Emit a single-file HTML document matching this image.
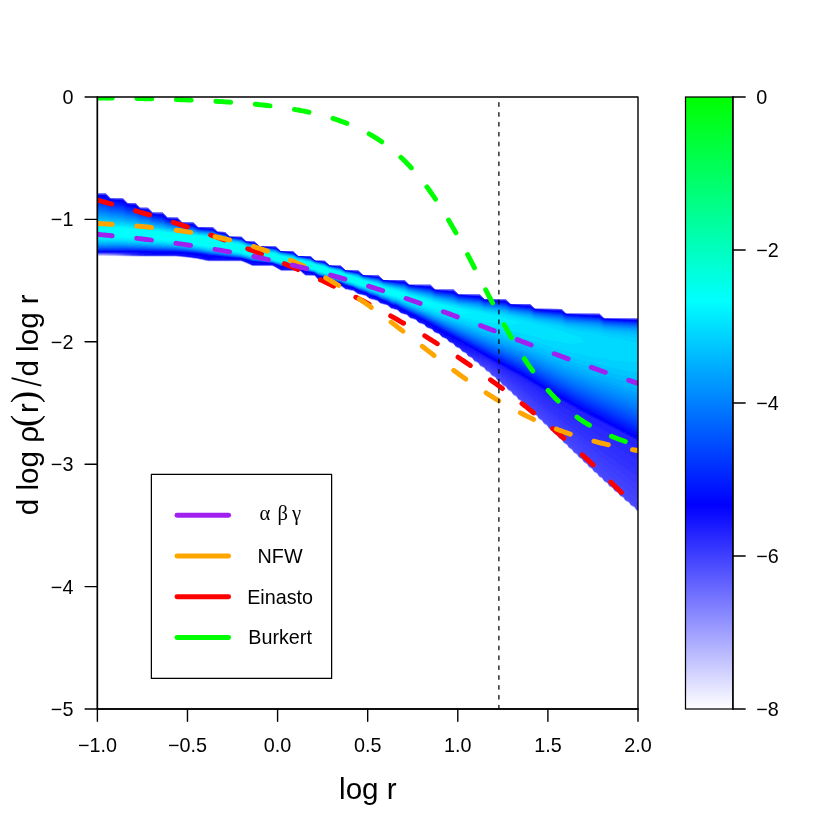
<!DOCTYPE html>
<html><head><meta charset="utf-8"><title>plot</title>
<style>html,body{margin:0;padding:0;background:#fff}svg{display:block;will-change:transform}text{font-family:"Liberation Sans",sans-serif;fill:#000}text.sr{font-family:"Liberation Serif",serif}</style>
</head><body>
<svg width="830" height="830" viewBox="0 0 830 830">
<rect width="830" height="830" fill="#fff"/>
<defs>
<clipPath id="pc"><rect x="97.38" y="97.0" width="540.62" height="612.0"/></clipPath>
<linearGradient id="cb" x1="0" y1="0" x2="0" y2="1">
<stop offset="0" stop-color="#00ff00"/><stop offset="0.33333" stop-color="#00ffff"/><stop offset="0.66667" stop-color="#0000ff"/><stop offset="1" stop-color="#ffffff"/>
</linearGradient>
<filter id="bl" x="-2%" y="-5%" width="104%" height="110%"><feGaussianBlur stdDeviation="0.6"/></filter>
</defs>
<g clip-path="url(#pc)">
<g filter="url(#bl)">
<path d="M96.4,193.4 105.4,193.4 106.4,194.1 110.4,198.2 122.4,198.2 123.4,198.9 127.4,203.0 135.4,203.0 139.4,207.2 140.4,207.8 147.4,207.8 148.4,208.3 152.4,212.5 153.4,212.6 162.4,212.6 163.4,213.3 167.4,217.5 177.4,217.6 181.4,221.7 182.4,222.3 192.4,222.3 193.4,222.5 197.4,226.7 198.4,227.1 212.4,227.1 213.4,227.7 217.4,231.8 224.4,231.9 225.4,232.4 229.4,236.5 230.4,236.7 241.4,236.7 245.4,240.9 246.4,241.5 254.4,241.5 259.4,246.3 275.4,246.3 276.4,247.0 280.4,251.1 292.4,251.1 293.4,251.5 297.4,255.7 298.4,255.9 310.4,256.0 314.4,260.1 315.4,260.7 324.4,260.7 325.4,261.5 329.4,265.6 340.4,265.6 341.4,266.3 345.4,270.4 357.4,270.4 358.4,270.6 362.4,274.7 363.4,275.2 378.4,275.2 382.4,279.4 383.4,280.0 404.4,280.0 408.4,284.1 409.4,284.8 430.4,284.8 434.4,288.9 435.4,289.6 453.4,289.6 454.4,290.3 458.4,294.4 479.4,294.4 480.4,295.1 484.4,299.2 505.4,299.2 506.4,299.9 510.4,304.0 529.4,304.0 530.4,304.3 534.4,308.4 535.4,308.8 561.4,308.9 565.4,313.1 566.4,313.7 599.4,313.7 603.4,317.8 604.4,318.5 638.4,318.5 638.4,511.6 636.4,510.5 635.4,508.8 634.4,507.6 631.4,506.2 630.4,505.0 629.4,503.3 628.4,502.6 625.4,501.1 624.4,499.3 623.4,498.0 620.4,496.5 619.4,495.2 618.4,493.4 615.4,491.9 614.4,491.0 613.4,489.2 612.4,488.2 609.4,486.7 608.4,484.9 607.4,483.5 604.4,482.0 602.4,478.8 599.4,477.3 598.4,475.9 597.4,474.1 594.4,472.5 593.4,471.3 592.4,469.3 589.4,467.7 588.4,466.6 587.4,464.7 584.4,463.0 583.4,461.9 582.4,459.9 579.4,458.2 578.4,457.1 577.4,455.1 574.4,453.3 573.4,452.3 572.4,450.3 569.4,448.5 568.4,447.4 567.4,445.5 564.4,443.7 563.4,442.6 562.4,440.6 559.4,438.9 558.4,437.7 557.4,435.8 554.4,434.1 553.4,432.9 552.4,430.9 549.4,429.2 548.4,428.0 547.4,426.1 544.4,424.4 543.4,423.2 542.4,421.3 539.4,419.6 538.4,418.5 537.4,416.5 534.4,414.8 533.4,413.7 532.4,411.8 529.4,410.1 528.4,409.1 527.4,407.1 526.4,406.3 524.4,405.3 523.4,404.5 522.4,402.6 521.4,401.6 518.4,400.0 517.4,398.1 516.4,396.9 513.4,395.4 511.4,392.2 508.4,390.7 507.4,389.4 506.4,387.6 503.4,386.0 502.4,385.2 501.4,383.4 500.4,382.4 497.4,380.9 495.4,377.8 492.4,376.4 491.4,375.5 490.4,373.7 489.4,372.8 486.4,371.4 484.4,368.3 480.4,366.5 478.4,363.4 474.4,361.5 472.4,358.6 468.4,356.8 466.4,353.8 462.4,352.1 460.4,349.2 456.4,347.5 455.4,346.7 454.4,345.2 453.4,344.1 449.4,342.5 447.4,340.1 446.4,339.2 442.4,337.7 439.4,334.5 435.4,333.1 434.4,332.5 432.4,329.9 427.4,328.2 426.4,327.4 424.4,325.0 419.4,323.4 418.4,322.9 416.4,320.5 415.4,320.0 410.4,318.5 409.4,317.7 407.4,315.5 401.4,313.7 400.4,313.2 398.4,311.1 397.4,310.5 391.4,308.8 390.4,308.2 388.4,306.2 387.4,305.6 380.4,303.7 377.4,301.0 369.4,299.0 366.4,296.4 365.4,296.0 358.4,294.4 357.4,294.0 354.4,291.6 353.4,291.2 345.4,289.5 341.4,286.5 332.4,284.9 328.4,281.5 324.4,280.8 319.4,280.4 318.4,280.1 315.4,276.8 314.4,276.1 305.4,275.8 301.4,272.2 300.4,271.4 299.4,271.1 281.4,271.1 273.4,266.5 272.4,266.2 253.4,266.2 252.4,266.1 246.4,263.4 241.4,261.4 208.4,261.4 197.4,259.1 187.4,257.8 176.4,256.6 142.4,256.6 96.4,256.1Z" fill="#ededff"/>
<path d="M96.4,193.4 105.4,193.4 106.4,194.1 110.4,198.2 122.4,198.2 123.4,198.9 127.4,203.0 135.4,203.0 139.4,207.2 140.4,207.8 147.4,207.8 148.4,208.3 152.4,212.5 153.4,212.6 162.4,212.6 163.4,213.3 167.4,217.5 177.4,217.6 181.4,221.7 182.4,222.3 192.4,222.3 193.4,222.5 197.4,226.7 198.4,227.1 212.4,227.1 213.4,227.7 217.4,231.8 224.4,231.9 225.4,232.4 229.4,236.5 230.4,236.7 241.4,236.7 245.4,240.9 246.4,241.5 254.4,241.5 259.4,246.3 275.4,246.3 276.4,247.0 280.4,251.1 292.4,251.1 293.4,251.5 297.4,255.7 298.4,255.9 310.4,256.0 314.4,260.1 315.4,260.7 324.4,260.7 325.4,261.5 329.4,265.6 340.4,265.6 341.4,266.3 345.4,270.4 357.4,270.4 358.4,270.6 362.4,274.7 363.4,275.2 378.4,275.2 382.4,279.4 383.4,280.0 404.4,280.0 408.4,284.1 409.4,284.8 430.4,284.8 434.4,288.9 435.4,289.6 453.4,289.6 454.4,290.3 458.4,294.4 479.4,294.4 480.4,295.1 484.4,299.2 505.4,299.2 506.4,299.9 510.4,304.0 529.4,304.0 530.4,304.3 534.4,308.4 535.4,308.8 561.4,308.9 565.4,313.1 566.4,313.7 599.4,313.7 603.4,317.8 604.4,318.5 638.4,318.5 638.4,511.5 636.4,510.4 635.4,508.6 634.4,507.4 631.4,506.0 630.4,504.9 629.4,503.1 628.4,502.4 625.4,501.0 624.4,499.2 623.4,497.8 620.4,496.4 619.4,495.1 618.4,493.3 615.4,491.7 614.4,490.9 613.4,489.0 612.4,488.1 609.4,486.5 608.4,484.7 607.4,483.4 604.4,481.8 602.4,478.7 599.4,477.1 598.4,475.7 597.4,473.9 594.4,472.4 593.4,471.1 592.4,469.2 589.4,467.6 588.4,466.5 587.4,464.5 584.4,462.8 583.4,461.7 582.4,459.8 579.4,458.0 578.4,457.0 577.4,455.0 574.4,453.2 573.4,452.1 572.4,450.2 569.4,448.4 568.4,447.3 567.4,445.3 564.4,443.6 563.4,442.4 562.4,440.5 559.4,438.7 558.4,437.6 557.4,435.6 554.4,433.9 553.4,432.7 552.4,430.8 549.4,429.1 548.4,427.9 547.4,425.9 544.4,424.3 543.4,423.1 542.4,421.1 539.4,419.5 538.4,418.3 537.4,416.4 534.4,414.7 533.4,413.6 532.4,411.7 529.4,409.9 528.4,408.9 527.4,407.0 526.4,406.2 524.4,405.2 523.4,404.4 522.4,402.4 521.4,401.5 518.4,399.8 517.4,397.9 516.4,396.7 513.4,395.2 511.4,392.0 508.4,390.5 507.4,389.3 506.4,387.4 503.4,385.9 502.4,385.1 501.4,383.3 500.4,382.3 497.4,380.8 495.4,377.7 492.4,376.2 491.4,375.4 490.4,373.6 489.4,372.6 486.4,371.2 484.4,368.2 480.4,366.3 478.4,363.3 474.4,361.4 472.4,358.4 468.4,356.6 466.4,353.7 462.4,352.0 460.4,349.1 456.4,347.4 455.4,346.6 454.4,345.1 453.4,344.0 449.4,342.4 447.4,339.9 446.4,339.1 442.4,337.6 439.4,334.4 435.4,332.9 434.4,332.4 432.4,329.8 427.4,328.0 426.4,327.3 424.4,324.9 419.4,323.3 418.4,322.7 416.4,320.4 415.4,319.9 410.4,318.4 409.4,317.6 407.4,315.4 401.4,313.6 400.4,313.0 398.4,311.0 397.4,310.3 391.4,308.7 390.4,308.0 388.4,306.1 387.4,305.5 380.4,303.6 377.4,300.9 369.4,298.9 366.4,296.3 365.4,295.9 358.4,294.3 357.4,293.9 354.4,291.5 353.4,291.1 345.4,289.4 341.4,286.4 332.4,284.8 328.4,281.4 324.4,280.7 319.4,280.3 318.4,280.0 315.4,276.7 314.4,276.0 305.4,275.7 301.4,272.1 300.4,271.3 299.4,270.9 281.4,270.9 273.4,266.4 272.4,266.1 253.4,266.1 252.4,266.0 246.4,263.3 241.4,261.3 208.4,261.3 197.4,259.0 187.4,257.6 176.4,256.5 141.4,256.5 96.4,255.8Z" fill="#dedeff"/>
<path d="M96.4,193.4 105.4,193.4 106.4,194.1 110.4,198.2 122.4,198.2 123.4,198.9 127.4,203.0 135.4,203.0 139.4,207.2 140.4,207.8 147.4,207.8 148.4,208.3 152.4,212.5 153.4,212.6 162.4,212.6 163.4,213.3 167.4,217.5 177.4,217.6 181.4,221.7 182.4,222.3 192.4,222.3 193.4,222.5 197.4,226.7 198.4,227.1 212.4,227.1 213.4,227.7 217.4,231.8 224.4,231.9 225.4,232.4 229.4,236.5 230.4,236.7 241.4,236.7 245.4,240.9 246.4,241.5 254.4,241.5 259.4,246.3 275.4,246.3 276.4,247.0 280.4,251.1 292.4,251.1 293.4,251.5 297.4,255.7 298.4,255.9 310.4,256.0 314.4,260.1 315.4,260.7 324.4,260.7 325.4,261.5 329.4,265.6 340.4,265.6 341.4,266.3 345.4,270.4 357.4,270.4 358.4,270.6 362.4,274.7 363.4,275.2 378.4,275.2 382.4,279.4 383.4,280.0 404.4,280.0 408.4,284.1 409.4,284.8 430.4,284.8 434.4,288.9 435.4,289.6 453.4,289.6 454.4,290.3 458.4,294.4 479.4,294.4 480.4,295.1 484.4,299.2 505.4,299.2 506.4,299.9 510.4,304.0 529.4,304.0 530.4,304.3 534.4,308.4 535.4,308.8 561.4,308.9 565.4,313.1 566.4,313.7 599.4,313.7 603.4,317.8 604.4,318.5 638.4,318.5 638.4,511.3 636.4,510.2 635.4,508.5 634.4,507.3 631.4,505.9 630.4,504.7 629.4,503.0 628.4,502.3 625.4,500.8 624.4,499.0 623.4,497.7 620.4,496.2 619.4,495.0 618.4,493.1 615.4,491.6 614.4,490.8 613.4,488.9 612.4,487.9 609.4,486.4 608.4,484.6 607.4,483.2 604.4,481.7 602.4,478.5 599.4,477.0 598.4,475.6 597.4,473.8 594.4,472.2 593.4,471.0 592.4,469.1 589.4,467.4 588.4,466.3 587.4,464.4 584.4,462.7 583.4,461.6 582.4,459.6 579.4,457.9 578.4,456.8 577.4,454.8 574.4,453.1 573.4,452.0 572.4,450.0 569.4,448.2 568.4,447.2 567.4,445.2 564.4,443.4 563.4,442.3 562.4,440.3 559.4,438.6 558.4,437.4 557.4,435.5 554.4,433.8 553.4,432.6 552.4,430.6 549.4,429.0 548.4,427.8 547.4,425.8 544.4,424.1 543.4,422.9 542.4,421.0 539.4,419.3 538.4,418.2 537.4,416.2 534.4,414.5 533.4,413.5 532.4,411.5 529.4,409.8 528.4,408.8 527.4,406.9 526.4,406.1 524.4,405.0 523.4,404.2 522.4,402.3 521.4,401.3 518.4,399.7 517.4,397.8 516.4,396.6 513.4,395.1 511.4,391.9 508.4,390.4 507.4,389.1 506.4,387.3 503.4,385.8 502.4,384.9 501.4,383.1 500.4,382.1 497.4,380.7 495.4,377.5 492.4,376.1 491.4,375.2 490.4,373.5 489.4,372.5 486.4,371.1 484.4,368.1 480.4,366.2 478.4,363.1 474.4,361.2 472.4,358.3 468.4,356.5 466.4,353.5 462.4,351.9 460.4,349.0 456.4,347.2 455.4,346.4 454.4,345.0 453.4,343.9 449.4,342.3 447.4,339.8 446.4,339.0 442.4,337.5 439.4,334.3 435.4,332.8 434.4,332.2 432.4,329.7 427.4,327.9 426.4,327.2 424.4,324.8 419.4,323.2 418.4,322.6 416.4,320.3 415.4,319.8 410.4,318.3 409.4,317.5 407.4,315.3 401.4,313.5 400.4,312.9 398.4,310.9 397.4,310.2 391.4,308.6 390.4,307.9 388.4,306.0 387.4,305.4 380.4,303.5 377.4,300.8 369.4,298.8 366.4,296.2 365.4,295.8 358.4,294.2 357.4,293.8 354.4,291.4 353.4,291.0 345.4,289.3 341.4,286.3 332.4,284.6 328.4,281.3 324.4,280.6 319.4,280.2 318.4,279.9 315.4,276.6 314.4,275.9 305.4,275.6 301.4,272.0 300.4,271.2 299.4,270.8 281.4,270.8 273.4,266.3 272.4,266.0 253.4,266.0 252.4,265.9 246.4,263.1 241.4,261.2 208.4,261.2 197.4,258.9 187.4,257.5 176.4,256.4 140.4,256.4 96.4,255.6Z" fill="#d0d0ff"/>
<path d="M96.4,193.4 105.4,193.4 106.4,194.1 110.4,198.2 122.4,198.2 123.4,198.9 127.4,203.0 135.4,203.0 139.4,207.2 140.4,207.8 147.4,207.8 148.4,208.3 152.4,212.5 153.4,212.6 162.4,212.6 163.4,213.3 167.4,217.5 177.4,217.6 181.4,221.7 182.4,222.3 192.4,222.3 193.4,222.5 197.4,226.7 198.4,227.1 212.4,227.1 213.4,227.7 217.4,231.8 224.4,231.9 225.4,232.4 229.4,236.5 230.4,236.7 241.4,236.7 245.4,240.9 246.4,241.5 254.4,241.5 259.4,246.3 275.4,246.3 276.4,247.0 280.4,251.1 292.4,251.1 293.4,251.5 297.4,255.7 298.4,255.9 310.4,256.0 314.4,260.1 315.4,260.7 324.4,260.7 325.4,261.5 329.4,265.6 340.4,265.6 341.4,266.3 345.4,270.4 357.4,270.4 358.4,270.6 362.4,274.7 363.4,275.2 378.4,275.2 382.4,279.4 383.4,280.0 404.4,280.0 408.4,284.1 409.4,284.8 430.4,284.8 434.4,288.9 435.4,289.6 453.4,289.6 454.4,290.3 458.4,294.4 479.4,294.4 480.4,295.1 484.4,299.2 505.4,299.2 506.4,299.9 510.4,304.0 529.4,304.0 530.4,304.3 534.4,308.4 535.4,308.8 561.4,308.9 565.4,313.1 566.4,313.7 599.4,313.7 603.4,317.8 604.4,318.5 638.4,318.5 638.4,511.2 636.4,510.1 635.4,508.4 634.4,507.1 631.4,505.7 630.4,504.6 629.4,502.8 628.4,502.1 625.4,500.7 624.4,498.9 623.4,497.5 620.4,496.1 619.4,494.8 618.4,493.0 615.4,491.4 614.4,490.6 613.4,488.8 612.4,487.8 609.4,486.3 608.4,484.4 607.4,483.1 604.4,481.6 602.4,478.4 599.4,476.8 598.4,475.5 597.4,473.6 594.4,472.1 593.4,470.9 592.4,468.9 589.4,467.3 588.4,466.2 587.4,464.2 584.4,462.5 583.4,461.5 582.4,459.5 579.4,457.7 578.4,456.7 577.4,454.7 574.4,452.9 573.4,451.9 572.4,449.9 569.4,448.1 568.4,447.0 567.4,445.0 564.4,443.3 563.4,442.2 562.4,440.2 559.4,438.4 558.4,437.3 557.4,435.3 554.4,433.6 553.4,432.4 552.4,430.5 549.4,428.8 548.4,427.6 547.4,425.6 544.4,424.0 543.4,422.8 542.4,420.8 539.4,419.2 538.4,418.0 537.4,416.1 534.4,414.4 533.4,413.3 532.4,411.4 529.4,409.6 528.4,408.7 527.4,406.7 526.4,405.9 524.4,404.9 523.4,404.1 522.4,402.1 521.4,401.2 518.4,399.6 517.4,397.7 516.4,396.5 513.4,394.9 511.4,391.8 508.4,390.3 507.4,389.0 506.4,387.1 503.4,385.6 502.4,384.8 501.4,383.0 500.4,382.0 497.4,380.5 495.4,377.4 492.4,375.9 491.4,375.1 490.4,373.3 489.4,372.4 486.4,370.9 484.4,367.9 480.4,366.0 478.4,363.0 474.4,361.1 472.4,358.2 468.4,356.4 466.4,353.4 462.4,351.7 460.4,348.9 456.4,347.1 455.4,346.3 454.4,344.8 453.4,343.8 449.4,342.2 447.4,339.7 446.4,338.9 442.4,337.4 439.4,334.2 435.4,332.7 434.4,332.1 432.4,329.6 427.4,327.8 426.4,327.1 424.4,324.7 419.4,323.1 418.4,322.5 416.4,320.2 415.4,319.7 410.4,318.2 409.4,317.4 407.4,315.2 401.4,313.4 400.4,312.8 398.4,310.8 397.4,310.1 391.4,308.5 390.4,307.8 388.4,305.9 387.4,305.3 380.4,303.4 377.4,300.7 369.4,298.7 366.4,296.1 365.4,295.7 358.4,294.1 357.4,293.7 354.4,291.3 353.4,290.9 345.4,289.2 341.4,286.2 332.4,284.5 328.4,281.2 324.4,280.5 319.4,280.1 318.4,279.7 315.4,276.5 314.4,275.8 305.4,275.4 301.4,271.8 300.4,271.1 299.4,270.7 281.4,270.7 273.4,266.2 272.4,265.9 253.4,265.9 252.4,265.8 246.4,263.0 241.4,261.1 208.4,261.1 197.4,258.8 187.4,257.4 176.4,256.3 139.4,256.2 105.4,255.4 96.4,255.3Z" fill="#c2c2ff"/>
<path d="M96.4,193.4 105.4,193.4 106.4,194.1 110.4,198.2 122.4,198.2 123.4,198.9 127.4,203.0 135.4,203.0 139.4,207.2 140.4,207.8 147.4,207.8 148.4,208.3 152.4,212.5 153.4,212.6 162.4,212.6 163.4,213.3 167.4,217.5 177.4,217.6 181.4,221.7 182.4,222.3 192.4,222.3 193.4,222.5 197.4,226.7 198.4,227.1 212.4,227.1 213.4,227.7 217.4,231.8 224.4,231.9 225.4,232.4 229.4,236.5 230.4,236.7 241.4,236.7 245.4,240.9 246.4,241.5 254.4,241.5 259.4,246.3 275.4,246.3 276.4,247.0 280.4,251.1 292.4,251.1 293.4,251.5 297.4,255.7 298.4,255.9 310.4,256.0 314.4,260.1 315.4,260.7 324.4,260.7 325.4,261.5 329.4,265.6 340.4,265.6 341.4,266.3 345.4,270.4 357.4,270.4 358.4,270.6 362.4,274.7 363.4,275.2 378.4,275.2 382.4,279.4 383.4,280.0 404.4,280.0 408.4,284.1 409.4,284.8 430.4,284.8 434.4,288.9 435.4,289.6 453.4,289.6 454.4,290.3 458.4,294.4 479.4,294.4 480.4,295.1 484.4,299.2 505.4,299.2 506.4,299.9 510.4,304.0 529.4,304.0 530.4,304.3 534.4,308.4 535.4,308.8 561.4,308.9 565.4,313.1 566.4,313.7 599.4,313.7 603.4,317.8 604.4,318.5 638.4,318.5 638.4,511.0 636.4,510.0 635.4,508.2 634.4,507.0 631.4,505.6 630.4,504.5 629.4,502.7 628.4,502.0 625.4,500.5 624.4,498.7 623.4,497.4 620.4,495.9 619.4,494.7 618.4,492.8 615.4,491.3 614.4,490.5 613.4,488.6 612.4,487.6 609.4,486.1 608.4,484.3 607.4,482.9 604.4,481.4 602.4,478.2 599.4,476.7 598.4,475.3 597.4,473.5 594.4,471.9 593.4,470.7 592.4,468.8 589.4,467.2 588.4,466.0 587.4,464.1 584.4,462.4 583.4,461.3 582.4,459.3 579.4,457.6 578.4,456.5 577.4,454.6 574.4,452.8 573.4,451.7 572.4,449.7 569.4,447.9 568.4,446.9 567.4,444.9 564.4,443.1 563.4,442.0 562.4,440.0 559.4,438.3 558.4,437.2 557.4,435.2 554.4,433.5 553.4,432.3 552.4,430.3 549.4,428.7 548.4,427.5 547.4,425.5 544.4,423.9 543.4,422.7 542.4,420.7 539.4,419.1 538.4,417.9 537.4,415.9 534.4,414.3 533.4,413.2 532.4,411.2 529.4,409.5 528.4,408.5 527.4,406.6 526.4,405.8 524.4,404.7 523.4,403.9 522.4,402.0 521.4,401.0 518.4,399.4 517.4,397.5 516.4,396.3 513.4,394.8 511.4,391.6 508.4,390.1 507.4,388.8 506.4,387.0 503.4,385.5 502.4,384.7 501.4,382.8 500.4,381.8 497.4,380.4 495.4,377.2 492.4,375.8 491.4,374.9 490.4,373.2 489.4,372.2 486.4,370.8 484.4,367.8 480.4,365.9 478.4,362.9 474.4,361.0 472.4,358.1 468.4,356.3 466.4,353.3 462.4,351.6 460.4,348.8 456.4,347.0 455.4,346.2 454.4,344.7 453.4,343.7 449.4,342.1 447.4,339.6 446.4,338.8 442.4,337.3 439.4,334.0 435.4,332.6 434.4,332.0 432.4,329.5 427.4,327.7 426.4,327.0 424.4,324.6 419.4,323.0 418.4,322.4 416.4,320.1 415.4,319.6 410.4,318.0 409.4,317.3 407.4,315.1 401.4,313.3 400.4,312.7 398.4,310.7 397.4,310.0 391.4,308.4 390.4,307.7 388.4,305.8 387.4,305.2 380.4,303.3 377.4,300.6 369.4,298.6 366.4,296.0 365.4,295.6 358.4,294.0 357.4,293.6 354.4,291.2 353.4,290.8 345.4,289.1 341.4,286.1 332.4,284.4 328.4,281.1 324.4,280.4 319.4,280.0 318.4,279.6 315.4,276.3 314.4,275.7 305.4,275.3 301.4,271.7 300.4,271.0 299.4,270.6 281.4,270.6 273.4,266.1 272.4,265.8 253.4,265.8 252.4,265.6 246.4,262.9 241.4,261.0 208.4,261.0 197.4,258.7 187.4,257.3 176.4,256.2 139.4,256.1 104.4,255.1 96.4,255.1Z" fill="#b3b3ff"/>
<path d="M96.4,193.4 105.4,193.4 106.4,194.1 110.4,198.2 122.4,198.2 123.4,198.9 127.4,203.0 135.4,203.0 139.4,207.2 140.4,207.8 147.4,207.8 148.4,208.3 152.4,212.5 153.4,212.6 162.4,212.6 163.4,213.3 167.4,217.5 177.4,217.6 181.4,221.7 182.4,222.3 192.4,222.3 193.4,222.5 197.4,226.7 198.4,227.1 212.4,227.1 213.4,227.7 217.4,231.8 224.4,231.9 225.4,232.4 229.4,236.5 230.4,236.7 241.4,236.7 245.4,240.9 246.4,241.5 254.4,241.5 259.4,246.3 275.4,246.3 276.4,247.0 280.4,251.1 292.4,251.1 293.4,251.5 297.4,255.7 298.4,255.9 310.4,256.0 314.4,260.1 315.4,260.7 324.4,260.7 325.4,261.5 329.4,265.6 340.4,265.6 341.4,266.3 345.4,270.4 357.4,270.4 358.4,270.6 362.4,274.7 363.4,275.2 378.4,275.2 382.4,279.4 383.4,280.0 404.4,280.0 408.4,284.1 409.4,284.8 430.4,284.8 434.4,288.9 435.4,289.6 453.4,289.6 454.4,290.3 458.4,294.4 479.4,294.4 480.4,295.1 484.4,299.2 505.4,299.2 506.4,299.9 510.4,304.0 529.4,304.0 530.4,304.3 534.4,308.4 535.4,308.8 561.4,308.9 565.4,313.1 566.4,313.7 599.4,313.7 603.4,317.8 604.4,318.5 638.4,318.5 638.4,510.9 636.4,509.8 635.4,508.1 634.4,506.9 631.4,505.4 630.4,504.3 629.4,502.5 628.4,501.8 625.4,500.4 624.4,498.6 623.4,497.3 620.4,495.8 619.4,494.5 618.4,492.7 615.4,491.1 614.4,490.3 613.4,488.5 612.4,487.5 609.4,486.0 608.4,484.1 607.4,482.8 604.4,481.3 602.4,478.1 599.4,476.5 598.4,475.2 597.4,473.3 594.4,471.8 593.4,470.6 592.4,468.6 589.4,467.0 588.4,465.9 587.4,463.9 584.4,462.2 583.4,461.2 582.4,459.2 579.4,457.4 578.4,456.4 577.4,454.4 574.4,452.6 573.4,451.6 572.4,449.6 569.4,447.8 568.4,446.7 567.4,444.7 564.4,443.0 563.4,441.9 562.4,439.9 559.4,438.2 558.4,437.0 557.4,435.0 554.4,433.3 553.4,432.2 552.4,430.2 549.4,428.5 548.4,427.3 547.4,425.3 544.4,423.7 543.4,422.5 542.4,420.5 539.4,418.9 538.4,417.7 537.4,415.8 534.4,414.1 533.4,413.0 532.4,411.1 529.4,409.3 528.4,408.4 527.4,406.4 526.4,405.6 524.4,404.6 523.4,403.8 522.4,401.9 521.4,400.9 518.4,399.3 517.4,397.4 516.4,396.2 513.4,394.6 511.4,391.5 508.4,390.0 507.4,388.7 506.4,386.8 503.4,385.3 502.4,384.5 501.4,382.7 500.4,381.7 497.4,380.2 495.4,377.1 492.4,375.7 491.4,374.8 490.4,373.0 489.4,372.1 486.4,370.7 484.4,367.6 480.4,365.8 478.4,362.7 474.4,360.9 472.4,357.9 468.4,356.1 466.4,353.2 462.4,351.5 460.4,348.6 456.4,346.9 455.4,346.1 454.4,344.6 453.4,343.5 449.4,342.0 447.4,339.5 446.4,338.7 442.4,337.2 439.4,333.9 435.4,332.5 434.4,331.9 432.4,329.3 427.4,327.6 426.4,326.9 424.4,324.5 419.4,322.9 418.4,322.3 416.4,320.0 415.4,319.5 410.4,317.9 409.4,317.2 407.4,315.0 401.4,313.2 400.4,312.6 398.4,310.6 397.4,309.9 391.4,308.3 390.4,307.6 388.4,305.7 387.4,305.1 380.4,303.2 377.4,300.5 369.4,298.5 366.4,295.9 365.4,295.5 358.4,293.9 357.4,293.5 354.4,291.0 353.4,290.7 345.4,289.0 341.4,286.0 332.4,284.3 328.4,281.0 324.4,280.3 319.4,279.9 318.4,279.5 315.4,276.2 314.4,275.6 305.4,275.2 301.4,271.6 300.4,270.9 299.4,270.5 281.4,270.5 273.4,266.0 272.4,265.7 253.4,265.7 252.4,265.5 246.4,262.8 241.4,260.9 208.4,260.9 197.4,258.5 187.4,257.2 176.4,256.1 138.4,256.0 124.4,255.6 104.4,254.9 96.4,254.8Z" fill="#a5a5ff"/>
<path d="M96.4,193.4 105.4,193.4 106.4,194.1 110.4,198.2 122.4,198.2 123.4,198.9 127.4,203.0 135.4,203.0 139.4,207.2 140.4,207.8 147.4,207.8 148.4,208.3 152.4,212.5 153.4,212.6 162.4,212.6 163.4,213.3 167.4,217.5 177.4,217.6 181.4,221.7 182.4,222.3 192.4,222.3 193.4,222.5 197.4,226.7 198.4,227.1 212.4,227.1 213.4,227.7 217.4,231.8 224.4,231.9 225.4,232.4 229.4,236.5 230.4,236.7 241.4,236.7 245.4,240.9 246.4,241.5 254.4,241.5 259.4,246.3 275.4,246.3 276.4,247.0 280.4,251.1 292.4,251.1 293.4,251.5 297.4,255.7 298.4,255.9 310.4,256.0 314.4,260.1 315.4,260.7 324.4,260.7 325.4,261.5 329.4,265.6 340.4,265.6 341.4,266.3 345.4,270.4 357.4,270.4 358.4,270.6 362.4,274.7 363.4,275.2 378.4,275.2 382.4,279.4 383.4,280.0 404.4,280.0 408.4,284.1 409.4,284.8 430.4,284.8 434.4,288.9 435.4,289.6 453.4,289.6 454.4,290.3 458.4,294.4 479.4,294.4 480.4,295.1 484.4,299.2 505.4,299.2 506.4,299.9 510.4,304.0 529.4,304.0 530.4,304.3 534.4,308.4 535.4,308.8 561.4,308.9 565.4,313.1 566.4,313.7 599.4,313.7 603.4,317.8 604.4,318.5 638.4,318.5 638.4,510.7 636.4,509.7 635.4,507.9 634.4,506.7 631.4,505.3 630.4,504.2 629.4,502.4 628.4,501.7 625.4,500.2 624.4,498.5 623.4,497.1 620.4,495.6 619.4,494.4 618.4,492.5 615.4,491.0 614.4,490.2 613.4,488.3 612.4,487.3 609.4,485.8 608.4,484.0 607.4,482.7 604.4,481.1 602.4,477.9 599.4,476.4 598.4,475.0 597.4,473.2 594.4,471.6 593.4,470.4 592.4,468.5 589.4,466.9 588.4,465.8 587.4,463.8 584.4,462.1 583.4,461.0 582.4,459.1 579.4,457.3 578.4,456.2 577.4,454.3 574.4,452.5 573.4,451.4 572.4,449.5 569.4,447.7 568.4,446.6 567.4,444.6 564.4,442.8 563.4,441.7 562.4,439.7 559.4,438.0 558.4,436.9 557.4,434.9 554.4,433.2 553.4,432.0 552.4,430.0 549.4,428.4 548.4,427.2 547.4,425.2 544.4,423.6 543.4,422.4 542.4,420.4 539.4,418.8 538.4,417.6 537.4,415.6 534.4,414.0 533.4,412.9 532.4,410.9 529.4,409.2 528.4,408.2 527.4,406.3 526.4,405.5 524.4,404.4 523.4,403.6 522.4,401.7 521.4,400.7 518.4,399.1 517.4,397.2 516.4,396.0 513.4,394.5 511.4,391.3 508.4,389.8 507.4,388.5 506.4,386.7 503.4,385.2 502.4,384.4 501.4,382.5 500.4,381.5 497.4,380.1 495.4,377.0 492.4,375.5 491.4,374.6 490.4,372.9 489.4,371.9 486.4,370.5 484.4,367.5 480.4,365.6 478.4,362.6 474.4,360.7 472.4,357.8 468.4,356.0 466.4,353.1 462.4,351.4 460.4,348.5 456.4,346.8 455.4,346.0 454.4,344.5 453.4,343.4 449.4,341.9 447.4,339.4 446.4,338.6 442.4,337.1 439.4,333.8 435.4,332.4 434.4,331.8 432.4,329.2 427.4,327.5 426.4,326.7 424.4,324.4 419.4,322.8 418.4,322.2 416.4,319.9 415.4,319.3 410.4,317.8 409.4,317.1 407.4,314.9 401.4,313.1 400.4,312.5 398.4,310.4 397.4,309.8 391.4,308.2 390.4,307.5 388.4,305.6 387.4,305.0 380.4,303.1 377.4,300.4 369.4,298.4 366.4,295.8 365.4,295.4 358.4,293.8 357.4,293.4 354.4,290.9 353.4,290.6 345.4,288.9 341.4,285.9 332.4,284.2 328.4,280.9 324.4,280.2 319.4,279.8 318.4,279.4 315.4,276.1 314.4,275.4 305.4,275.1 301.4,271.5 300.4,270.8 299.4,270.4 281.4,270.4 273.4,265.9 272.4,265.6 253.4,265.6 252.4,265.4 246.4,262.7 241.4,260.8 208.4,260.8 197.4,258.4 187.4,257.1 176.4,256.0 138.4,255.9 123.4,255.5 105.4,254.6 96.4,254.6Z" fill="#9797ff"/>
<path d="M96.4,193.4 105.4,193.4 106.4,194.1 110.4,198.2 122.4,198.2 123.4,198.9 127.4,203.0 135.4,203.0 139.4,207.2 140.4,207.8 147.4,207.8 148.4,208.3 152.4,212.5 153.4,212.6 162.4,212.6 163.4,213.3 167.4,217.5 177.4,217.6 181.4,221.7 182.4,222.3 192.4,222.3 193.4,222.5 197.4,226.7 198.4,227.1 212.4,227.1 213.4,227.7 217.4,231.8 224.4,231.9 225.4,232.4 229.4,236.5 230.4,236.7 241.4,236.7 245.4,240.9 246.4,241.5 254.4,241.5 259.4,246.3 275.4,246.3 276.4,247.0 280.4,251.1 292.4,251.1 293.4,251.5 297.4,255.7 298.4,255.9 310.4,256.0 314.4,260.1 315.4,260.7 324.4,260.7 325.4,261.5 329.4,265.6 340.4,265.6 341.4,266.3 345.4,270.4 357.4,270.4 358.4,270.6 362.4,274.7 363.4,275.2 378.4,275.2 382.4,279.4 383.4,280.0 404.4,280.0 408.4,284.1 409.4,284.8 430.4,284.8 434.4,288.9 435.4,289.6 453.4,289.6 454.4,290.3 458.4,294.4 479.4,294.4 480.4,295.1 484.4,299.2 505.4,299.2 506.4,299.9 510.4,304.0 529.4,304.0 530.4,304.3 534.4,308.4 535.4,308.8 561.4,308.9 565.4,313.1 566.4,313.7 599.4,313.7 603.4,317.8 604.4,318.5 638.4,318.5 638.4,510.6 636.4,509.5 635.4,507.8 634.4,506.6 631.4,505.1 630.4,504.0 629.4,502.2 628.4,501.5 625.4,500.1 624.4,498.3 623.4,497.0 620.4,495.5 619.4,494.2 618.4,492.4 615.4,490.9 614.4,490.0 613.4,488.2 612.4,487.2 609.4,485.7 608.4,483.8 607.4,482.5 604.4,481.0 602.4,477.8 599.4,476.3 598.4,474.9 597.4,473.1 594.4,471.5 593.4,470.3 592.4,468.3 589.4,466.7 588.4,465.6 587.4,463.7 584.4,461.9 583.4,460.9 582.4,458.9 579.4,457.1 578.4,456.1 577.4,454.1 574.4,452.3 573.4,451.3 572.4,449.3 569.4,447.5 568.4,446.4 567.4,444.5 564.4,442.7 563.4,441.6 562.4,439.6 559.4,437.9 558.4,436.7 557.4,434.7 554.4,433.1 553.4,431.9 552.4,429.9 549.4,428.2 548.4,427.0 547.4,425.1 544.4,423.4 543.4,422.2 542.4,420.3 539.4,418.6 538.4,417.5 537.4,415.5 534.4,413.8 533.4,412.7 532.4,410.8 529.4,409.1 528.4,408.1 527.4,406.1 526.4,405.3 524.4,404.3 523.4,403.5 522.4,401.6 521.4,400.6 518.4,399.0 517.4,397.1 516.4,395.9 513.4,394.4 511.4,391.2 508.4,389.7 507.4,388.4 506.4,386.5 503.4,385.0 502.4,384.2 501.4,382.4 500.4,381.4 497.4,379.9 495.4,376.8 492.4,375.4 491.4,374.5 490.4,372.7 489.4,371.8 486.4,370.4 484.4,367.4 480.4,365.5 478.4,362.5 474.4,360.6 472.4,357.7 468.4,355.9 466.4,352.9 462.4,351.2 460.4,348.4 456.4,346.6 455.4,345.9 454.4,344.4 453.4,343.3 449.4,341.7 447.4,339.3 446.4,338.5 442.4,336.9 439.4,333.7 435.4,332.3 434.4,331.7 432.4,329.1 427.4,327.4 426.4,326.6 424.4,324.2 419.4,322.6 418.4,322.1 416.4,319.8 415.4,319.2 410.4,317.7 409.4,317.0 407.4,314.8 401.4,313.0 400.4,312.4 398.4,310.3 397.4,309.7 391.4,308.1 390.4,307.4 388.4,305.5 387.4,304.9 380.4,303.0 377.4,300.3 369.4,298.3 366.4,295.7 365.4,295.3 358.4,293.7 357.4,293.3 354.4,290.8 353.4,290.4 345.4,288.8 341.4,285.7 332.4,284.1 328.4,280.8 324.4,280.1 319.4,279.7 318.4,279.3 315.4,276.0 314.4,275.3 305.4,275.0 301.4,271.4 300.4,270.7 299.4,270.3 281.4,270.3 273.4,265.8 272.4,265.5 253.4,265.5 252.4,265.3 246.4,262.6 241.4,260.7 208.4,260.7 197.4,258.3 187.4,257.0 176.4,255.9 137.4,255.7 121.4,255.2 106.4,254.4 96.4,254.3Z" fill="#8888ff"/>
<path d="M96.4,193.4 105.4,193.4 106.4,194.1 110.4,198.2 122.4,198.2 123.4,198.9 127.4,203.0 135.4,203.0 139.4,207.2 140.4,207.8 147.4,207.8 148.4,208.3 152.4,212.5 153.4,212.6 162.4,212.6 163.4,213.3 167.4,217.5 177.4,217.6 181.4,221.7 182.4,222.3 192.4,222.3 193.4,222.5 197.4,226.7 198.4,227.1 212.4,227.1 213.4,227.7 217.4,231.8 224.4,231.9 225.4,232.4 229.4,236.5 230.4,236.7 241.4,236.7 245.4,240.9 246.4,241.5 254.4,241.5 259.4,246.3 275.4,246.3 276.4,247.0 280.4,251.1 292.4,251.1 293.4,251.5 297.4,255.7 298.4,255.9 310.4,256.0 314.4,260.1 315.4,260.7 324.4,260.7 325.4,261.5 329.4,265.6 340.4,265.6 341.4,266.3 345.4,270.4 357.4,270.4 358.4,270.6 362.4,274.7 363.4,275.2 378.4,275.2 382.4,279.4 383.4,280.0 404.4,280.0 408.4,284.1 409.4,284.8 430.4,284.8 434.4,288.9 435.4,289.6 453.4,289.6 454.4,290.3 458.4,294.4 479.4,294.4 480.4,295.1 484.4,299.2 505.4,299.2 506.4,299.9 510.4,304.0 529.4,304.0 530.4,304.3 534.4,308.4 535.4,308.8 561.4,308.9 565.4,313.1 566.4,313.7 599.4,313.7 603.4,317.8 604.4,318.5 638.4,318.5 638.4,510.5 636.4,509.4 635.4,507.6 634.4,506.4 631.4,505.0 630.4,503.9 629.4,502.1 628.4,501.4 625.4,500.0 624.4,498.2 623.4,496.8 620.4,495.4 619.4,494.1 618.4,492.3 615.4,490.7 614.4,489.9 613.4,488.0 612.4,487.1 609.4,485.5 608.4,483.7 607.4,482.4 604.4,480.8 602.4,477.6 599.4,476.1 598.4,474.7 597.4,472.9 594.4,471.4 593.4,470.1 592.4,468.2 589.4,466.6 588.4,465.5 587.4,463.5 584.4,461.8 583.4,460.7 582.4,458.8 579.4,457.0 578.4,456.0 577.4,454.0 574.4,452.2 573.4,451.1 572.4,449.2 569.4,447.4 568.4,446.3 567.4,444.3 564.4,442.6 563.4,441.4 562.4,439.5 559.4,437.7 558.4,436.6 557.4,434.6 554.4,432.9 553.4,431.7 552.4,429.8 549.4,428.1 548.4,426.9 547.4,424.9 544.4,423.3 543.4,422.1 542.4,420.1 539.4,418.5 538.4,417.3 537.4,415.4 534.4,413.7 533.4,412.6 532.4,410.6 529.4,408.9 528.4,407.9 527.4,406.0 526.4,405.2 524.4,404.2 523.4,403.3 522.4,401.4 521.4,400.5 518.4,398.8 517.4,396.9 516.4,395.7 513.4,394.2 511.4,391.0 508.4,389.5 507.4,388.3 506.4,386.4 503.4,384.9 502.4,384.1 501.4,382.3 500.4,381.3 497.4,379.8 495.4,376.7 492.4,375.2 491.4,374.4 490.4,372.6 489.4,371.6 486.4,370.2 484.4,367.2 480.4,365.3 478.4,362.3 474.4,360.5 472.4,357.5 468.4,355.8 466.4,352.8 462.4,351.1 460.4,348.3 456.4,346.5 455.4,345.7 454.4,344.3 453.4,343.2 449.4,341.6 447.4,339.2 446.4,338.4 442.4,336.8 439.4,333.6 435.4,332.2 434.4,331.6 432.4,329.0 427.4,327.3 426.4,326.5 424.4,324.1 419.4,322.5 418.4,322.0 416.4,319.7 415.4,319.1 410.4,317.6 409.4,316.8 407.4,314.7 401.4,312.9 400.4,312.3 398.4,310.2 397.4,309.6 391.4,308.0 390.4,307.3 388.4,305.4 387.4,304.8 380.4,302.9 377.4,300.2 369.4,298.1 366.4,295.6 365.4,295.1 358.4,293.6 357.4,293.1 354.4,290.7 353.4,290.3 345.4,288.6 341.4,285.6 332.4,284.0 328.4,280.7 324.4,280.0 319.4,279.5 318.4,279.2 315.4,275.9 314.4,275.2 305.4,274.9 301.4,271.3 300.4,270.6 299.4,270.2 281.4,270.2 273.4,265.7 272.4,265.4 253.4,265.4 252.4,265.2 246.4,262.5 241.4,260.6 208.4,260.6 197.4,258.2 187.4,256.9 176.4,255.8 137.4,255.6 120.4,255.0 108.4,254.2 96.4,254.0Z" fill="#7a7aff"/>
<path d="M96.4,193.6 105.4,193.6 106.4,194.3 110.4,198.3 122.4,198.4 123.4,199.1 127.4,203.1 135.4,203.2 139.4,207.3 140.4,208.0 147.4,208.0 148.4,208.4 152.4,212.6 153.4,212.8 162.4,212.8 163.4,213.5 167.4,217.6 177.4,217.7 181.4,221.9 182.4,222.4 192.4,222.4 193.4,222.7 197.4,226.8 198.4,227.2 212.4,227.3 213.4,227.9 217.4,231.8 224.4,232.1 225.4,232.6 229.4,236.6 230.4,236.8 241.4,236.9 245.4,240.9 246.4,241.5 254.4,241.7 259.4,246.3 275.4,246.5 276.4,247.1 280.4,251.1 292.4,251.3 293.4,251.7 297.4,255.8 298.4,256.0 310.4,256.1 314.4,260.2 315.4,260.8 324.4,260.9 325.4,261.6 329.4,265.6 340.4,265.7 341.4,266.4 345.4,270.4 357.4,270.5 358.4,270.7 362.4,274.8 363.4,275.2 378.4,275.4 382.4,279.4 383.4,280.0 404.4,280.2 408.4,284.2 409.4,284.9 430.4,285.0 434.4,289.0 435.4,289.7 453.4,289.8 454.4,290.5 458.4,294.5 479.4,294.6 480.4,295.3 484.4,299.3 505.4,299.4 506.4,300.1 510.4,304.1 529.4,304.2 530.4,304.4 534.4,308.5 535.4,308.9 561.4,309.1 565.4,313.2 566.4,313.7 599.4,313.9 603.4,317.9 604.4,318.5 638.4,318.6 638.4,510.3 636.4,509.2 635.4,507.5 634.4,506.3 631.4,504.9 630.4,503.7 629.4,502.0 628.4,501.3 625.4,499.8 624.4,498.0 623.4,496.7 620.4,495.2 619.4,494.0 618.4,492.1 615.4,490.6 614.4,489.8 613.4,487.9 612.4,486.9 609.4,485.4 608.4,483.6 607.4,482.2 604.4,480.7 602.4,477.5 599.4,476.0 598.4,474.6 597.4,472.8 594.4,471.2 593.4,470.0 592.4,468.1 589.4,466.4 588.4,465.3 587.4,463.4 584.4,461.7 583.4,460.6 582.4,458.6 579.4,456.9 578.4,455.8 577.4,453.8 574.4,452.0 573.4,451.0 572.4,449.0 569.4,447.2 568.4,446.2 567.4,444.2 564.4,442.4 563.4,441.3 562.4,439.3 559.4,437.6 558.4,436.4 557.4,434.5 554.4,432.8 553.4,431.6 552.4,429.6 549.4,427.9 548.4,426.7 547.4,424.8 544.4,423.1 543.4,421.9 542.4,420.0 539.4,418.3 538.4,417.2 537.4,415.2 534.4,413.5 533.4,412.5 532.4,410.5 529.4,408.8 528.4,407.8 527.4,405.9 526.4,405.1 524.4,404.0 523.4,403.2 522.4,401.3 521.4,400.3 518.4,398.7 517.4,396.8 516.4,395.6 513.4,394.1 511.4,390.9 508.4,389.4 507.4,388.1 506.4,386.3 503.4,384.7 502.4,383.9 501.4,382.1 500.4,381.1 497.4,379.7 495.4,376.5 492.4,375.1 491.4,374.2 490.4,372.5 489.4,371.5 486.4,370.1 484.4,367.1 480.4,365.2 478.4,362.2 474.4,360.3 472.4,357.4 468.4,355.6 466.4,352.7 462.4,351.0 460.4,348.2 456.4,346.4 455.4,345.6 454.4,344.2 453.4,343.1 449.4,341.5 447.4,339.1 446.4,338.2 442.4,336.7 439.4,333.5 435.4,332.1 434.4,331.5 432.4,328.9 427.4,327.2 426.4,326.4 424.4,324.0 419.4,322.4 418.4,321.9 416.4,319.6 415.4,319.0 410.4,317.5 409.4,316.7 407.4,314.6 401.4,312.7 400.4,312.2 398.4,310.1 397.4,309.5 391.4,307.9 390.4,307.2 388.4,305.2 387.4,304.7 380.4,302.8 377.4,300.0 369.4,298.0 366.4,295.5 365.4,295.0 358.4,293.5 357.4,293.0 354.4,290.6 353.4,290.2 345.4,288.5 341.4,285.5 332.4,283.9 328.4,280.6 324.4,279.9 319.4,279.4 318.4,279.1 315.4,275.8 314.4,275.1 305.4,274.8 301.4,271.2 300.4,270.5 299.4,270.1 281.4,270.1 273.4,265.6 272.4,265.3 253.4,265.3 252.4,265.1 246.4,262.4 241.4,260.5 208.4,260.5 197.4,258.1 187.4,256.8 176.4,255.7 137.4,255.5 122.4,255.0 116.4,254.3 110.4,254.0 96.4,253.8Z" fill="#6c6cff"/>
<path d="M96.4,193.9 105.4,193.9 106.4,194.5 110.4,198.5 122.4,198.7 123.4,199.4 127.4,203.3 135.4,203.5 139.4,207.5 140.4,208.2 147.4,208.3 148.4,208.7 152.4,212.8 153.4,213.0 156.4,213.1 162.4,213.1 163.4,213.8 167.4,217.8 177.4,218.0 181.4,222.1 182.4,222.6 192.4,222.7 193.4,222.9 197.4,227.0 198.4,227.3 212.4,227.5 213.4,228.2 217.4,232.0 224.4,232.3 225.4,232.8 229.4,236.7 241.4,237.1 245.4,241.0 246.4,241.6 254.4,241.9 259.4,246.4 275.4,246.7 276.4,247.4 280.4,251.2 292.4,251.5 293.4,251.9 297.4,255.8 298.4,256.0 310.4,256.4 314.4,260.3 315.4,260.8 324.4,261.1 325.4,261.8 329.4,265.6 340.4,266.0 341.4,266.6 345.4,270.4 357.4,270.8 358.4,271.0 362.4,274.9 363.4,275.3 378.4,275.7 382.4,279.5 383.4,280.1 404.4,280.4 408.4,284.4 409.4,285.0 430.4,285.2 434.4,289.2 435.4,289.8 453.4,290.1 454.4,290.8 458.4,294.6 479.4,294.9 480.4,295.6 484.4,299.4 505.4,299.7 506.4,300.4 510.4,304.2 529.4,304.5 530.4,304.7 534.4,308.6 535.4,309.0 561.4,309.4 565.4,313.3 566.4,313.8 599.4,314.1 603.4,318.0 604.4,318.6 638.4,318.9 638.4,510.2 636.4,509.1 635.4,507.4 634.4,506.1 631.4,504.7 630.4,503.6 629.4,501.8 628.4,501.1 625.4,499.7 624.4,497.9 623.4,496.5 620.4,495.1 619.4,493.8 618.4,492.0 615.4,490.4 614.4,489.6 613.4,487.7 612.4,486.8 609.4,485.3 608.4,483.4 607.4,482.1 604.4,480.5 602.4,477.4 599.4,475.8 598.4,474.5 597.4,472.6 594.4,471.1 593.4,469.9 592.4,467.9 589.4,466.3 588.4,465.2 587.4,463.2 584.4,461.5 583.4,460.4 582.4,458.5 579.4,456.7 578.4,455.7 577.4,453.7 574.4,451.9 573.4,450.9 572.4,448.9 569.4,447.1 568.4,446.0 567.4,444.0 564.4,442.3 563.4,441.2 562.4,439.2 559.4,437.4 558.4,436.3 557.4,434.3 554.4,432.6 553.4,431.4 552.4,429.5 549.4,427.8 548.4,426.6 547.4,424.6 544.4,423.0 543.4,421.8 542.4,419.8 539.4,418.2 538.4,417.0 537.4,415.1 534.4,413.4 533.4,412.3 532.4,410.4 529.4,408.6 528.4,407.6 527.4,405.7 526.4,404.9 524.4,403.9 523.4,403.1 522.4,401.1 521.4,400.2 518.4,398.6 517.4,396.7 516.4,395.4 513.4,393.9 511.4,390.8 508.4,389.2 507.4,388.0 506.4,386.1 503.4,384.6 502.4,383.8 501.4,382.0 500.4,381.0 497.4,379.5 495.4,376.4 492.4,374.9 491.4,374.1 490.4,372.3 489.4,371.4 486.4,369.9 484.4,367.0 480.4,365.1 478.4,362.1 474.4,360.2 472.4,357.3 468.4,355.5 466.4,352.6 462.4,350.9 460.4,348.1 456.4,346.3 455.4,345.5 454.4,344.0 453.4,343.0 449.4,341.4 447.4,338.9 446.4,338.1 442.4,336.6 439.4,333.4 435.4,331.9 434.4,331.4 432.4,328.8 427.4,327.1 426.4,326.3 424.4,323.9 419.4,322.3 418.4,321.8 416.4,319.5 415.4,318.9 410.4,317.4 409.4,316.6 407.4,314.4 401.4,312.6 400.4,312.1 398.4,310.0 397.4,309.4 391.4,307.8 390.4,307.1 388.4,305.1 387.4,304.6 380.4,302.7 377.4,299.9 369.4,297.9 366.4,295.4 365.4,294.9 358.4,293.4 357.4,292.9 354.4,290.5 353.4,290.1 345.4,288.4 341.4,285.4 332.4,283.8 328.4,280.5 324.4,279.8 319.4,279.3 318.4,279.0 315.4,275.7 314.4,275.0 305.4,274.7 301.4,271.1 300.4,270.3 299.4,270.0 281.4,270.0 273.4,265.5 272.4,265.2 253.4,265.2 252.4,265.0 246.4,262.3 241.4,260.4 208.4,260.3 197.4,258.0 187.4,256.7 176.4,255.5 147.4,255.5 136.4,255.4 125.4,255.0 118.4,254.1 112.4,253.7 96.4,253.5Z" fill="#5d5dff"/>
<path d="M96.4,194.1 105.4,194.1 106.4,194.8 108.4,196.9 110.4,198.7 116.4,198.9 122.4,198.9 123.4,199.6 127.4,203.5 135.4,203.8 139.4,207.8 140.4,208.4 147.4,208.6 148.4,209.0 152.4,213.0 153.4,213.2 156.4,213.4 162.4,213.4 163.4,214.1 167.4,218.0 177.4,218.3 181.4,222.3 182.4,222.8 192.4,223.0 193.4,223.2 197.4,227.2 198.4,227.5 212.4,227.8 213.4,228.4 217.4,232.1 224.4,232.6 225.4,233.1 229.4,236.8 241.4,237.4 245.4,241.1 246.4,241.7 254.4,242.1 259.4,246.4 275.4,247.0 276.4,247.6 280.4,251.2 292.4,251.8 293.4,252.2 297.4,255.9 298.4,256.1 310.4,256.6 314.4,260.3 315.4,260.9 324.4,261.4 325.4,262.1 329.4,265.7 340.4,266.2 341.4,266.9 345.4,270.5 357.4,271.1 358.4,271.3 362.4,275.0 363.4,275.4 378.4,275.9 382.4,279.7 383.4,280.2 398.4,280.7 404.4,280.7 408.4,284.5 409.4,285.1 430.4,285.5 434.4,289.3 435.4,289.9 453.4,290.3 458.4,294.7 479.4,295.1 480.4,295.8 484.4,299.5 505.4,299.9 506.4,300.7 510.4,304.3 529.4,304.8 530.4,305.0 534.4,308.7 535.4,309.1 561.4,309.7 565.4,313.4 566.4,313.9 588.4,314.4 599.4,314.4 603.4,318.2 604.4,318.7 638.4,319.2 638.4,510.0 636.4,509.0 635.4,507.2 634.4,506.0 631.4,504.6 630.4,503.5 629.4,501.7 628.4,501.0 625.4,499.5 624.4,497.7 623.4,496.4 620.4,494.9 619.4,493.7 618.4,491.8 615.4,490.3 614.4,489.5 613.4,487.6 612.4,486.6 609.4,485.1 608.4,483.3 607.4,481.9 604.4,480.4 602.4,477.2 599.4,475.7 598.4,474.3 597.4,472.5 594.4,470.9 593.4,469.7 592.4,467.8 589.4,466.2 588.4,465.0 587.4,463.1 584.4,461.4 583.4,460.3 582.4,458.3 579.4,456.6 578.4,455.5 577.4,453.6 574.4,451.8 573.4,450.7 572.4,448.7 569.4,446.9 568.4,445.9 567.4,443.9 564.4,442.1 563.4,441.0 562.4,439.0 559.4,437.3 558.4,436.2 557.4,434.2 554.4,432.5 553.4,431.3 552.4,429.3 549.4,427.7 548.4,426.5 547.4,424.5 544.4,422.8 543.4,421.7 542.4,419.7 539.4,418.0 538.4,416.9 537.4,414.9 534.4,413.3 533.4,412.2 532.4,410.2 529.4,408.5 528.4,407.5 527.4,405.6 526.4,404.8 524.4,403.7 523.4,402.9 522.4,401.0 521.4,400.0 518.4,398.4 517.4,396.5 516.4,395.3 513.4,393.8 511.4,390.6 508.4,389.1 507.4,387.8 506.4,386.0 503.4,384.5 502.4,383.7 501.4,381.8 500.4,380.8 497.4,379.4 495.4,376.2 492.4,374.8 491.4,373.9 490.4,372.2 489.4,371.2 486.4,369.8 484.4,366.8 480.4,364.9 478.4,362.0 474.4,360.1 472.4,357.2 468.4,355.4 466.4,352.5 462.4,350.8 460.4,347.9 456.4,346.2 455.4,345.4 454.4,343.9 453.4,342.9 449.4,341.3 447.4,338.8 446.4,338.0 442.4,336.5 439.4,333.3 435.4,331.8 434.4,331.3 432.4,328.7 427.4,326.9 426.4,326.2 424.4,323.8 419.4,322.2 418.4,321.7 416.4,319.3 415.4,318.8 410.4,317.3 409.4,316.5 407.4,314.3 401.4,312.5 400.4,312.0 398.4,309.9 397.4,309.3 391.4,307.7 390.4,307.0 388.4,305.0 387.4,304.5 380.4,302.6 377.4,299.8 369.4,297.8 366.4,295.3 365.4,294.8 358.4,293.3 357.4,292.8 354.4,290.4 353.4,290.0 345.4,288.3 341.4,285.3 332.4,283.7 328.4,280.3 324.4,279.7 319.4,279.2 318.4,278.9 315.4,275.6 314.4,274.9 305.4,274.6 301.4,271.0 300.4,270.2 299.4,269.9 281.4,269.9 273.4,265.3 272.4,265.1 253.4,265.1 252.4,264.9 246.4,262.2 241.4,260.2 208.4,260.2 197.4,257.9 187.4,256.6 176.4,255.4 147.4,255.4 136.4,255.2 128.4,255.0 121.4,254.0 114.4,253.5 106.4,253.3 96.4,253.3Z" fill="#4f4fff"/>
<path d="M96.4,194.2 105.4,194.2 106.4,194.9 108.4,197.0 110.4,198.8 116.4,199.0 122.4,199.0 123.4,199.7 125.4,201.8 127.4,203.6 130.4,203.8 135.4,203.9 138.4,206.9 139.4,207.8 140.4,208.5 147.4,208.6 148.4,209.1 152.4,213.1 156.4,213.4 162.4,213.5 163.4,214.2 167.4,218.0 177.4,218.4 181.4,222.4 182.4,222.9 186.4,223.1 192.4,223.1 193.4,223.3 197.4,227.2 198.4,227.6 212.4,227.9 213.4,228.5 217.4,232.1 224.4,232.7 225.4,233.2 229.4,236.8 241.4,237.5 245.4,241.1 246.4,241.7 254.4,242.2 259.4,246.4 275.4,247.1 276.4,247.7 280.4,251.2 292.4,251.8 293.4,252.2 297.4,255.9 298.4,256.1 310.4,256.7 314.4,260.4 315.4,260.9 324.4,261.5 325.4,262.1 329.4,265.7 340.4,266.3 341.4,266.9 345.4,270.5 357.4,271.1 358.4,271.4 362.4,275.0 363.4,275.4 378.4,276.0 382.4,279.7 383.4,280.2 398.4,280.8 404.4,280.8 408.4,284.5 409.4,285.1 424.4,285.6 430.4,285.6 434.4,289.3 435.4,289.9 448.4,290.4 453.4,290.4 458.4,294.7 473.4,295.2 479.4,295.2 484.4,299.5 499.4,300.0 505.4,300.0 510.4,304.3 524.4,304.8 529.4,304.8 530.4,305.1 534.4,308.8 535.4,309.2 561.4,309.8 565.4,313.5 566.4,313.9 588.4,314.5 599.4,314.5 603.4,318.2 604.4,318.7 638.4,319.3 638.4,510.0 636.4,508.9 635.4,507.2 634.4,505.9 631.4,504.5 630.4,503.4 629.4,501.6 628.4,500.9 625.4,499.5 624.4,497.7 623.4,496.3 620.4,494.9 619.4,493.6 618.4,491.8 615.4,490.2 614.4,489.4 613.4,487.6 612.4,486.6 609.4,485.1 608.4,483.2 607.4,481.9 604.4,480.4 602.4,477.2 599.4,475.6 598.4,474.3 597.4,472.4 594.4,470.9 593.4,469.7 592.4,467.7 589.4,466.1 588.4,465.0 587.4,463.0 584.4,461.3 583.4,460.3 582.4,458.3 579.4,456.5 578.4,455.5 577.4,453.5 574.4,451.7 573.4,450.7 572.4,448.7 569.4,446.9 568.4,445.8 567.4,443.8 564.4,442.1 563.4,441.0 562.4,439.0 559.4,437.3 558.4,436.1 557.4,434.1 554.4,432.4 553.4,431.3 552.4,429.3 549.4,427.6 548.4,426.4 547.4,424.4 544.4,422.8 543.4,421.6 542.4,419.6 539.4,418.0 538.4,416.8 537.4,414.9 534.4,413.2 533.4,412.1 532.4,410.2 529.4,408.4 528.4,407.5 527.4,405.5 526.4,404.7 524.4,403.7 523.4,402.9 522.4,400.9 521.4,400.0 518.4,398.4 517.4,396.5 516.4,395.3 513.4,393.7 511.4,390.6 508.4,389.1 507.4,387.8 506.4,385.9 503.4,384.4 502.4,383.6 501.4,381.8 500.4,380.8 497.4,379.3 495.4,376.2 492.4,374.7 491.4,373.9 490.4,372.1 489.4,371.2 486.4,369.8 484.4,366.8 480.4,364.9 478.4,361.9 474.4,360.0 472.4,357.1 468.4,355.3 466.4,352.4 462.4,350.7 460.4,347.9 456.4,346.1 455.4,345.3 454.4,343.9 453.4,342.8 449.4,341.2 447.4,338.8 446.4,338.0 442.4,336.5 439.4,333.3 435.4,331.8 434.4,331.2 432.4,328.7 427.4,326.9 426.4,326.2 424.4,323.8 419.4,322.2 418.4,321.6 416.4,319.3 415.4,318.8 410.4,317.3 409.4,316.5 407.4,314.3 401.4,312.5 400.4,311.9 398.4,309.9 397.4,309.2 391.4,307.6 390.4,306.9 388.4,305.0 387.4,304.4 380.4,302.5 377.4,299.8 369.4,297.8 366.4,295.2 365.4,294.8 358.4,293.2 357.4,292.8 354.4,290.4 353.4,290.0 345.4,288.3 341.4,285.3 332.4,283.6 328.4,280.3 324.4,279.6 319.4,279.2 318.4,278.8 315.4,275.6 314.4,274.9 305.4,274.5 301.4,270.9 300.4,270.2 299.4,269.8 281.4,269.8 273.4,265.3 272.4,265.0 253.4,265.0 252.4,264.9 246.4,262.1 241.4,260.2 208.4,260.2 197.4,257.9 187.4,256.5 176.4,255.4 147.4,255.4 136.4,255.2 129.4,255.0 122.4,254.0 115.4,253.5 106.4,253.2 96.4,253.2Z" fill="#4a4aff"/>
<path d="M96.4,194.3 105.4,194.3 106.4,195.0 108.4,197.1 110.4,198.8 116.4,199.1 122.4,199.1 123.4,199.8 125.4,201.9 127.4,203.7 130.4,203.9 135.4,203.9 138.4,207.0 140.4,208.5 143.4,208.7 147.4,208.7 148.4,209.2 152.4,213.1 156.4,213.5 162.4,213.5 163.4,214.2 165.4,216.3 167.4,218.1 177.4,218.5 181.4,222.4 182.4,222.9 186.4,223.2 192.4,223.2 193.4,223.4 197.4,227.3 198.4,227.6 212.4,228.0 213.4,228.6 217.4,232.2 224.4,232.8 225.4,233.3 229.4,236.8 241.4,237.5 245.4,241.1 246.4,241.7 254.4,242.3 259.4,246.5 275.4,247.2 276.4,247.7 280.4,251.3 292.4,251.9 293.4,252.3 297.4,255.9 298.4,256.1 310.4,256.8 314.4,260.4 315.4,260.9 324.4,261.5 325.4,262.2 329.4,265.7 340.4,266.4 341.4,267.0 345.4,270.5 357.4,271.2 358.4,271.5 362.4,275.0 363.4,275.4 378.4,276.1 382.4,279.7 383.4,280.3 398.4,280.9 404.4,280.9 408.4,284.6 409.4,285.1 424.4,285.7 430.4,285.7 434.4,289.4 435.4,290.0 448.4,290.5 453.4,290.5 458.4,294.8 473.4,295.3 479.4,295.3 484.4,299.6 499.4,300.1 505.4,300.1 510.4,304.4 524.4,304.9 529.4,304.9 530.4,305.2 534.4,308.8 535.4,309.2 561.4,309.8 565.4,313.5 566.4,314.0 588.4,314.6 599.4,314.6 603.4,318.2 604.4,318.8 638.4,319.4 638.4,507.0 636.4,505.9 635.4,504.2 634.4,503.0 631.4,501.6 630.4,500.5 629.4,498.8 628.4,498.1 625.4,496.6 623.4,493.6 620.4,492.1 619.4,490.9 618.4,489.1 615.4,487.6 614.4,486.8 613.4,484.9 612.4,484.0 609.4,482.5 608.4,480.7 607.4,479.4 604.4,477.9 602.4,474.8 599.4,473.2 598.4,471.9 597.4,470.1 594.4,468.6 593.4,467.4 592.4,465.5 589.4,463.9 588.4,462.8 587.4,460.9 584.4,459.2 583.4,458.1 582.4,456.2 579.4,454.5 578.4,453.5 577.4,451.5 574.4,449.8 573.4,448.7 572.4,446.8 569.4,445.0 568.4,444.0 567.4,442.0 564.4,440.3 563.4,439.2 562.4,437.3 559.4,435.5 558.4,434.4 557.4,432.5 554.4,430.8 553.4,429.6 552.4,427.7 549.4,426.1 548.4,424.9 547.4,423.0 544.4,421.3 543.4,420.2 542.4,418.2 539.4,416.6 538.4,415.5 537.4,413.6 534.4,411.9 533.4,410.8 532.4,408.9 529.4,407.2 528.4,406.2 527.4,404.3 523.4,401.7 522.4,399.8 521.4,398.9 518.4,397.3 517.4,395.4 516.4,394.2 513.4,392.7 511.4,389.6 508.4,388.1 507.4,386.9 506.4,385.1 503.4,383.6 502.4,382.8 501.4,381.0 500.4,380.0 497.4,378.6 495.4,375.5 492.4,374.1 491.4,373.2 490.4,371.5 489.4,370.6 486.4,369.1 485.4,368.3 484.4,366.7 480.4,364.8 478.4,361.9 474.4,360.0 472.4,357.1 468.4,355.3 466.4,352.4 462.4,350.7 460.4,347.9 456.4,346.1 455.4,345.3 454.4,343.9 453.4,342.8 449.4,341.2 447.4,338.8 446.4,337.9 442.4,336.4 439.4,333.2 435.4,331.8 434.4,331.2 432.4,328.6 427.4,326.9 426.4,326.1 424.4,323.7 419.4,322.1 418.4,321.6 416.4,319.3 415.4,318.7 410.4,317.2 409.4,316.5 407.4,314.3 401.4,312.5 400.4,311.9 398.4,309.8 397.4,309.2 391.4,307.6 390.4,306.9 388.4,305.0 387.4,304.4 380.4,302.5 377.4,299.8 369.4,297.8 366.4,295.2 365.4,294.7 358.4,293.2 357.4,292.7 354.4,290.3 353.4,289.9 345.4,288.3 341.4,285.2 332.4,283.6 328.4,280.3 324.4,279.6 319.4,279.1 318.4,278.8 315.4,275.5 314.4,274.8 305.4,274.5 301.4,270.9 300.4,270.2 299.4,269.8 281.4,269.8 273.4,265.3 272.4,265.0 253.4,265.0 252.4,264.8 246.4,262.1 241.4,260.2 208.4,260.2 197.4,257.8 187.4,256.5 176.4,255.4 147.4,255.4 136.4,255.2 130.4,255.0 123.4,253.9 116.4,253.4 107.4,253.1 96.4,253.1Z" fill="#4545ff"/>
<path d="M96.4,194.4 105.4,194.4 106.4,195.1 108.4,197.2 110.4,198.9 116.4,199.2 122.4,199.2 123.4,199.9 125.4,202.0 127.4,203.7 130.4,204.0 135.4,204.0 138.4,207.1 140.4,208.6 143.4,208.8 147.4,208.8 148.4,209.3 152.4,213.2 156.4,213.6 162.4,213.6 163.4,214.3 165.4,216.4 167.4,218.2 171.4,218.4 177.4,218.6 181.4,222.5 182.4,223.0 186.4,223.3 192.4,223.3 193.4,223.5 197.4,227.4 198.4,227.7 212.4,228.1 213.4,228.7 217.4,232.2 224.4,232.9 225.4,233.3 229.4,236.9 241.4,237.6 245.4,241.2 246.4,241.7 254.4,242.4 259.4,246.5 275.4,247.2 276.4,247.8 280.4,251.3 292.4,252.0 293.4,252.4 297.4,255.9 298.4,256.1 310.4,256.9 314.4,260.4 315.4,261.0 324.4,261.6 325.4,262.3 329.4,265.7 340.4,266.5 341.4,267.1 345.4,270.6 357.4,271.3 358.4,271.5 362.4,275.0 363.4,275.4 378.4,276.2 382.4,279.8 383.4,280.3 398.4,281.0 404.4,281.0 408.4,284.6 409.4,285.2 424.4,285.8 430.4,285.8 434.4,289.4 435.4,290.0 448.4,290.6 453.4,290.6 458.4,294.8 473.4,295.4 479.4,295.4 484.4,299.6 499.4,300.2 505.4,300.2 510.4,304.4 524.4,305.0 529.4,305.0 530.4,305.3 534.4,308.9 535.4,309.2 552.4,309.8 561.4,309.9 565.4,313.6 566.4,314.0 588.4,314.6 599.4,314.7 603.4,318.3 604.4,318.8 638.4,319.5 638.4,499.5 636.4,498.5 635.4,496.9 634.4,495.8 631.4,494.3 630.4,493.3 629.4,491.7 628.4,491.1 625.4,489.6 623.4,486.8 620.4,485.3 619.4,484.1 618.4,482.5 615.4,480.9 614.4,480.2 613.4,478.5 612.4,477.6 609.4,476.1 608.4,474.4 607.4,473.2 604.4,471.7 602.4,468.8 599.4,467.3 597.4,464.4 594.4,462.8 593.4,461.7 592.4,460.0 589.4,458.4 588.4,457.3 587.4,455.6 584.4,453.9 583.4,452.9 582.4,451.2 579.4,449.4 578.4,448.5 577.4,446.7 574.4,444.9 573.4,443.9 572.4,442.2 569.4,440.4 568.4,439.4 567.4,437.6 564.4,435.9 563.4,434.8 562.4,433.1 559.4,431.3 558.4,430.3 557.4,428.5 554.4,426.8 553.4,425.7 552.4,423.9 549.4,422.3 548.4,421.1 547.4,419.4 544.4,417.7 543.4,416.6 542.4,414.8 539.4,413.2 538.4,412.1 537.4,410.3 534.4,408.6 533.4,407.6 532.4,405.9 529.4,404.1 528.4,403.2 527.4,401.4 523.4,398.8 522.4,397.1 521.4,396.2 518.4,394.6 517.4,392.9 516.4,391.8 513.4,390.2 511.4,387.4 508.4,385.9 507.4,384.7 506.4,383.1 503.4,381.5 502.4,380.8 501.4,379.1 500.4,378.2 497.4,376.7 495.4,373.9 492.4,372.4 491.4,371.6 490.4,370.0 489.4,369.1 486.4,367.7 485.4,366.9 484.4,366.7 480.4,364.7 478.4,361.8 474.4,359.9 472.4,357.0 468.4,355.2 466.4,352.3 462.4,350.6 460.4,347.8 456.4,346.1 455.4,345.3 454.4,343.8 453.4,342.8 449.4,341.2 447.4,338.7 446.4,337.9 442.4,336.4 439.4,333.2 435.4,331.7 434.4,331.1 432.4,328.6 427.4,326.8 426.4,326.1 424.4,323.7 419.4,322.1 418.4,321.6 416.4,319.2 415.4,318.7 410.4,317.2 409.4,316.4 407.4,314.2 401.4,312.4 400.4,311.9 398.4,309.8 397.4,309.2 391.4,307.5 390.4,306.9 388.4,304.9 387.4,304.3 380.4,302.5 377.4,299.7 369.4,297.7 366.4,295.1 365.4,294.7 358.4,293.2 357.4,292.7 354.4,290.3 353.4,289.9 345.4,288.2 341.4,285.2 332.4,283.6 328.4,280.2 324.4,279.5 319.4,279.1 318.4,278.8 315.4,275.5 314.4,274.8 305.4,274.5 301.4,270.9 300.4,270.1 299.4,269.8 281.4,269.8 273.4,265.2 272.4,264.9 253.4,264.9 252.4,264.8 246.4,262.1 241.4,260.1 208.4,260.1 197.4,257.8 187.4,256.5 176.4,255.3 147.4,255.3 136.4,255.1 131.4,255.0 124.4,253.9 117.4,253.3 107.4,253.0 96.4,253.0Z" fill="#4141ff"/>
<path d="M96.4,194.5 105.4,194.5 106.4,195.2 108.4,197.3 110.4,198.9 116.4,199.3 122.4,199.3 123.4,200.0 125.4,202.1 127.4,203.8 130.4,204.1 135.4,204.1 138.4,207.2 140.4,208.7 143.4,208.9 147.4,208.9 148.4,209.4 152.4,213.3 156.4,213.7 162.4,213.7 163.4,214.4 165.4,216.5 167.4,218.2 171.4,218.5 177.4,218.6 180.4,221.7 181.4,222.6 182.4,223.1 186.4,223.3 192.4,223.3 193.4,223.6 197.4,227.4 198.4,227.7 207.4,228.1 212.4,228.2 213.4,228.8 217.4,232.3 224.4,233.0 225.4,233.4 229.4,236.9 241.4,237.7 245.4,241.2 246.4,241.8 254.4,242.5 259.4,246.5 275.4,247.3 276.4,247.9 280.4,251.3 292.4,252.1 293.4,252.5 297.4,255.9 298.4,256.2 310.4,257.0 314.4,260.4 315.4,261.0 324.4,261.7 325.4,262.3 329.4,265.7 340.4,266.5 341.4,267.2 345.4,270.6 357.4,271.4 358.4,271.6 362.4,275.1 363.4,275.5 378.4,276.3 382.4,279.8 383.4,280.3 398.4,281.0 404.4,281.1 408.4,284.7 409.4,285.2 424.4,285.9 430.4,285.9 434.4,289.5 435.4,290.0 448.4,290.7 453.4,290.7 458.4,294.8 473.4,295.5 479.4,295.5 484.4,299.6 499.4,300.3 505.4,300.3 510.4,304.4 524.4,305.1 529.4,305.1 530.4,305.4 534.4,308.9 535.4,309.3 552.4,309.9 561.4,310.0 565.4,313.6 566.4,314.0 588.4,314.7 599.4,314.8 603.4,318.3 604.4,318.8 638.4,319.5 638.4,492.1 636.4,491.0 635.4,489.6 634.4,488.5 631.4,487.1 630.4,486.1 629.4,484.7 625.4,482.6 623.4,479.9 620.4,478.5 619.4,477.4 618.4,475.9 615.4,474.3 614.4,473.6 613.4,472.1 612.4,471.2 609.4,469.7 607.4,467.0 604.4,465.5 602.4,462.9 599.4,461.3 597.4,458.7 594.4,457.1 593.4,456.1 592.4,454.5 589.4,452.9 588.4,451.9 587.4,450.3 584.4,448.6 583.4,447.7 582.4,446.1 579.4,444.4 578.4,443.5 577.4,441.9 574.4,440.1 573.4,439.2 572.4,437.6 569.4,435.8 568.4,434.8 567.4,433.2 564.4,431.5 563.4,430.5 562.4,428.9 559.4,427.1 558.4,426.1 557.4,424.5 554.4,422.8 553.4,421.8 552.4,420.1 549.4,418.5 548.4,417.4 547.4,415.8 544.4,414.1 543.4,413.1 542.4,411.4 539.4,409.7 538.4,408.7 537.4,407.1 534.4,405.4 533.4,404.4 532.4,402.8 529.4,401.0 528.4,400.2 527.4,398.6 523.4,396.0 522.4,394.4 521.4,393.5 518.4,391.9 517.4,390.3 516.4,389.3 513.4,387.8 511.4,385.1 508.4,383.6 507.4,382.5 506.4,381.0 503.4,379.5 502.4,378.8 501.4,377.3 500.4,376.4 497.4,374.9 495.4,372.3 492.4,370.8 491.4,370.0 490.4,368.6 489.4,367.7 485.4,365.5 484.4,365.9 480.4,363.3 479.4,363.2 478.4,361.8 474.4,359.9 472.4,357.0 468.4,355.2 466.4,352.3 462.4,350.6 460.4,347.8 456.4,346.0 455.4,345.2 454.4,343.8 453.4,342.7 449.4,341.1 447.4,338.7 446.4,337.9 442.4,336.4 439.4,333.1 435.4,331.7 434.4,331.1 432.4,328.6 427.4,326.8 426.4,326.1 424.4,323.7 419.4,322.1 418.4,321.5 416.4,319.2 415.4,318.7 410.4,317.1 409.4,316.4 407.4,314.2 401.4,312.4 400.4,311.8 398.4,309.8 397.4,309.1 391.4,307.5 390.4,306.8 388.4,304.9 387.4,304.3 380.4,302.4 377.4,299.7 369.4,297.7 366.4,295.1 365.4,294.7 358.4,293.1 357.4,292.7 354.4,290.3 353.4,289.9 345.4,288.2 341.4,285.2 332.4,283.5 328.4,280.2 324.4,279.5 319.4,279.1 318.4,278.7 315.4,275.4 314.4,274.8 305.4,274.4 301.4,270.8 300.4,270.1 299.4,269.7 281.4,269.7 273.4,265.2 272.4,264.9 253.4,264.9 252.4,264.7 246.4,262.0 241.4,260.1 208.4,260.1 197.4,257.8 187.4,256.4 177.4,255.4 147.4,255.3 136.4,255.1 132.4,254.9 125.4,253.8 118.4,253.3 108.4,252.9 96.4,252.9Z" fill="#3c3cff"/>
<path d="M96.4,194.6 105.4,194.6 106.4,195.3 108.4,197.4 110.4,199.0 116.4,199.4 122.4,199.4 123.4,200.1 125.4,202.2 127.4,203.9 130.4,204.2 135.4,204.2 138.4,207.3 140.4,208.7 143.4,209.0 147.4,209.0 148.4,209.4 152.4,213.3 156.4,213.8 162.4,213.8 163.4,214.5 165.4,216.6 167.4,218.3 171.4,218.6 177.4,218.7 180.4,221.8 181.4,222.6 182.4,223.1 186.4,223.4 192.4,223.4 193.4,223.7 197.4,227.5 198.4,227.8 207.4,228.2 212.4,228.3 213.4,228.9 217.4,232.3 224.4,233.0 225.4,233.5 229.4,236.9 241.4,237.8 245.4,241.2 246.4,241.8 254.4,242.5 259.4,246.5 275.4,247.4 276.4,248.0 280.4,251.3 292.4,252.2 293.4,252.5 297.4,255.9 298.4,256.2 310.4,257.0 314.4,260.5 315.4,261.0 324.4,261.8 325.4,262.4 329.4,265.8 340.4,266.6 341.4,267.2 345.4,270.6 357.4,271.5 358.4,271.7 362.4,275.1 363.4,275.5 378.4,276.4 382.4,279.8 383.4,280.4 398.4,281.1 404.4,281.2 408.4,284.7 409.4,285.2 424.4,286.0 430.4,286.0 433.4,288.7 435.4,290.1 448.4,290.8 453.4,290.8 458.4,294.9 473.4,295.6 479.4,295.6 484.4,299.7 499.4,300.4 505.4,300.4 510.4,304.5 524.4,305.2 529.4,305.2 530.4,305.4 534.4,308.9 535.4,309.3 552.4,310.0 561.4,310.1 565.4,313.6 566.4,314.1 588.4,314.8 599.4,314.8 603.4,318.4 604.4,318.9 638.4,319.6 638.4,484.6 636.4,483.6 634.4,481.3 631.4,479.9 630.4,478.9 629.4,477.6 625.4,475.5 623.4,473.1 620.4,471.6 619.4,470.6 618.4,469.3 615.4,467.7 614.4,467.0 613.4,465.6 612.4,464.8 609.4,463.3 607.4,460.9 604.4,459.3 602.4,456.9 599.4,455.4 597.4,452.9 594.4,451.4 593.4,450.4 592.4,449.0 589.4,447.4 588.4,446.5 587.4,445.0 584.4,443.4 583.4,442.5 582.4,441.0 579.4,439.3 578.4,438.5 577.4,437.0 574.4,435.3 573.4,434.4 572.4,432.9 569.4,431.2 568.4,430.3 567.4,428.8 564.4,427.1 563.4,426.1 562.4,424.7 559.4,422.9 558.4,422.0 557.4,420.5 554.4,418.8 553.4,417.8 552.4,416.3 549.4,414.7 548.4,413.7 547.4,412.2 544.4,410.5 543.4,409.5 542.4,408.0 539.4,406.3 538.4,405.3 537.4,403.9 534.4,402.1 533.4,401.2 532.4,399.7 529.4,398.0 528.4,397.1 527.4,395.7 523.4,393.1 522.4,391.7 521.4,390.8 518.4,389.2 517.4,387.8 516.4,386.8 513.4,385.3 511.4,382.9 508.4,381.4 506.4,379.0 503.4,377.5 502.4,376.8 501.4,375.4 500.4,374.6 497.4,373.1 495.4,370.7 492.4,369.2 491.4,368.4 490.4,367.1 489.4,366.3 485.4,364.1 484.4,364.5 480.4,361.9 479.4,362.1 476.4,360.8 474.4,359.6 472.4,357.0 468.4,355.2 466.4,352.3 462.4,350.6 460.4,347.8 456.4,346.0 455.4,345.2 454.4,343.7 453.4,342.7 449.4,341.1 447.4,338.7 446.4,337.8 442.4,336.3 439.4,333.1 435.4,331.7 434.4,331.1 432.4,328.5 427.4,326.8 426.4,326.0 424.4,323.6 419.4,322.0 418.4,321.5 416.4,319.2 415.4,318.6 410.4,317.1 409.4,316.3 407.4,314.2 401.4,312.4 400.4,311.8 398.4,309.7 397.4,309.1 391.4,307.5 390.4,306.8 388.4,304.8 387.4,304.3 380.4,302.4 377.4,299.7 369.4,297.6 366.4,295.1 365.4,294.6 358.4,293.1 357.4,292.6 354.4,290.2 353.4,289.8 345.4,288.1 341.4,285.1 332.4,283.5 328.4,280.2 324.4,279.5 319.4,279.0 318.4,278.7 315.4,275.4 314.4,274.7 305.4,274.4 301.4,270.8 300.4,270.1 299.4,269.7 281.4,269.7 273.4,265.2 272.4,264.9 253.4,264.9 252.4,264.7 246.4,262.0 241.4,260.1 208.4,260.1 197.4,257.7 187.4,256.4 177.4,255.3 147.4,255.2 136.4,255.0 133.4,254.9 126.4,253.8 119.4,253.2 109.4,252.8 96.4,252.8Z" fill="#3737ff"/>
<path d="M96.4,194.7 105.4,194.7 106.4,195.4 108.4,197.5 110.4,199.1 116.4,199.5 122.4,199.5 123.4,200.2 125.4,202.3 127.4,203.9 130.4,204.2 135.4,204.3 138.4,207.4 140.4,208.8 143.4,209.1 147.4,209.1 148.4,209.5 152.4,213.4 156.4,213.9 162.4,213.9 163.4,214.6 165.4,216.7 167.4,218.4 171.4,218.7 177.4,218.8 180.4,221.9 181.4,222.7 182.4,223.2 186.4,223.5 192.4,223.5 193.4,223.8 195.4,225.8 197.4,227.5 198.4,227.9 207.4,228.3 212.4,228.3 213.4,229.0 217.4,232.3 224.4,233.1 225.4,233.6 229.4,236.9 241.4,237.9 245.4,241.3 246.4,241.8 254.4,242.6 259.4,246.5 275.4,247.5 276.4,248.0 280.4,251.3 292.4,252.2 293.4,252.6 297.4,256.0 298.4,256.2 310.4,257.1 314.4,260.5 315.4,261.0 324.4,261.9 325.4,262.5 329.4,265.8 340.4,266.7 341.4,267.3 345.4,270.6 357.4,271.6 358.4,271.8 362.4,275.1 363.4,275.5 378.4,276.5 382.4,279.9 383.4,280.4 398.4,281.2 404.4,281.3 408.4,284.8 409.4,285.3 424.4,286.0 430.4,286.1 432.4,288.0 434.4,289.6 435.4,290.1 448.4,290.9 453.4,290.9 458.4,294.9 473.4,295.7 479.4,295.7 484.4,299.7 499.4,300.5 505.4,300.5 510.4,304.5 524.4,305.3 529.4,305.3 530.4,305.5 534.4,309.0 535.4,309.3 552.4,310.1 561.4,310.2 562.4,311.2 565.4,313.7 566.4,314.1 588.4,314.9 599.4,314.9 601.4,316.8 603.4,318.4 604.4,318.9 638.4,319.7 638.4,477.2 636.4,476.1 634.4,474.1 631.4,472.6 630.4,471.8 629.4,470.6 625.4,468.5 623.4,466.3 620.4,464.8 618.4,462.6 614.4,460.4 613.4,459.2 612.4,458.4 609.4,456.9 607.4,454.7 604.4,453.1 602.4,450.9 599.4,449.4 597.4,447.2 594.4,445.6 593.4,444.8 592.4,443.5 589.4,441.9 588.4,441.0 587.4,439.7 584.4,438.1 583.4,437.3 582.4,436.0 579.4,434.3 578.4,433.5 577.4,432.2 574.4,430.4 573.4,429.6 572.4,428.3 569.4,426.6 568.4,425.7 567.4,424.4 564.4,422.7 563.4,421.8 562.4,420.5 559.4,418.7 558.4,417.8 557.4,416.5 554.4,414.8 553.4,413.9 552.4,412.6 549.4,410.8 548.4,409.9 547.4,408.6 544.4,406.9 543.4,406.0 542.4,404.6 539.4,402.9 538.4,402.0 537.4,400.6 534.4,398.9 533.4,398.0 532.4,396.7 529.4,394.9 528.4,394.1 527.4,392.8 523.4,390.3 522.4,389.0 521.4,388.2 518.4,386.5 517.4,385.3 516.4,384.4 513.4,382.8 511.4,380.6 508.4,379.1 506.4,377.0 502.4,374.8 501.4,373.5 500.4,372.8 497.4,371.3 495.4,369.1 492.4,367.5 491.4,366.8 490.4,365.6 489.4,364.8 485.4,362.7 484.4,363.2 480.4,360.6 479.4,360.8 478.4,360.8 474.4,358.3 473.4,358.2 472.4,356.9 468.4,355.1 466.4,352.2 462.4,350.5 460.4,347.7 456.4,345.9 455.4,345.2 454.4,343.7 453.4,342.6 449.4,341.1 447.4,338.6 446.4,337.8 442.4,336.3 439.4,333.1 435.4,331.6 434.4,331.0 432.4,328.5 427.4,326.7 426.4,326.0 424.4,323.6 419.4,322.0 418.4,321.5 416.4,319.1 415.4,318.6 410.4,317.1 409.4,316.3 407.4,314.1 401.4,312.3 400.4,311.7 398.4,309.7 397.4,309.0 391.4,307.4 390.4,306.7 388.4,304.8 387.4,304.2 380.4,302.3 377.4,299.6 369.4,297.6 366.4,295.0 365.4,294.6 358.4,293.0 357.4,292.6 354.4,290.2 353.4,289.8 345.4,288.1 341.4,285.1 332.4,283.5 328.4,280.1 324.4,279.4 319.4,279.0 318.4,278.7 315.4,275.4 314.4,274.7 305.4,274.4 301.4,270.8 300.4,270.0 299.4,269.6 281.4,269.6 273.4,265.1 272.4,264.8 253.4,264.8 252.4,264.7 246.4,262.0 241.4,260.0 208.4,260.0 197.4,257.7 187.4,256.3 177.4,255.3 147.4,255.2 135.4,255.0 134.4,254.9 127.4,253.7 120.4,253.1 109.4,252.7 96.4,252.7Z" fill="#3232ff"/>
<path d="M96.4,194.8 105.4,194.8 106.4,195.4 108.4,197.6 110.4,199.1 116.4,199.6 122.4,199.6 123.4,200.3 125.4,202.4 127.4,204.0 130.4,204.3 135.4,204.4 138.4,207.5 140.4,208.9 143.4,209.2 147.4,209.2 148.4,209.6 152.4,213.5 156.4,214.0 162.4,214.0 163.4,214.7 165.4,216.8 167.4,218.4 171.4,218.8 177.4,218.9 180.4,222.0 181.4,222.8 182.4,223.3 186.4,223.6 192.4,223.6 193.4,223.9 195.4,225.9 197.4,227.6 198.4,227.9 207.4,228.4 212.4,228.4 217.4,232.4 224.4,233.2 225.4,233.7 229.4,237.0 241.4,238.0 245.4,241.3 246.4,241.8 254.4,242.7 259.4,246.5 275.4,247.6 276.4,248.1 280.4,251.3 292.4,252.3 293.4,252.7 297.4,256.0 298.4,256.2 310.4,257.2 314.4,260.5 315.4,261.0 324.4,261.9 329.4,265.8 340.4,266.8 341.4,267.4 345.4,270.6 357.4,271.7 358.4,271.9 362.4,275.1 363.4,275.5 378.4,276.6 382.4,279.9 383.4,280.4 398.4,281.3 404.4,281.3 408.4,284.8 409.4,285.3 424.4,286.1 430.4,286.2 432.4,288.0 434.4,289.6 435.4,290.1 448.4,290.9 453.4,291.0 458.4,294.9 473.4,295.8 479.4,295.8 484.4,299.7 499.4,300.5 505.4,300.6 510.4,304.5 524.4,305.4 529.4,305.4 530.4,305.6 531.4,306.6 534.4,309.0 535.4,309.4 552.4,310.2 561.4,310.3 562.4,311.3 565.4,313.7 566.4,314.1 588.4,315.0 599.4,315.0 601.4,316.9 603.4,318.4 604.4,318.9 638.4,319.8 638.4,469.7 636.4,468.7 634.4,466.8 631.4,465.4 629.4,463.5 625.4,461.4 623.4,459.5 620.4,458.0 618.4,456.0 614.4,453.8 613.4,452.7 612.4,452.0 609.4,450.5 607.4,448.5 604.4,447.0 602.4,445.0 599.4,443.4 597.4,441.5 594.4,439.9 592.4,438.0 589.4,436.4 588.4,435.6 587.4,434.5 584.4,432.8 583.4,432.1 582.4,430.9 579.4,429.2 578.4,428.5 577.4,427.3 574.4,425.6 573.4,424.8 572.4,423.7 569.4,421.9 568.4,421.2 567.4,420.0 564.4,418.2 563.4,417.4 562.4,416.3 559.4,414.5 558.4,413.7 557.4,412.5 554.4,410.8 553.4,409.9 552.4,408.8 549.4,407.0 547.4,405.0 544.4,403.3 542.4,401.2 539.4,399.4 538.4,398.6 537.4,397.4 534.4,395.6 533.4,394.8 532.4,393.6 529.4,391.8 528.4,391.1 527.4,389.9 523.4,387.4 522.4,386.2 521.4,385.5 518.4,383.9 516.4,381.9 513.4,380.3 511.4,378.4 508.4,376.9 506.4,374.9 503.4,373.4 502.4,372.8 501.4,371.7 500.4,371.0 497.4,369.4 495.4,367.5 492.4,365.9 489.4,363.4 485.4,361.3 484.4,361.8 480.4,359.2 479.4,359.5 478.4,359.6 474.4,357.0 473.4,357.2 471.4,356.4 468.4,354.6 466.4,352.2 462.4,350.5 460.4,347.7 456.4,345.9 455.4,345.1 454.4,343.7 453.4,342.6 449.4,341.0 447.4,338.6 446.4,337.8 442.4,336.2 439.4,333.0 435.4,331.6 434.4,331.0 432.4,328.4 427.4,326.7 426.4,325.9 424.4,323.6 419.4,322.0 418.4,321.4 416.4,319.1 415.4,318.6 410.4,317.0 409.4,316.3 407.4,314.1 401.4,312.3 400.4,311.7 398.4,309.7 397.4,309.0 391.4,307.4 390.4,306.7 388.4,304.8 387.4,304.2 380.4,302.3 377.4,299.6 369.4,297.6 366.4,295.0 365.4,294.6 358.4,293.0 357.4,292.6 354.4,290.1 353.4,289.8 345.4,288.1 341.4,285.1 332.4,283.4 328.4,280.1 324.4,279.4 319.4,279.0 318.4,278.6 315.4,275.3 314.4,274.7 305.4,274.3 301.4,270.7 300.4,270.0 299.4,269.6 281.4,269.6 273.4,265.1 272.4,264.8 253.4,264.8 252.4,264.6 246.4,261.9 241.4,260.0 208.4,260.0 197.4,257.6 187.4,256.3 176.4,255.2 147.4,255.2 136.4,255.0 135.4,254.9 128.4,253.6 121.4,253.0 110.4,252.7 96.4,252.7Z" fill="#2e2eff"/>
<path d="M96.4,194.9 105.4,194.9 106.4,195.5 108.4,197.7 110.4,199.2 116.4,199.7 122.4,199.7 123.4,200.4 125.4,202.5 127.4,204.0 130.4,204.4 135.4,204.5 138.4,207.5 140.4,208.9 143.4,209.3 147.4,209.3 148.4,209.7 152.4,213.5 156.4,214.1 162.4,214.1 163.4,214.8 165.4,216.9 167.4,218.5 171.4,218.9 177.4,219.0 180.4,222.0 181.4,222.9 182.4,223.3 186.4,223.7 192.4,223.7 193.4,223.9 195.4,226.0 197.4,227.6 198.4,228.0 207.4,228.5 212.4,228.5 217.4,232.4 224.4,233.3 225.4,233.8 229.4,237.0 241.4,238.1 245.4,241.3 246.4,241.8 254.4,242.8 259.4,246.5 275.4,247.7 276.4,248.2 280.4,251.3 292.4,252.4 293.4,252.8 297.4,256.0 298.4,256.2 310.4,257.3 314.4,260.5 315.4,261.0 324.4,262.0 329.4,265.8 340.4,266.9 341.4,267.5 345.4,270.6 357.4,271.7 358.4,272.0 362.4,275.2 363.4,275.6 375.4,276.6 378.4,276.6 382.4,279.9 383.4,280.4 398.4,281.4 404.4,281.4 406.4,283.3 408.4,284.8 409.4,285.3 424.4,286.2 430.4,286.2 432.4,288.1 434.4,289.7 435.4,290.2 448.4,291.0 453.4,291.1 458.4,295.0 473.4,295.8 479.4,295.9 484.4,299.8 499.4,300.6 505.4,300.7 510.4,304.6 524.4,305.5 529.4,305.5 530.4,305.7 531.4,306.7 534.4,309.1 535.4,309.4 552.4,310.3 561.4,310.4 562.4,311.4 565.4,313.8 566.4,314.2 588.4,315.1 599.4,315.1 601.4,317.0 603.4,318.5 604.4,319.0 638.4,319.9 638.4,460.2 636.4,459.1 634.4,457.6 631.4,456.1 629.4,454.5 625.4,452.4 623.4,450.8 620.4,449.2 618.4,447.6 614.4,445.5 612.4,443.9 609.4,442.4 607.4,440.7 604.4,439.1 602.4,437.5 599.4,435.9 597.4,434.3 594.4,432.7 592.4,431.1 589.4,429.5 587.4,427.9 584.4,426.3 582.4,424.7 579.4,423.0 577.4,421.4 574.4,419.7 572.4,418.0 569.4,416.3 567.4,414.6 564.4,412.9 562.4,411.2 559.4,409.5 557.4,407.7 554.4,406.0 552.4,404.3 549.4,402.5 547.4,400.8 544.4,399.0 542.4,397.2 539.4,395.5 537.4,393.7 534.4,391.9 532.4,390.1 529.4,388.3 527.4,386.7 523.4,384.2 521.4,382.6 518.4,380.9 516.4,379.3 513.4,377.7 511.4,376.0 508.4,374.5 506.4,372.9 503.4,371.4 500.4,369.2 497.4,367.7 495.4,366.0 492.4,364.4 489.4,362.1 486.4,360.5 485.4,360.0 484.4,360.5 480.4,357.8 479.4,358.2 478.4,358.3 474.4,355.8 473.4,356.0 472.4,355.8 468.4,353.4 467.4,353.3 466.4,352.1 462.4,350.4 460.4,347.6 456.4,345.9 455.4,345.1 454.4,343.6 453.4,342.6 449.4,341.0 447.4,338.5 446.4,337.7 442.4,336.2 439.4,333.0 435.4,331.5 434.4,331.0 432.4,328.4 427.4,326.7 426.4,325.9 424.4,323.5 419.4,321.9 418.4,321.4 416.4,319.1 415.4,318.5 410.4,317.0 409.4,316.2 407.4,314.1 401.4,312.2 400.4,311.7 398.4,309.6 397.4,309.0 391.4,307.4 390.4,306.7 388.4,304.7 387.4,304.2 380.4,302.3 377.4,299.5 369.4,297.5 366.4,295.0 365.4,294.5 358.4,293.0 357.4,292.5 354.4,290.1 353.4,289.7 345.4,288.0 341.4,285.0 332.4,283.4 328.4,280.1 324.4,279.4 319.4,278.9 318.4,278.6 315.4,275.3 314.4,274.6 305.4,274.3 301.4,270.7 300.4,270.0 299.4,269.6 281.4,269.6 273.4,265.1 272.4,264.8 253.4,264.8 252.4,264.6 246.4,261.9 241.4,260.0 208.4,259.9 197.4,257.6 187.4,256.3 176.4,255.1 148.4,255.1 137.4,255.0 136.4,254.9 130.4,253.7 122.4,252.9 111.4,252.6 96.4,252.6Z" fill="#2929ff"/>
<path d="M96.4,194.9 105.4,194.9 106.4,195.6 108.4,197.7 110.4,199.2 116.4,199.8 122.4,199.8 123.4,200.4 125.4,202.6 127.4,204.1 130.4,204.5 135.4,204.6 138.4,207.6 140.4,209.0 143.4,209.4 147.4,209.4 148.4,209.8 152.4,213.6 156.4,214.2 162.4,214.2 163.4,214.9 165.4,217.0 167.4,218.6 171.4,219.0 177.4,219.1 180.4,222.1 181.4,222.9 182.4,223.4 186.4,223.8 192.4,223.8 193.4,224.0 195.4,226.1 197.4,227.7 198.4,228.0 207.4,228.6 212.4,228.6 217.4,232.5 224.4,233.4 225.4,233.9 229.4,237.0 241.4,238.1 245.4,241.3 246.4,241.9 254.4,242.9 259.4,246.6 275.4,247.7 276.4,248.3 280.4,251.4 292.4,252.5 293.4,252.9 297.4,256.0 298.4,256.2 310.4,257.4 314.4,260.6 315.4,261.1 324.4,262.1 329.4,265.8 340.4,267.0 341.4,267.5 345.4,270.7 357.4,271.8 358.4,272.1 362.4,275.2 363.4,275.6 375.4,276.6 378.4,276.7 382.4,280.0 383.4,280.5 398.4,281.5 404.4,281.5 406.4,283.4 408.4,284.9 409.4,285.4 424.4,286.3 430.4,286.3 432.4,288.2 434.4,289.7 435.4,290.2 448.4,291.1 453.4,291.1 458.4,295.0 473.4,295.9 479.4,296.0 484.4,299.8 499.4,300.7 505.4,300.8 510.4,304.6 524.4,305.6 529.4,305.6 530.4,305.8 531.4,306.8 534.4,309.1 535.4,309.4 552.4,310.3 561.4,310.5 563.4,312.3 565.4,313.8 566.4,314.2 588.4,315.2 599.4,315.2 601.4,317.1 603.4,318.5 604.4,319.0 638.4,320.0 638.4,449.5 609.4,433.4 607.4,432.1 589.4,422.0 574.4,413.2 549.4,397.7 532.4,386.5 521.4,379.5 511.4,373.7 497.4,366.0 495.4,364.6 491.4,362.3 489.4,360.8 485.4,358.7 484.4,359.2 480.4,356.5 478.4,357.1 474.4,354.5 473.4,354.7 472.4,354.7 468.4,352.2 467.4,352.2 466.4,352.0 461.4,349.1 460.4,347.6 456.4,345.8 455.4,345.0 454.4,343.6 453.4,342.5 449.4,340.9 447.4,338.5 446.4,337.7 442.4,336.2 439.4,333.0 435.4,331.5 434.4,330.9 432.4,328.4 427.4,326.6 426.4,325.9 424.4,323.5 419.4,321.9 418.4,321.3 416.4,319.0 415.4,318.5 410.4,317.0 409.4,316.2 407.4,314.0 401.4,312.2 400.4,311.6 398.4,309.6 397.4,308.9 391.4,307.3 390.4,306.6 388.4,304.7 387.4,304.1 380.4,302.2 377.4,299.5 369.4,297.5 366.4,294.9 365.4,294.5 358.4,292.9 357.4,292.5 354.4,290.1 353.4,289.7 345.4,288.0 341.4,285.0 332.4,283.3 328.4,280.0 324.4,279.3 319.4,278.9 318.4,278.6 315.4,275.3 314.4,274.6 305.4,274.3 301.4,270.7 300.4,269.9 299.4,269.5 281.4,269.5 273.4,265.0 272.4,264.7 253.4,264.7 252.4,264.6 246.4,261.8 241.4,259.9 208.4,259.9 197.4,257.6 187.4,256.2 176.4,255.1 138.4,254.9 131.4,253.6 123.4,252.9 111.4,252.5 96.4,252.5Z" fill="#2424ff"/>
<path d="M96.4,195.0 105.4,195.0 106.4,195.7 108.4,197.8 110.4,199.3 116.4,199.8 122.4,199.8 123.4,200.5 125.4,202.6 127.4,204.2 130.4,204.6 135.4,204.7 138.4,207.7 140.4,209.1 143.4,209.5 147.4,209.5 148.4,209.9 150.4,212.0 152.4,213.7 156.4,214.3 162.4,214.3 163.4,215.0 165.4,217.1 167.4,218.6 171.4,219.1 177.4,219.2 180.4,222.2 181.4,223.0 182.4,223.5 186.4,223.9 192.4,223.9 193.4,224.1 196.4,227.0 197.4,227.8 198.4,228.1 207.4,228.7 212.4,228.7 217.4,232.5 224.4,233.5 225.4,233.9 229.4,237.0 241.4,238.2 245.4,241.4 246.4,241.9 254.4,242.9 259.4,246.6 275.4,247.8 276.4,248.3 280.4,251.4 292.4,252.6 293.4,252.9 297.4,256.0 298.4,256.3 310.4,257.5 314.4,260.6 315.4,261.1 324.4,262.2 329.4,265.8 340.4,267.0 341.4,267.6 345.4,270.7 357.4,271.9 358.4,272.2 362.4,275.2 363.4,275.6 375.4,276.7 378.4,276.8 382.4,280.0 383.4,280.5 398.4,281.6 404.4,281.6 406.4,283.4 408.4,284.9 409.4,285.4 424.4,286.4 430.4,286.4 432.4,288.3 434.4,289.7 435.4,290.2 448.4,291.2 453.4,291.2 458.4,295.0 473.4,296.0 479.4,296.0 484.4,299.8 499.4,300.8 505.4,300.9 510.4,304.7 524.4,305.7 529.4,305.7 530.4,305.9 531.4,306.9 534.4,309.1 535.4,309.5 552.4,310.4 561.4,310.6 563.4,312.4 565.4,313.8 566.4,314.2 588.4,315.3 599.4,315.3 601.4,317.1 603.4,318.6 604.4,319.0 638.4,320.1 638.4,441.6 589.4,416.3 574.4,408.3 549.4,394.0 522.4,377.7 514.4,373.4 496.4,364.1 485.4,357.5 484.4,357.8 480.4,355.2 478.4,355.8 474.4,353.2 473.4,353.5 472.4,353.5 468.4,351.0 467.4,351.1 466.4,350.9 462.4,348.5 461.4,348.3 459.4,347.0 456.4,345.7 455.4,345.0 454.4,343.6 453.4,342.5 449.4,340.9 447.4,338.5 446.4,337.7 442.4,336.1 439.4,332.9 435.4,331.5 434.4,330.9 432.4,328.3 427.4,326.6 426.4,325.8 424.4,323.5 419.4,321.9 418.4,321.3 416.4,319.0 415.4,318.4 410.4,316.9 409.4,316.2 407.4,314.0 401.4,312.2 400.4,311.6 398.4,309.5 397.4,308.9 391.4,307.3 390.4,306.6 388.4,304.7 387.4,304.1 380.4,302.2 377.4,299.5 369.4,297.5 366.4,294.9 365.4,294.5 358.4,292.9 357.4,292.5 354.4,290.0 353.4,289.7 345.4,288.0 341.4,285.0 332.4,283.3 328.4,280.0 324.4,279.3 319.4,278.9 318.4,278.5 315.4,275.2 314.4,274.5 305.4,274.2 301.4,270.6 300.4,269.9 299.4,269.5 281.4,269.5 273.4,265.0 272.4,264.7 253.4,264.7 252.4,264.5 246.4,261.8 241.4,259.9 208.4,259.9 197.4,257.5 187.4,256.2 176.4,255.1 139.4,254.9 135.4,254.0 132.4,253.5 124.4,252.7 112.4,252.4 96.4,252.4Z" fill="#1f1fff"/>
<path d="M96.4,195.1 105.4,195.1 106.4,195.8 108.4,197.9 110.4,199.4 116.4,199.9 122.4,199.9 123.4,200.6 125.4,202.7 127.4,204.2 130.4,204.7 135.4,204.8 138.4,207.8 140.4,209.2 143.4,209.6 147.4,209.6 148.4,210.0 150.4,212.0 152.4,213.7 156.4,214.3 162.4,214.4 163.4,215.1 165.4,217.2 167.4,218.7 171.4,219.2 177.4,219.3 180.4,222.3 181.4,223.1 182.4,223.5 186.4,224.0 192.4,224.0 193.4,224.2 196.4,227.1 197.4,227.8 198.4,228.1 207.4,228.8 212.4,228.8 217.4,232.5 224.4,233.6 225.4,234.0 229.4,237.1 241.4,238.3 245.4,241.4 246.4,241.9 254.4,243.0 259.4,246.6 275.4,247.9 276.4,248.4 280.4,251.4 292.4,252.7 293.4,253.0 297.4,256.0 310.4,257.5 314.4,260.6 315.4,261.1 324.4,262.3 329.4,265.9 340.4,267.1 341.4,267.7 345.4,270.7 358.4,272.2 362.4,275.3 363.4,275.6 375.4,276.8 378.4,276.9 382.4,280.1 383.4,280.5 398.4,281.7 404.4,281.7 406.4,283.5 408.4,285.0 409.4,285.5 424.4,286.5 430.4,286.5 432.4,288.3 434.4,289.8 435.4,290.3 448.4,291.3 453.4,291.3 458.4,295.1 473.4,296.1 479.4,296.1 484.4,299.9 499.4,300.9 505.4,300.9 510.4,304.7 524.4,305.7 529.4,305.8 530.4,306.0 531.4,307.0 534.4,309.2 535.4,309.5 552.4,310.5 561.4,310.7 563.4,312.5 565.4,313.9 566.4,314.3 588.4,315.4 599.4,315.4 601.4,317.2 603.4,318.6 604.4,319.0 638.4,320.2 638.4,441.1 589.4,415.8 574.4,407.9 549.4,393.6 522.4,377.3 514.4,372.9 496.4,363.6 492.4,361.4 489.4,359.4 480.4,354.3 479.4,354.2 478.4,354.4 474.4,351.8 473.4,352.3 472.4,352.3 468.4,349.8 467.4,350.0 466.4,349.9 462.4,347.4 460.4,347.0 455.4,344.2 454.4,343.5 453.4,342.5 449.4,340.9 447.4,338.4 446.4,337.6 442.4,336.1 439.4,332.9 435.4,331.4 434.4,330.9 432.4,328.3 427.4,326.5 426.4,325.8 424.4,323.4 419.4,321.8 418.4,321.3 416.4,319.0 415.4,318.4 410.4,316.9 409.4,316.1 407.4,313.9 401.4,312.1 400.4,311.6 398.4,309.5 397.4,308.9 391.4,307.3 390.4,306.6 388.4,304.6 387.4,304.1 380.4,302.2 377.4,299.4 369.4,297.4 366.4,294.9 365.4,294.4 358.4,292.9 357.4,292.4 354.4,290.0 353.4,289.6 345.4,287.9 341.4,284.9 332.4,283.3 328.4,280.0 324.4,279.3 319.4,278.8 318.4,278.5 315.4,275.2 314.4,274.5 305.4,274.2 301.4,270.6 300.4,269.8 299.4,269.5 281.4,269.5 273.4,265.0 272.4,264.7 253.4,264.7 252.4,264.5 246.4,261.8 241.4,259.8 208.4,259.8 197.4,257.5 187.4,256.2 176.4,255.0 141.4,254.9 134.4,253.5 126.4,252.7 114.4,252.3 96.4,252.3Z" fill="#1a1aff"/>
<path d="M96.4,195.2 105.4,195.2 106.4,195.9 108.4,198.0 110.4,199.4 116.4,200.0 122.4,200.0 123.4,200.7 125.4,202.8 127.4,204.3 130.4,204.8 135.4,204.8 138.4,207.9 140.4,209.2 143.4,209.6 147.4,209.6 148.4,210.1 150.4,212.1 152.4,213.8 156.4,214.4 162.4,214.5 163.4,215.2 165.4,217.3 167.4,218.7 171.4,219.3 177.4,219.4 180.4,222.4 181.4,223.1 182.4,223.6 186.4,224.1 192.4,224.1 193.4,224.3 195.4,226.4 197.4,227.9 198.4,228.2 207.4,228.8 212.4,228.9 217.4,232.6 224.4,233.7 225.4,234.1 229.4,237.1 241.4,238.4 245.4,241.4 246.4,241.9 254.4,243.1 259.4,246.6 275.4,248.0 276.4,248.5 280.4,251.4 292.4,252.7 293.4,253.1 297.4,256.1 298.4,256.3 310.4,257.6 314.4,260.6 315.4,261.1 324.4,262.3 329.4,265.9 340.4,267.2 341.4,267.8 345.4,270.7 358.4,272.3 362.4,275.3 363.4,275.7 375.4,276.9 378.4,277.0 382.4,280.1 383.4,280.6 398.4,281.7 404.4,281.8 406.4,283.6 408.4,285.0 409.4,285.5 424.4,286.6 430.4,286.6 432.4,288.4 434.4,289.8 435.4,290.3 448.4,291.4 453.4,291.4 458.4,295.1 473.4,296.2 479.4,296.2 484.4,299.9 499.4,301.0 505.4,301.0 510.4,304.7 524.4,305.8 529.4,305.8 530.4,306.1 531.4,307.1 534.4,309.2 535.4,309.5 552.4,310.6 561.4,310.8 563.4,312.6 565.4,313.9 566.4,314.3 588.4,315.5 599.4,315.5 601.4,317.3 603.4,318.7 604.4,319.1 638.4,320.3 638.4,440.6 589.4,415.4 574.4,407.4 549.4,393.1 521.4,376.2 514.4,372.4 496.4,363.2 492.4,360.9 489.4,359.0 474.4,350.7 472.4,351.1 468.4,348.4 467.4,348.8 466.4,348.8 462.4,346.3 460.4,346.1 456.4,343.7 453.4,342.4 448.4,339.6 447.4,338.4 446.4,337.6 442.4,336.1 439.4,332.9 435.4,331.4 434.4,330.8 432.4,328.3 427.4,326.5 426.4,325.8 424.4,323.4 419.4,321.8 418.4,321.2 416.4,318.9 415.4,318.4 410.4,316.9 409.4,316.1 407.4,313.9 401.4,312.1 400.4,311.5 398.4,309.5 397.4,308.8 391.4,307.2 390.4,306.5 388.4,304.6 387.4,304.0 380.4,302.1 377.4,299.4 369.4,297.4 366.4,294.8 365.4,294.4 358.4,292.8 357.4,292.4 354.4,290.0 353.4,289.6 345.4,287.9 341.4,284.9 332.4,283.2 328.4,279.9 324.4,279.2 319.4,278.8 318.4,278.5 315.4,275.2 314.4,274.5 305.4,274.2 301.4,270.6 300.4,269.8 299.4,269.4 281.4,269.4 273.4,264.9 272.4,264.6 253.4,264.6 252.4,264.5 246.4,261.7 241.4,259.8 208.4,259.8 197.4,257.5 187.4,256.1 176.4,255.0 143.4,254.9 142.4,254.9 139.4,254.1 135.4,253.3 127.4,252.6 114.4,252.2 96.4,252.2Z" fill="#1616ff"/>
<path d="M96.4,195.3 105.4,195.3 106.4,196.0 108.4,198.1 110.4,199.5 116.4,200.1 122.4,200.1 123.4,200.8 125.4,202.9 127.4,204.4 130.4,204.9 135.4,204.9 138.4,208.0 140.4,209.3 143.4,209.7 147.4,209.7 148.4,210.2 150.4,212.2 152.4,213.9 156.4,214.5 162.4,214.5 163.4,215.2 165.4,217.3 167.4,218.8 171.4,219.4 177.4,219.5 180.4,222.5 181.4,223.2 182.4,223.7 186.4,224.2 192.4,224.2 193.4,224.4 195.4,226.4 197.4,227.9 198.4,228.2 207.4,228.9 212.4,229.0 217.4,232.6 224.4,233.8 225.4,234.2 229.4,237.1 241.4,238.5 245.4,241.4 246.4,242.0 254.4,243.2 259.4,246.6 275.4,248.1 276.4,248.6 280.4,251.4 292.4,252.8 293.4,253.2 297.4,256.1 298.4,256.3 310.4,257.7 314.4,260.7 315.4,261.1 324.4,262.4 329.4,265.9 340.4,267.3 345.4,270.7 358.4,272.4 362.4,275.3 363.4,275.7 375.4,277.0 378.4,277.1 382.4,280.1 383.4,280.6 398.4,281.8 404.4,281.9 406.4,283.7 408.4,285.1 409.4,285.5 424.4,286.7 430.4,286.7 432.4,288.5 434.4,289.9 435.4,290.4 448.4,291.5 453.4,291.5 455.4,293.1 458.4,295.1 473.4,296.3 479.4,296.3 481.4,297.9 484.4,299.9 499.4,301.1 505.4,301.1 507.4,302.7 510.4,304.8 524.4,305.9 529.4,305.9 530.4,306.2 531.4,307.2 534.4,309.3 535.4,309.6 552.4,310.7 561.4,310.8 563.4,312.6 565.4,314.0 566.4,314.3 588.4,315.6 599.4,315.6 601.4,317.4 603.4,318.7 604.4,319.1 638.4,320.4 638.4,440.2 589.4,414.9 574.4,406.9 549.4,392.6 521.4,375.8 514.4,372.0 496.4,362.7 489.4,358.6 474.4,350.2 472.4,349.5 468.4,347.1 466.4,347.7 462.4,345.0 460.4,345.1 456.4,342.7 453.4,341.6 441.4,334.8 439.4,332.8 435.4,331.3 434.4,330.7 432.4,328.2 427.4,326.5 426.4,325.7 424.4,323.3 419.4,321.7 418.4,321.2 416.4,318.9 415.4,318.3 410.4,316.8 409.4,316.1 407.4,313.9 401.4,312.1 400.4,311.5 398.4,309.4 397.4,308.8 391.4,307.2 390.4,306.5 388.4,304.6 387.4,304.0 380.4,302.1 377.4,299.4 369.4,297.4 366.4,294.8 365.4,294.4 358.4,292.8 357.4,292.4 354.4,289.9 353.4,289.5 345.4,287.9 341.4,284.8 332.4,283.2 328.4,279.9 324.4,279.2 319.4,278.8 318.4,278.4 315.4,275.1 314.4,274.4 305.4,274.1 301.4,270.5 300.4,269.8 299.4,269.4 281.4,269.4 273.4,264.9 272.4,264.6 253.4,264.6 252.4,264.4 246.4,261.7 241.4,259.8 208.4,259.8 197.4,257.4 187.4,256.1 176.4,255.0 145.4,254.9 137.4,253.3 129.4,252.5 116.4,252.1 96.4,252.1Z" fill="#1111ff"/>
<path d="M96.4,195.4 105.4,195.4 106.4,196.1 108.4,198.2 110.4,199.5 116.4,200.2 122.4,200.2 123.4,200.9 125.4,203.0 127.4,204.4 130.4,204.9 135.4,205.0 138.4,208.1 140.4,209.4 143.4,209.8 147.4,209.8 148.4,210.3 150.4,212.3 152.4,213.9 156.4,214.6 162.4,214.6 163.4,215.3 165.4,217.4 167.4,218.9 171.4,219.4 177.4,219.6 180.4,222.6 181.4,223.3 182.4,223.7 186.4,224.2 192.4,224.3 193.4,224.5 195.4,226.5 197.4,228.0 198.4,228.3 207.4,229.0 212.4,229.1 217.4,232.7 224.4,233.9 225.4,234.3 229.4,237.2 241.4,238.6 245.4,241.5 246.4,242.0 254.4,243.3 259.4,246.6 275.4,248.2 276.4,248.6 280.4,251.4 292.4,252.9 293.4,253.2 297.4,256.1 298.4,256.3 310.4,257.8 314.4,260.7 315.4,261.2 324.4,262.5 329.4,265.9 340.4,267.4 345.4,270.7 358.4,272.5 362.4,275.3 363.4,275.7 375.4,277.1 378.4,277.2 382.4,280.2 383.4,280.6 398.4,281.9 404.4,282.0 406.4,283.8 408.4,285.1 409.4,285.6 424.4,286.8 430.4,286.8 432.4,288.6 435.4,290.4 448.4,291.6 453.4,291.6 455.4,293.2 458.4,295.2 473.4,296.4 479.4,296.4 481.4,298.0 484.4,300.0 499.4,301.2 505.4,301.2 507.4,302.8 510.4,304.8 524.4,306.0 529.4,306.0 530.4,306.3 531.4,307.3 534.4,309.3 535.4,309.6 552.4,310.8 561.4,310.9 563.4,312.7 565.4,314.0 566.4,314.4 588.4,315.6 599.4,315.7 601.4,317.5 603.4,318.7 604.4,319.1 638.4,320.5 638.4,439.7 590.4,415.0 575.4,407.0 549.4,392.2 521.4,375.3 514.4,371.5 496.4,362.2 480.4,353.1 468.4,346.6 467.4,346.2 466.4,346.1 462.4,343.5 461.4,343.7 460.4,344.2 456.4,341.7 453.4,340.8 449.4,338.3 447.4,337.5 434.4,330.0 433.4,329.4 432.4,328.2 429.4,327.1 426.4,325.4 424.4,323.3 419.4,321.7 418.4,321.2 416.4,318.8 415.4,318.3 410.4,316.8 409.4,316.0 407.4,313.8 401.4,312.0 400.4,311.5 398.4,309.4 397.4,308.8 391.4,307.2 390.4,306.5 388.4,304.5 387.4,303.9 380.4,302.1 377.4,299.3 369.4,297.3 366.4,294.7 365.4,294.3 358.4,292.8 357.4,292.3 354.4,289.9 353.4,289.5 345.4,287.8 341.4,284.8 332.4,283.2 328.4,279.8 324.4,279.2 319.4,278.7 318.4,278.4 315.4,275.1 314.4,274.4 305.4,274.1 301.4,270.5 300.4,269.7 299.4,269.4 281.4,269.4 273.4,264.8 272.4,264.6 253.4,264.6 252.4,264.4 246.4,261.7 241.4,259.7 211.4,259.7 207.4,259.3 199.4,257.7 194.4,257.0 177.4,255.0 149.4,254.9 147.4,254.7 138.4,253.0 130.4,252.3 117.4,252.0 96.4,252.1Z" fill="#0c0cff"/>
<path d="M96.4,195.5 105.4,195.5 106.4,196.2 108.4,198.3 110.4,199.6 116.4,200.3 122.4,200.3 123.4,201.0 125.4,203.1 127.4,204.5 130.4,205.0 135.4,205.1 138.4,208.2 140.4,209.4 143.4,209.9 147.4,209.9 148.4,210.4 150.4,212.4 152.4,214.0 156.4,214.7 162.4,214.7 163.4,215.4 165.4,217.5 167.4,218.9 171.4,219.5 177.4,219.6 180.4,222.6 182.4,223.8 186.4,224.3 192.4,224.3 193.4,224.6 195.4,226.6 197.4,228.1 198.4,228.4 207.4,229.1 212.4,229.2 217.4,232.7 224.4,233.9 225.4,234.4 229.4,237.2 241.4,238.6 245.4,241.5 246.4,242.0 254.4,243.4 259.4,246.6 275.4,248.3 276.4,248.7 280.4,251.4 292.4,253.0 293.4,253.3 297.4,256.1 298.4,256.4 310.4,257.9 314.4,260.7 315.4,261.2 324.4,262.6 329.4,265.9 340.4,267.5 345.4,270.8 358.4,272.6 362.4,275.4 363.4,275.7 375.4,277.2 378.4,277.3 379.4,278.2 382.4,280.2 383.4,280.6 398.4,282.0 404.4,282.1 406.4,283.8 408.4,285.2 409.4,285.6 424.4,286.8 430.4,286.9 432.4,288.7 435.4,290.4 448.4,291.7 453.4,291.7 455.4,293.3 458.4,295.2 473.4,296.5 479.4,296.5 481.4,298.1 484.4,300.0 499.4,301.3 505.4,301.3 507.4,302.9 510.4,304.8 524.4,306.1 529.4,306.1 530.4,306.4 531.4,307.4 532.4,308.0 534.4,309.3 535.4,309.7 552.4,310.9 561.4,311.0 563.4,312.8 565.4,314.1 566.4,314.4 588.4,315.7 599.4,315.8 601.4,317.5 603.4,318.8 604.4,319.2 638.4,320.5 638.4,439.3 590.4,414.5 576.4,407.1 550.4,392.3 528.4,378.9 519.4,373.7 496.4,361.8 474.4,349.4 468.4,346.1 466.4,345.2 462.4,342.9 461.4,342.5 460.4,342.5 457.4,340.5 455.4,339.4 454.4,340.3 453.4,339.9 449.4,337.4 447.4,336.8 446.4,336.2 442.4,333.8 440.4,332.8 439.4,331.6 438.4,331.6 433.4,328.7 432.4,327.1 430.4,326.3 429.4,326.4 426.4,324.8 425.4,323.4 424.4,322.4 418.4,320.0 416.4,318.0 415.4,317.5 410.4,315.7 409.4,315.1 407.4,313.2 401.4,311.0 400.4,310.5 398.4,308.7 397.4,308.1 395.4,307.3 394.4,307.2 391.4,306.3 390.4,305.7 388.4,303.9 387.4,303.3 380.4,301.3 377.4,298.7 369.4,296.5 366.4,294.1 365.4,293.7 358.4,292.0 357.4,291.5 354.4,289.3 353.4,288.9 345.4,287.0 341.4,284.2 332.4,282.3 328.4,279.3 324.4,278.5 319.4,277.9 318.4,277.5 315.4,274.6 314.4,273.9 305.4,273.2 301.4,269.9 300.4,269.3 299.4,268.9 281.4,268.4 273.4,264.4 272.4,264.1 253.4,263.6 252.4,263.5 246.4,261.0 241.4,259.3 212.4,258.5 211.4,259.0 207.4,258.7 202.4,257.7 201.4,256.9 197.4,256.3 187.4,255.1 176.4,254.0 149.4,253.9 137.4,252.5 127.4,252.0 114.4,251.9 96.4,252.0Z" fill="#0707ff"/>
<path d="M96.4,195.6 105.4,195.6 106.4,196.3 108.4,198.4 110.4,199.7 116.4,200.4 122.4,200.4 123.4,201.1 125.4,203.2 127.4,204.6 130.4,205.1 135.4,205.2 138.4,208.2 140.4,209.5 143.4,210.0 147.4,210.0 148.4,210.4 150.4,212.5 152.4,214.1 156.4,214.8 162.4,214.8 163.4,215.5 165.4,217.6 167.4,219.0 171.4,219.6 177.4,219.7 180.4,222.7 182.4,223.9 186.4,224.4 192.4,224.4 193.4,224.7 195.4,226.7 197.4,228.1 198.4,228.4 207.4,229.2 212.4,229.2 214.4,230.8 217.4,232.8 224.4,234.0 225.4,234.5 229.4,237.2 241.4,238.7 245.4,241.5 246.4,242.0 254.4,243.4 259.4,246.7 275.4,248.3 276.4,248.8 280.4,251.5 292.4,253.1 293.4,253.4 297.4,256.1 310.4,258.0 314.4,260.7 315.4,261.2 324.4,262.7 329.4,265.9 340.4,267.5 345.4,270.8 358.4,272.7 362.4,275.4 363.4,275.8 375.4,277.2 378.4,277.4 379.4,278.3 382.4,280.2 383.4,280.7 398.4,282.1 404.4,282.2 406.4,283.9 408.4,285.2 409.4,285.6 424.4,286.9 430.4,287.0 432.4,288.7 435.4,290.5 448.4,291.8 453.4,291.8 455.4,293.4 458.4,295.2 473.4,296.6 479.4,296.6 481.4,298.2 484.4,300.0 499.4,301.3 505.4,301.4 507.4,303.0 510.4,304.9 524.4,306.2 529.4,306.2 530.4,306.4 531.4,307.5 532.4,308.1 534.4,309.4 535.4,309.7 552.4,311.0 561.4,311.1 562.4,312.2 563.4,312.9 565.4,314.1 566.4,314.4 588.4,315.8 599.4,315.8 601.4,317.6 603.4,318.8 604.4,319.2 638.4,320.6 638.4,438.8 590.4,414.1 576.4,406.6 550.4,391.8 528.4,378.5 519.4,373.3 496.4,361.3 474.4,348.9 462.4,342.4 460.4,341.5 455.4,338.7 454.4,338.4 453.4,338.4 452.4,337.5 449.4,335.6 448.4,335.3 447.4,336.0 446.4,335.5 443.4,333.6 442.4,332.6 441.4,332.5 440.4,332.1 439.4,330.4 438.4,331.0 435.4,329.1 433.4,328.1 432.4,326.1 430.4,325.1 429.4,325.8 426.4,324.1 425.4,322.2 424.4,321.4 418.4,318.8 416.4,317.2 415.4,316.7 410.4,314.7 407.4,312.6 401.4,310.1 397.4,307.4 395.4,306.4 394.4,306.5 391.4,305.5 388.4,303.3 387.4,302.7 380.4,300.5 377.4,298.1 369.4,295.7 366.4,293.5 365.4,293.1 358.4,291.2 357.4,290.7 354.4,288.7 345.4,286.2 341.4,283.6 332.4,281.5 328.4,278.7 324.4,277.8 319.4,277.0 318.4,276.7 315.4,274.0 314.4,273.4 305.4,272.2 301.4,269.4 299.4,268.5 281.4,267.5 273.4,263.9 272.4,263.7 253.4,262.7 252.4,262.6 246.4,260.4 241.4,258.9 212.4,257.3 211.4,258.4 207.4,258.0 202.4,257.1 201.4,255.7 199.4,255.4 188.4,254.2 176.4,253.2 149.4,253.0 138.4,252.1 128.4,251.8 96.4,251.9Z" fill="#0303ff"/>
<path d="M96.4,195.7 105.4,195.7 106.4,196.4 108.4,198.5 110.4,199.7 116.4,200.5 122.4,200.5 123.4,201.2 125.4,203.3 127.4,204.6 130.4,205.2 135.4,205.3 138.4,208.3 140.4,209.6 143.4,210.1 147.4,210.1 148.4,210.5 150.4,212.6 152.4,214.1 156.4,214.9 162.4,214.9 163.4,215.6 165.4,217.7 167.4,219.1 171.4,219.7 177.4,219.8 180.4,222.8 182.4,223.9 186.4,224.5 192.4,224.5 193.4,224.8 195.4,226.8 197.4,228.2 198.4,228.5 207.4,229.3 212.4,229.3 214.4,230.9 217.4,232.8 224.4,234.1 225.4,234.6 229.4,237.2 241.4,238.8 245.4,241.5 246.4,242.0 254.4,243.5 259.4,246.7 275.4,248.4 276.4,248.9 280.4,251.5 292.4,253.1 293.4,253.5 297.4,256.2 310.4,258.0 314.4,260.8 315.4,261.2 324.4,262.7 329.4,266.0 340.4,267.6 345.4,270.8 358.4,272.8 362.4,275.4 363.4,275.8 375.4,277.3 378.4,277.5 379.4,278.3 382.4,280.3 383.4,280.7 398.4,282.2 404.4,282.2 406.4,284.0 408.4,285.2 409.4,285.7 424.4,287.0 430.4,287.1 432.4,288.8 435.4,290.5 448.4,291.8 453.4,291.9 455.4,293.4 458.4,295.3 473.4,296.6 479.4,296.7 481.4,298.3 484.4,300.1 499.4,301.4 505.4,301.5 507.4,303.1 510.4,304.9 524.4,306.3 529.4,306.3 530.4,306.5 531.4,307.5 532.4,308.2 534.4,309.4 535.4,309.7 552.4,311.1 561.4,311.2 562.4,312.2 563.4,312.9 565.4,314.1 566.4,314.5 588.4,315.9 599.4,315.9 601.4,317.7 603.4,318.9 604.4,319.2 638.4,320.7 638.4,438.3 590.4,413.6 575.4,405.6 549.4,390.8 528.4,378.0 520.4,373.4 496.4,360.9 462.4,341.9 449.4,334.8 446.4,333.5 442.4,330.9 441.4,330.4 440.4,331.5 439.4,329.1 438.4,330.3 436.4,327.8 434.4,326.4 433.4,327.4 432.4,325.0 430.4,323.9 429.4,325.2 428.4,324.5 427.4,322.8 426.4,323.4 425.4,321.1 424.4,320.5 401.4,309.1 395.4,305.5 394.4,305.8 391.4,304.7 387.4,302.1 380.4,299.6 377.4,297.5 369.4,294.9 366.4,292.9 358.4,290.4 357.4,289.9 354.4,288.1 353.4,287.7 345.4,285.4 341.4,283.0 332.4,280.7 328.4,278.2 318.4,275.8 315.4,273.5 314.4,272.9 305.4,271.3 301.4,268.8 299.4,268.0 281.4,266.6 273.4,263.5 272.4,263.2 253.4,261.8 241.4,258.4 230.4,257.7 212.4,256.1 211.4,257.8 208.4,257.4 207.4,257.2 202.4,256.4 201.4,254.5 195.4,253.8 176.4,252.3 130.4,251.6 96.4,251.8Z" fill="#0002ff"/>
<path d="M96.4,196.3 105.4,197.2 106.4,197.6 110.4,200.1 122.4,201.8 127.4,205.0 135.4,206.6 139.4,209.4 140.4,209.9 147.4,211.2 148.4,211.6 152.4,214.4 162.4,216.1 167.4,219.3 177.4,221.0 181.4,223.7 182.4,224.1 193.4,225.8 197.4,228.3 198.4,228.6 212.4,229.9 213.4,230.4 217.4,232.9 224.4,234.2 225.4,234.7 229.4,237.3 241.4,238.9 245.4,241.6 246.4,242.1 254.4,243.6 259.4,246.8 275.4,248.5 276.4,249.0 280.4,251.6 292.4,253.2 293.4,253.6 297.4,256.2 298.4,256.5 310.4,258.2 314.4,260.8 315.4,261.3 324.4,262.8 329.4,266.0 340.4,267.7 345.4,270.9 358.4,272.9 362.4,275.5 363.4,275.9 378.4,277.9 382.4,280.4 383.4,280.8 404.4,282.9 408.4,285.4 409.4,285.8 430.4,287.8 434.4,290.2 435.4,290.7 453.4,292.6 458.4,295.5 479.4,297.4 484.4,300.3 505.4,302.2 510.4,305.1 529.4,307.0 530.4,307.2 534.4,309.6 535.4,309.9 561.4,312.0 565.4,314.3 566.4,314.7 599.4,316.8 603.4,319.0 604.4,319.4 638.4,321.0 638.4,437.5 590.4,412.9 575.4,405.0 549.4,390.2 528.4,377.5 520.4,372.8 492.4,358.2 447.4,333.2 425.4,320.6 403.4,309.7 399.4,307.6 395.4,305.1 394.4,305.5 391.4,304.4 387.4,301.9 380.4,299.3 377.4,297.3 369.4,294.6 366.4,292.7 358.4,290.0 353.4,287.4 345.4,285.1 341.4,282.8 332.4,280.3 328.4,278.0 318.4,275.5 315.4,273.3 314.4,272.7 305.4,271.0 301.4,268.6 299.4,267.8 281.4,266.2 272.4,263.0 253.4,261.4 241.4,258.2 230.4,257.4 208.4,255.2 201.4,254.0 196.4,253.4 176.4,251.9 132.4,251.4 96.4,251.6Z" fill="#0007ff"/>
<path d="M96.4,196.3 105.4,197.2 106.4,197.6 110.4,200.1 122.4,201.8 127.4,205.0 135.4,206.6 139.4,209.4 140.4,209.9 147.4,211.2 148.4,211.6 152.4,214.4 162.4,216.1 167.4,219.3 177.4,221.0 181.4,223.7 182.4,224.1 193.4,225.8 197.4,228.3 198.4,228.6 212.4,229.9 213.4,230.4 217.4,232.9 224.4,234.2 225.4,234.7 229.4,237.3 241.4,238.9 245.4,241.6 246.4,242.1 254.4,243.6 259.4,246.8 275.4,248.5 276.4,249.0 280.4,251.6 292.4,253.2 293.4,253.6 297.4,256.2 298.4,256.5 310.4,258.2 314.4,260.8 315.4,261.3 324.4,262.8 329.4,266.0 340.4,267.7 345.4,270.9 358.4,272.9 362.4,275.5 363.4,275.9 378.4,277.9 382.4,280.4 383.4,280.8 404.4,282.9 408.4,285.4 409.4,285.8 430.4,287.8 434.4,290.2 435.4,290.7 453.4,292.6 458.4,295.5 479.4,297.4 484.4,300.3 505.4,302.2 510.4,305.1 529.4,307.0 530.4,307.2 534.4,309.6 535.4,309.9 561.4,312.0 565.4,314.3 566.4,314.7 599.4,316.8 603.4,319.0 604.4,319.4 638.4,321.0 638.4,437.5 590.4,412.9 575.4,405.0 549.4,390.2 528.4,377.5 520.4,372.8 492.4,358.2 447.4,333.2 425.4,320.6 403.4,309.7 399.4,307.6 395.4,305.1 394.4,305.5 391.4,304.4 387.4,301.9 380.4,299.3 377.4,297.3 369.4,294.6 366.4,292.7 358.4,290.0 353.4,287.4 345.4,285.1 341.4,282.8 332.4,280.3 328.4,278.0 318.4,275.5 315.4,273.3 314.4,272.7 305.4,271.0 301.4,268.6 299.4,267.8 281.4,266.2 272.4,263.0 253.4,261.4 241.4,258.2 230.4,257.4 208.4,255.2 201.4,254.0 196.4,253.4 176.4,251.9 132.4,251.4 96.4,251.6Z" fill="#0007ff"/>
<path d="M96.4,197.4 105.4,198.3 110.4,201.2 122.4,202.8 127.4,205.9 135.4,207.4 140.4,210.6 147.4,211.9 148.4,212.3 152.4,215.0 162.4,216.7 167.4,219.8 177.4,221.4 181.4,224.0 182.4,224.4 193.4,226.0 197.4,228.5 198.4,228.8 212.4,230.1 213.4,230.5 217.4,233.1 224.4,234.4 225.4,234.8 229.4,237.5 241.4,239.1 245.4,241.8 246.4,242.2 254.4,243.7 259.4,246.9 275.4,248.7 276.4,249.1 280.4,251.7 292.4,253.4 293.4,253.7 297.4,256.3 310.4,258.3 314.4,260.9 315.4,261.4 324.4,262.9 329.4,266.1 340.4,267.8 345.4,271.0 358.4,273.0 362.4,275.6 363.4,276.0 378.4,278.0 382.4,280.5 383.4,281.0 404.4,283.2 408.4,285.6 409.4,286.0 430.4,288.2 434.4,290.6 435.4,291.0 453.4,293.0 458.4,295.8 479.4,297.8 484.4,300.6 505.4,302.6 510.4,305.4 529.4,307.3 530.4,307.6 534.4,309.9 535.4,310.2 561.4,312.4 565.4,314.7 566.4,315.0 599.4,317.2 603.4,319.4 604.4,319.8 638.4,321.4 638.4,435.5 590.4,411.3 575.4,403.5 549.4,388.9 528.4,376.3 520.4,371.8 492.4,357.3 447.4,332.7 425.4,320.3 403.4,309.5 399.4,307.3 395.4,304.9 394.4,305.3 391.4,304.2 387.4,301.7 380.4,299.1 377.4,297.1 369.4,294.4 366.4,292.5 358.4,289.9 353.4,287.3 345.4,284.9 341.4,282.7 332.4,280.2 328.4,277.9 318.4,275.4 315.4,273.2 314.4,272.7 305.4,270.9 301.4,268.6 299.4,267.8 281.4,266.1 272.4,263.0 253.4,261.3 241.4,258.1 230.4,257.3 208.4,255.0 201.4,253.8 196.4,253.2 176.4,251.6 132.4,251.1 96.4,251.3Z" fill="#0011ff"/>
<path d="M96.4,198.6 105.4,199.4 110.4,202.2 122.4,203.8 127.4,206.7 135.4,208.2 140.4,211.3 147.4,212.6 148.4,213.0 152.4,215.6 162.4,217.2 167.4,220.2 177.4,221.9 181.4,224.4 182.4,224.8 193.4,226.3 197.4,228.7 198.4,229.0 212.4,230.3 213.4,230.7 217.4,233.2 224.4,234.5 225.4,234.9 229.4,237.6 241.4,239.2 245.4,241.9 246.4,242.3 254.4,243.9 259.4,247.0 275.4,248.8 276.4,249.2 280.4,251.8 292.4,253.5 293.4,253.8 297.4,256.4 310.4,258.4 314.4,261.0 315.4,261.5 324.4,263.0 329.4,266.2 340.4,267.9 345.4,271.1 358.4,273.1 362.4,275.7 363.4,276.1 378.4,278.2 382.4,280.7 383.4,281.1 404.4,283.5 408.4,285.9 409.4,286.3 430.4,288.5 434.4,290.9 435.4,291.4 453.4,293.4 458.4,296.2 479.4,298.2 484.4,300.9 505.4,302.9 510.4,305.7 529.4,307.7 530.4,307.9 534.4,310.3 535.4,310.6 561.4,312.7 565.4,315.0 566.4,315.4 599.4,317.5 603.4,319.8 604.4,320.1 638.4,321.8 638.4,433.5 591.4,410.2 575.4,402.0 549.4,387.6 528.4,375.2 520.4,370.7 492.4,356.4 448.4,332.7 425.4,319.9 403.4,309.2 399.4,307.1 395.4,304.7 394.4,305.1 391.4,304.0 387.4,301.5 380.4,299.0 377.4,297.0 369.4,294.3 366.4,292.4 358.4,289.8 353.4,287.2 345.4,284.8 341.4,282.6 332.4,280.1 328.4,277.8 318.4,275.3 315.4,273.1 314.4,272.6 305.4,270.8 301.4,268.5 299.4,267.7 281.4,266.0 272.4,262.9 253.4,261.2 241.4,258.0 230.4,257.1 208.4,254.8 201.4,253.6 196.4,253.0 176.4,251.4 132.4,250.8 96.4,250.9Z" fill="#001aff"/>
<path d="M96.4,199.8 105.4,200.6 110.4,203.2 122.4,204.8 127.4,207.6 135.4,209.0 140.4,212.1 147.4,213.3 148.4,213.7 152.4,216.2 162.4,217.8 167.4,220.7 177.4,222.3 181.4,224.7 182.4,225.1 193.4,226.6 197.4,229.0 198.4,229.2 212.4,230.5 213.4,230.9 217.4,233.3 224.4,234.7 225.4,235.1 229.4,237.7 241.4,239.3 245.4,242.0 246.4,242.5 254.4,244.0 259.4,247.0 275.4,248.9 276.4,249.4 280.4,251.9 292.4,253.6 293.4,253.9 297.4,256.5 310.4,258.5 314.4,261.1 315.4,261.5 324.4,263.1 329.4,266.3 340.4,268.0 345.4,271.1 358.4,273.3 362.4,275.9 363.4,276.2 378.4,278.4 382.4,280.9 383.4,281.3 404.4,283.7 408.4,286.1 409.4,286.5 430.4,288.9 435.4,291.7 453.4,293.8 458.4,296.5 479.4,298.6 484.4,301.3 505.4,303.3 510.4,306.1 529.4,308.1 530.4,308.3 534.4,310.6 535.4,310.9 561.4,313.1 565.4,315.4 566.4,315.7 599.4,317.9 603.4,320.1 604.4,320.5 638.4,322.2 638.4,431.5 591.4,408.5 574.4,399.9 549.4,386.2 528.4,374.0 520.4,369.6 494.4,356.6 448.4,332.2 426.4,320.1 420.4,317.0 403.4,309.0 399.4,306.9 395.4,304.5 394.4,304.8 391.4,303.7 387.4,301.3 380.4,298.8 377.4,296.8 369.4,294.1 366.4,292.3 358.4,289.7 353.4,287.1 345.4,284.7 341.4,282.5 332.4,280.0 328.4,277.7 318.4,275.2 315.4,273.0 314.4,272.5 305.4,270.7 301.4,268.4 299.4,267.7 281.4,265.9 272.4,262.8 253.4,261.1 241.4,257.9 231.4,257.1 208.4,254.6 201.4,253.4 196.4,252.8 184.4,251.7 175.4,251.1 132.4,250.4 96.4,250.5Z" fill="#0024ff"/>
<path d="M96.4,200.9 105.4,201.7 110.4,204.3 122.4,205.7 127.4,208.5 135.4,209.9 140.4,212.8 147.4,214.0 148.4,214.4 152.4,216.8 162.4,218.4 167.4,221.2 177.4,222.8 181.4,225.1 182.4,225.5 193.4,226.9 197.4,229.2 198.4,229.4 212.4,230.7 213.4,231.1 217.4,233.5 224.4,234.8 225.4,235.2 229.4,237.8 241.4,239.5 245.4,242.1 246.4,242.6 254.4,244.1 259.4,247.1 275.4,249.0 276.4,249.5 280.4,252.0 292.4,253.7 293.4,254.0 297.4,256.6 310.4,258.6 314.4,261.2 315.4,261.6 324.4,263.2 329.4,266.3 340.4,268.2 345.4,271.2 358.4,273.4 362.4,276.0 363.4,276.3 378.4,278.5 382.4,281.0 383.4,281.4 404.4,284.0 408.4,286.4 409.4,286.8 430.4,289.3 435.4,292.1 453.4,294.2 458.4,296.9 479.4,299.0 484.4,301.7 505.4,303.7 510.4,306.4 529.4,308.5 530.4,308.7 534.4,311.0 535.4,311.3 561.4,313.5 565.4,315.8 566.4,316.1 599.4,318.3 603.4,320.5 604.4,320.8 638.4,322.5 638.4,429.3 591.4,406.7 574.4,398.3 549.4,384.8 528.4,372.8 520.4,368.4 493.4,355.1 448.4,331.6 426.4,319.7 420.4,316.7 403.4,308.7 399.4,306.6 395.4,304.2 394.4,304.6 391.4,303.5 387.4,301.1 380.4,298.6 377.4,296.7 369.4,294.0 366.4,292.1 358.4,289.5 353.4,287.0 345.4,284.6 341.4,282.4 332.4,279.9 328.4,277.6 318.4,275.1 315.4,272.9 314.4,272.4 305.4,270.6 301.4,268.4 299.4,267.6 281.4,265.8 272.4,262.7 253.4,260.9 241.4,257.7 231.4,256.9 208.4,254.4 201.4,253.2 195.4,252.5 179.4,251.1 172.4,250.8 131.4,250.1 96.4,250.2Z" fill="#002dff"/>
<path d="M96.4,202.1 105.4,202.9 110.4,205.3 122.4,206.7 127.4,209.4 135.4,210.7 140.4,213.5 147.4,214.7 148.4,215.1 152.4,217.4 162.4,219.0 167.4,221.7 177.4,223.2 181.4,225.5 182.4,225.8 193.4,227.2 197.4,229.4 198.4,229.7 212.4,230.9 213.4,231.3 217.4,233.6 224.4,235.0 225.4,235.4 229.4,237.9 241.4,239.6 245.4,242.2 246.4,242.7 254.4,244.2 259.4,247.2 275.4,249.2 276.4,249.6 280.4,252.1 292.4,253.8 293.4,254.1 297.4,256.7 310.4,258.7 314.4,261.3 315.4,261.7 324.4,263.3 329.4,266.4 340.4,268.3 345.4,271.3 358.4,273.5 362.4,276.1 363.4,276.4 378.4,278.7 382.4,281.2 383.4,281.6 404.4,284.3 408.4,286.6 409.4,287.0 430.4,289.7 435.4,292.4 453.4,294.7 458.4,297.3 479.4,299.4 484.4,302.0 505.4,304.1 510.4,306.8 529.4,308.9 530.4,309.1 534.4,311.3 535.4,311.6 561.4,314.0 565.4,316.2 566.4,316.5 599.4,318.7 603.4,320.8 604.4,321.2 638.4,322.9 638.4,427.2 592.4,405.5 574.4,396.7 549.4,383.4 528.4,371.5 520.4,367.2 493.4,354.2 448.4,331.0 425.4,318.8 403.4,308.4 395.4,304.0 394.4,304.4 391.4,303.3 387.4,300.9 380.4,298.4 377.4,296.5 369.4,293.8 366.4,292.0 358.4,289.4 353.4,286.9 345.4,284.5 341.4,282.3 332.4,279.8 328.4,277.5 318.4,275.0 314.4,272.3 305.4,270.5 301.4,268.3 299.4,267.5 281.4,265.7 272.4,262.6 253.4,260.8 241.4,257.6 231.4,256.7 208.4,254.2 201.4,253.0 195.4,252.2 178.4,250.7 171.4,250.5 131.4,249.7 96.4,249.8Z" fill="#0037ff"/>
<path d="M96.4,203.3 105.4,204.0 110.4,206.3 122.4,207.7 127.4,210.3 135.4,211.6 140.4,214.2 147.4,215.4 148.4,215.7 152.4,218.0 162.4,219.5 167.4,222.2 177.4,223.7 181.4,225.8 182.4,226.2 193.4,227.5 197.4,229.6 198.4,229.9 212.4,231.1 213.4,231.5 217.4,233.8 224.4,235.1 225.4,235.5 229.4,238.0 241.4,239.8 246.4,242.8 254.4,244.4 259.4,247.4 275.4,249.3 276.4,249.7 280.4,252.2 292.4,253.9 293.4,254.3 297.4,256.8 310.4,258.8 314.4,261.4 315.4,261.8 324.4,263.4 329.4,266.5 340.4,268.4 345.4,271.4 358.4,273.7 362.4,276.2 363.4,276.6 378.4,278.9 382.4,281.4 383.4,281.8 404.4,284.6 408.4,286.9 409.4,287.3 430.4,290.1 435.4,292.8 453.4,295.1 458.4,297.7 479.4,299.9 484.4,302.4 505.4,304.5 510.4,307.1 529.4,309.3 530.4,309.5 534.4,311.7 535.4,312.0 561.4,314.4 565.4,316.6 566.4,316.9 599.4,319.1 603.4,321.3 604.4,321.6 638.4,323.3 638.4,424.9 592.4,403.7 574.4,395.0 550.4,382.5 528.4,370.3 520.4,366.0 492.4,352.7 448.4,330.5 425.4,318.4 403.4,308.1 395.4,303.8 394.4,304.1 391.4,303.0 387.4,300.7 380.4,298.2 377.4,296.3 369.4,293.7 366.4,291.9 358.4,289.2 353.4,286.7 345.4,284.3 341.4,282.2 332.4,279.7 328.4,277.4 318.4,274.9 314.4,272.3 305.4,270.4 301.4,268.2 299.4,267.5 281.4,265.6 272.4,262.5 253.4,260.7 241.4,257.5 231.4,256.6 208.4,254.0 201.4,252.7 194.4,251.9 177.4,250.4 168.4,250.1 130.4,249.3 96.4,249.4Z" fill="#0040ff"/>
<path d="M96.4,204.5 105.4,205.1 110.4,207.4 122.4,208.7 127.4,211.1 135.4,212.4 140.4,215.0 147.4,216.1 148.4,216.4 152.4,218.6 162.4,220.1 167.4,222.7 177.4,224.1 181.4,226.2 182.4,226.5 193.4,227.8 197.4,229.9 198.4,230.1 212.4,231.3 213.4,231.7 217.4,234.0 224.4,235.3 225.4,235.7 229.4,238.1 241.4,239.9 246.4,242.9 254.4,244.5 259.4,247.5 275.4,249.5 276.4,249.9 280.4,252.3 292.4,254.1 293.4,254.4 297.4,256.9 310.4,258.9 314.4,261.5 315.4,261.9 324.4,263.6 329.4,266.6 340.4,268.5 345.4,271.5 358.4,273.8 362.4,276.3 363.4,276.7 378.4,279.1 382.4,281.5 383.4,281.9 404.4,284.8 408.4,287.2 409.4,287.6 430.4,290.5 435.4,293.2 453.4,295.6 458.4,298.1 479.4,300.3 484.4,302.8 505.4,305.0 510.4,307.5 529.4,309.7 530.4,309.9 534.4,312.1 535.4,312.4 561.4,314.9 565.4,317.0 566.4,317.3 599.4,319.6 603.4,321.7 604.4,322.0 638.4,323.8 638.4,422.6 593.4,402.2 574.4,393.3 550.4,381.0 528.4,368.9 520.4,364.8 491.4,351.2 448.4,329.9 425.4,318.0 403.4,307.8 395.4,303.5 394.4,303.9 391.4,302.8 387.4,300.5 380.4,298.0 377.4,296.2 369.4,293.5 366.4,291.7 358.4,289.1 353.4,286.6 345.4,284.2 341.4,282.1 332.4,279.6 328.4,277.3 318.4,274.7 314.4,272.2 305.4,270.3 300.4,267.7 299.4,267.4 296.4,267.0 281.4,265.5 272.4,262.4 253.4,260.5 241.4,257.3 231.4,256.4 208.4,253.8 199.4,252.2 185.4,250.8 176.4,250.0 141.4,249.1 120.4,248.9 96.4,249.0Z" fill="#004aff"/>
<path d="M96.4,205.6 105.4,206.3 110.4,208.4 122.4,209.7 127.4,212.0 135.4,213.2 140.4,215.7 147.4,216.8 148.4,217.1 152.4,219.2 162.4,220.7 167.4,223.1 177.4,224.6 181.4,226.6 182.4,226.9 193.4,228.1 197.4,230.1 198.4,230.3 212.4,231.5 213.4,231.9 217.4,234.1 224.4,235.4 225.4,235.8 229.4,238.3 241.4,240.1 246.4,243.1 254.4,244.6 259.4,247.6 275.4,249.6 276.4,250.0 280.4,252.4 292.4,254.2 293.4,254.5 297.4,257.0 310.4,259.0 314.4,261.5 315.4,262.0 324.4,263.7 329.4,266.7 340.4,268.6 345.4,271.6 358.4,274.0 362.4,276.5 363.4,276.8 378.4,279.3 382.4,281.7 383.4,282.1 404.4,285.1 409.4,287.9 430.4,290.9 435.4,293.6 453.4,296.0 458.4,298.5 479.4,300.8 484.4,303.2 505.4,305.4 510.4,307.9 529.4,310.1 530.4,310.4 534.4,312.5 535.4,312.8 561.4,315.3 565.4,317.4 566.4,317.7 599.4,320.1 603.4,322.1 604.4,322.5 638.4,324.3 638.4,420.3 594.4,400.8 574.4,391.5 550.4,379.4 528.4,367.6 520.4,363.5 491.4,350.2 448.4,329.3 425.4,317.5 403.4,307.5 395.4,303.3 394.4,303.6 391.4,302.6 387.4,300.3 380.4,297.8 377.4,296.0 369.4,293.3 366.4,291.6 358.4,289.0 353.4,286.5 345.4,284.1 341.4,282.0 332.4,279.4 328.4,277.2 318.4,274.6 314.4,272.1 305.4,270.2 300.4,267.6 299.4,267.3 296.4,266.9 281.4,265.4 272.4,262.3 253.4,260.4 241.4,257.2 231.4,256.2 208.4,253.6 199.4,252.0 185.4,250.5 176.4,249.7 141.4,248.8 120.4,248.5 96.4,248.5Z" fill="#0054ff"/>
<path d="M96.4,206.8 105.4,207.4 110.4,209.5 122.4,210.7 127.4,212.9 135.4,214.1 140.4,216.4 147.4,217.5 148.4,217.8 152.4,219.8 162.4,221.3 167.4,223.6 177.4,225.0 181.4,226.9 182.4,227.2 193.4,228.4 197.4,230.4 198.4,230.6 212.4,231.7 213.4,232.1 217.4,234.3 224.4,235.6 225.4,236.0 229.4,238.4 241.4,240.2 246.4,243.2 254.4,244.8 259.4,247.7 275.4,249.7 280.4,252.5 292.4,254.3 293.4,254.7 297.4,257.1 310.4,259.2 314.4,261.6 315.4,262.1 324.4,263.8 329.4,266.8 340.4,268.7 345.4,271.7 358.4,274.1 362.4,276.6 363.4,277.0 378.4,279.5 382.4,281.9 383.4,282.3 404.4,285.5 409.4,288.1 430.4,291.4 435.4,294.0 453.4,296.5 458.4,298.9 479.4,301.2 484.4,303.6 505.4,305.8 510.4,308.3 529.4,310.6 530.4,310.8 534.4,312.9 535.4,313.2 561.4,315.8 565.4,317.9 566.4,318.2 599.4,320.6 603.4,322.6 604.4,322.9 638.4,324.8 638.4,417.8 594.4,398.7 573.4,389.2 550.4,377.8 528.4,366.2 520.4,362.2 489.4,348.2 448.4,328.6 424.4,316.6 403.4,307.2 395.4,303.0 394.4,303.4 391.4,302.3 387.4,300.0 380.4,297.6 377.4,295.8 369.4,293.1 366.4,291.4 358.4,288.8 353.4,286.4 345.4,284.0 341.4,281.8 332.4,279.3 328.4,277.1 318.4,274.5 314.4,272.0 305.4,270.1 300.4,267.5 299.4,267.2 296.4,266.9 281.4,265.3 272.4,262.3 253.4,260.2 241.4,257.0 231.4,256.0 208.4,253.3 199.4,251.7 185.4,250.2 176.4,249.4 141.4,248.4 120.4,248.1 96.4,248.1Z" fill="#005dff"/>
<path d="M96.4,208.0 105.4,208.6 110.4,210.5 122.4,211.7 127.4,213.8 135.4,214.9 140.4,217.2 148.4,218.5 152.4,220.4 162.4,221.9 167.4,224.1 177.4,225.5 181.4,227.3 182.4,227.6 193.4,228.7 197.4,230.6 198.4,230.8 212.4,231.9 213.4,232.3 217.4,234.5 224.4,235.8 225.4,236.2 229.4,238.5 241.4,240.4 246.4,243.3 254.4,244.9 259.4,247.8 275.4,249.9 280.4,252.6 292.4,254.5 293.4,254.8 297.4,257.2 310.4,259.3 314.4,261.7 315.4,262.2 324.4,263.9 329.4,266.9 340.4,268.9 345.4,271.8 358.4,274.3 362.4,276.7 363.4,277.1 378.4,279.7 382.4,282.1 383.4,282.5 404.4,285.8 409.4,288.4 430.4,291.8 435.4,294.4 453.4,297.0 458.4,299.3 479.4,301.7 484.4,304.0 505.4,306.3 510.4,308.7 529.4,311.1 530.4,311.3 534.4,313.4 535.4,313.6 561.4,316.3 565.4,318.4 566.4,318.7 582.4,320.0 599.4,321.1 603.4,323.1 604.4,323.4 638.4,325.4 638.4,415.3 595.4,397.1 573.4,387.3 550.4,376.1 529.4,365.3 520.4,360.8 488.4,346.6 449.4,328.5 423.4,315.7 402.4,306.4 395.4,302.8 394.4,303.1 391.4,302.0 387.4,299.8 380.4,297.4 377.4,295.6 369.4,293.0 366.4,291.2 358.4,288.6 353.4,286.2 345.4,283.8 341.4,281.7 332.4,279.2 328.4,277.0 318.4,274.4 314.4,271.9 305.4,270.0 300.4,267.4 299.4,267.1 296.4,266.8 281.4,265.2 272.4,262.2 253.4,260.1 241.4,256.9 208.4,253.1 199.4,251.5 185.4,249.9 175.4,249.1 141.4,248.0 120.4,247.7 96.4,247.7Z" fill="#0067ff"/>
<path d="M96.4,209.2 105.4,209.7 110.4,211.5 122.4,212.7 127.4,214.7 135.4,215.8 140.4,217.9 148.4,219.2 152.4,221.0 162.4,222.4 167.4,224.6 177.4,225.9 182.4,228.0 193.4,229.0 197.4,230.9 198.4,231.1 212.4,232.2 213.4,232.5 217.4,234.6 224.4,236.0 225.4,236.3 229.4,238.7 241.4,240.6 246.4,243.5 254.4,245.1 259.4,247.9 275.4,250.1 280.4,252.8 292.4,254.6 293.4,254.9 297.4,257.3 310.4,259.4 314.4,261.9 315.4,262.3 324.4,264.0 329.4,267.0 340.4,269.0 345.4,271.9 358.4,274.5 362.4,276.9 363.4,277.2 378.4,280.0 383.4,282.7 404.4,286.1 409.4,288.7 430.4,292.2 435.4,294.8 453.4,297.5 458.4,299.8 479.4,302.2 484.4,304.5 505.4,306.8 510.4,309.2 529.4,311.6 530.4,311.8 534.4,313.8 535.4,314.1 561.4,316.9 565.4,318.9 566.4,319.2 582.4,320.5 599.4,321.7 604.4,323.9 638.4,325.9 638.4,412.6 596.4,395.3 573.4,385.4 550.4,374.5 529.4,363.8 520.4,359.4 493.4,347.8 456.4,331.0 445.4,325.9 425.4,316.2 403.4,306.6 395.4,302.5 394.4,302.8 391.4,301.8 387.4,299.6 380.4,297.2 377.4,295.4 369.4,292.8 366.4,291.1 358.4,288.5 353.4,286.1 345.4,283.7 341.4,281.6 332.4,279.0 328.4,276.8 318.4,274.2 314.4,271.8 305.4,269.9 300.4,267.3 296.4,266.7 281.4,265.0 272.4,262.0 253.4,259.9 241.4,256.7 208.4,252.8 198.4,251.1 184.4,249.5 173.4,248.7 139.4,247.5 118.4,247.2 96.4,247.2Z" fill="#0070ff"/>
<path d="M96.4,210.4 105.4,210.9 110.4,212.6 122.4,213.7 127.4,215.6 135.4,216.6 140.4,218.7 148.4,219.9 152.4,221.7 162.4,223.0 167.4,225.1 177.4,226.4 182.4,228.3 193.4,229.4 197.4,231.1 198.4,231.3 212.4,232.4 217.4,234.8 224.4,236.1 225.4,236.5 229.4,238.8 241.4,240.8 246.4,243.6 254.4,245.2 259.4,248.1 275.4,250.2 280.4,252.9 292.4,254.8 293.4,255.1 297.4,257.4 310.4,259.6 314.4,262.0 315.4,262.4 324.4,264.1 329.4,267.1 340.4,269.1 345.4,272.0 358.4,274.6 362.4,277.0 363.4,277.4 378.4,280.2 383.4,282.9 404.4,286.4 409.4,289.0 430.4,292.7 435.4,295.2 453.4,298.0 458.4,300.2 479.4,302.7 484.4,304.9 505.4,307.3 510.4,309.6 529.4,312.1 530.4,312.3 534.4,314.3 535.4,314.6 561.4,317.4 565.4,319.4 566.4,319.7 599.4,322.2 604.4,324.5 638.4,326.6 638.4,409.9 597.4,393.4 573.4,383.3 552.4,373.6 520.4,358.0 493.4,346.6 456.4,330.3 445.4,325.3 423.4,314.8 402.4,305.8 395.4,302.2 394.4,302.5 391.4,301.5 387.4,299.3 380.4,296.9 377.4,295.2 369.4,292.6 366.4,290.9 358.4,288.3 353.4,285.9 345.4,283.5 341.4,281.4 332.4,278.9 328.4,276.7 318.4,274.1 314.4,271.7 305.4,269.8 300.4,267.3 296.4,266.6 281.4,264.9 272.4,261.9 253.4,259.7 241.4,256.5 208.4,252.6 199.4,251.0 184.4,249.2 173.4,248.3 139.4,247.1 118.4,246.8 96.4,246.8Z" fill="#007aff"/>
<path d="M96.4,211.6 105.4,212.0 110.4,213.6 122.4,214.7 127.4,216.5 135.4,217.5 140.4,219.4 148.4,220.6 152.4,222.3 162.4,223.6 167.4,225.6 177.4,226.9 182.4,228.7 193.4,229.7 197.4,231.4 198.4,231.6 212.4,232.7 217.4,235.0 224.4,236.3 225.4,236.7 229.4,239.0 241.4,240.9 246.4,243.8 254.4,245.4 259.4,248.2 275.4,250.4 280.4,253.0 292.4,254.9 293.4,255.2 297.4,257.5 310.4,259.7 315.4,262.5 324.4,264.3 329.4,267.2 340.4,269.3 345.4,272.2 358.4,274.8 362.4,277.2 363.4,277.6 378.4,280.4 383.4,283.1 404.4,286.8 409.4,289.3 430.4,293.2 435.4,295.6 453.4,298.5 458.4,300.7 479.4,303.2 484.4,305.4 505.4,307.8 510.4,310.1 529.4,312.6 530.4,312.8 534.4,314.8 535.4,315.1 561.4,318.1 565.4,320.0 566.4,320.3 581.4,321.6 599.4,322.8 604.4,325.1 638.4,327.2 638.4,407.0 598.4,391.5 573.4,381.3 552.4,371.7 520.4,356.5 493.4,345.4 454.4,328.6 423.4,314.4 402.4,305.5 395.4,302.0 394.4,302.2 391.4,301.2 387.4,299.0 380.4,296.7 377.4,295.0 369.4,292.4 366.4,290.7 358.4,288.1 353.4,285.8 345.4,283.4 341.4,281.3 332.4,278.7 328.4,276.6 318.4,274.0 314.4,271.6 305.4,269.7 300.4,267.2 296.4,266.5 281.4,264.8 272.4,261.8 253.4,259.6 241.4,256.3 208.4,252.3 199.4,250.7 184.4,248.9 172.4,247.9 139.4,246.7 118.4,246.3 96.4,246.3Z" fill="#0083ff"/>
<path d="M96.4,212.8 105.4,213.2 110.4,214.7 122.4,215.7 127.4,217.4 135.4,218.3 140.4,220.2 147.4,221.1 152.4,222.9 162.4,224.2 167.4,226.1 177.4,227.4 182.4,229.1 193.4,230.1 197.4,231.6 198.4,231.8 212.4,232.9 217.4,235.2 224.4,236.5 225.4,236.9 229.4,239.1 241.4,241.1 246.4,243.9 254.4,245.6 259.4,248.3 275.4,250.6 280.4,253.2 292.4,255.1 293.4,255.4 297.4,257.7 310.4,259.9 315.4,262.6 324.4,264.4 329.4,267.3 340.4,269.4 345.4,272.3 358.4,275.0 362.4,277.4 363.4,277.7 378.4,280.7 383.4,283.3 404.4,287.1 409.4,289.7 430.4,293.7 435.4,296.1 453.4,299.0 458.4,301.2 479.4,303.8 484.4,305.9 505.4,308.4 510.4,310.6 529.4,313.2 530.4,313.4 534.4,315.3 535.4,315.6 561.4,318.7 565.4,320.6 566.4,320.9 582.4,322.3 599.4,323.6 604.4,325.7 638.4,327.9 638.4,404.0 599.4,389.3 572.4,378.6 551.4,369.3 521.4,355.3 513.4,352.0 492.4,343.7 454.4,327.8 444.4,323.4 423.4,313.9 403.4,305.5 395.4,301.7 394.4,301.9 391.4,300.9 387.4,298.8 380.4,296.5 377.4,294.8 369.4,292.2 366.4,290.5 358.4,288.0 353.4,285.6 345.4,283.2 341.4,281.2 332.4,278.6 328.4,276.5 318.4,273.8 314.4,271.4 305.4,269.5 300.4,267.1 296.4,266.4 281.4,264.6 272.4,261.7 253.4,259.4 241.4,256.2 208.4,252.0 198.4,250.3 183.4,248.5 176.4,247.8 171.4,247.5 138.4,246.2 117.4,245.8 96.4,245.8Z" fill="#008dff"/>
<path d="M96.4,213.9 105.4,214.4 110.4,215.7 122.4,216.7 127.4,218.3 135.4,219.2 140.4,220.9 147.4,221.8 152.4,223.5 162.4,224.8 167.4,226.6 177.4,227.8 182.4,229.5 193.4,230.4 197.4,231.9 198.4,232.1 212.4,233.2 217.4,235.4 224.4,236.7 225.4,237.1 229.4,239.3 241.4,241.3 246.4,244.1 254.4,245.8 259.4,248.5 275.4,250.8 280.4,253.3 292.4,255.3 293.4,255.6 297.4,257.8 310.4,260.0 315.4,262.7 324.4,264.6 329.4,267.4 340.4,269.6 345.4,272.4 358.4,275.2 362.4,277.5 363.4,277.9 378.4,280.9 383.4,283.5 404.4,287.5 409.4,290.0 430.4,294.2 435.4,296.5 453.4,299.6 458.4,301.7 479.4,304.3 484.4,306.4 505.4,308.9 510.4,311.1 530.4,314.0 534.4,315.9 535.4,316.1 561.4,319.4 565.4,321.2 566.4,321.5 583.4,323.1 599.4,324.3 604.4,326.4 638.4,328.7 638.4,400.7 621.4,394.8 599.4,386.7 583.4,380.7 572.4,376.3 552.4,367.7 521.4,353.6 513.4,350.4 491.4,341.9 453.4,326.5 423.4,313.4 403.4,305.2 395.4,301.4 394.4,301.6 391.4,300.6 387.4,298.5 380.4,296.2 377.4,294.5 369.4,292.0 366.4,290.3 358.4,287.8 353.4,285.4 345.4,283.0 341.4,281.0 332.4,278.4 328.4,276.3 318.4,273.7 314.4,271.3 305.4,269.4 300.4,267.0 296.4,266.3 281.4,264.5 272.4,261.6 253.4,259.2 241.4,256.0 208.4,251.7 197.4,249.8 183.4,248.1 171.4,247.2 138.4,245.8 117.4,245.3 96.4,245.3Z" fill="#0096ff"/>
<path d="M96.4,215.1 105.4,215.5 110.4,216.8 122.4,217.7 127.4,219.2 135.4,220.1 140.4,221.7 147.4,222.6 152.4,224.2 162.4,225.4 167.4,227.1 177.4,228.3 182.4,229.9 193.4,230.8 197.4,232.2 198.4,232.4 212.4,233.5 217.4,235.6 224.4,236.9 225.4,237.3 229.4,239.5 241.4,241.5 246.4,244.3 254.4,246.0 259.4,248.6 275.4,251.0 280.4,253.5 292.4,255.4 293.4,255.7 297.4,257.9 310.4,260.2 315.4,262.9 324.4,264.7 329.4,267.5 340.4,269.8 345.4,272.6 358.4,275.4 362.4,277.7 363.4,278.1 378.4,281.2 383.4,283.8 404.4,287.9 409.4,290.4 430.4,294.7 435.4,297.0 453.4,300.2 458.4,302.2 479.4,304.9 484.4,306.9 505.4,309.5 510.4,311.6 530.4,314.6 534.4,316.5 535.4,316.8 561.4,320.1 565.4,321.9 566.4,322.2 582.4,323.8 599.4,325.0 604.4,327.1 638.4,329.6 638.4,397.3 621.4,391.6 600.4,384.2 584.4,378.4 571.4,373.4 552.4,365.5 521.4,351.9 492.4,341.0 453.4,325.6 443.4,321.5 423.4,312.8 403.4,304.8 395.4,301.0 394.4,301.2 391.4,300.2 387.4,298.2 380.4,295.9 377.4,294.3 369.4,291.7 366.4,290.1 358.4,287.6 353.4,285.3 345.4,282.8 341.4,280.8 332.4,278.2 328.4,276.2 318.4,273.5 314.4,271.2 305.4,269.3 300.4,266.9 296.4,266.2 281.4,264.3 272.4,261.4 253.4,259.0 241.4,255.8 208.4,251.4 197.4,249.5 182.4,247.7 176.4,247.1 170.4,246.7 138.4,245.3 117.4,244.8 96.4,244.7Z" fill="#00a0ff"/>
<path d="M96.4,216.3 105.4,216.7 110.4,217.9 122.4,218.7 127.4,220.1 135.4,220.9 140.4,222.4 147.4,223.3 152.4,224.8 162.4,226.0 167.4,227.6 177.4,228.8 182.4,230.3 193.4,231.1 197.4,232.5 198.4,232.7 212.4,233.8 217.4,235.9 224.4,237.2 225.4,237.5 229.4,239.7 241.4,241.8 246.4,244.4 254.4,246.2 259.4,248.8 275.4,251.2 280.4,253.6 292.4,255.6 293.4,255.9 297.4,258.1 310.4,260.4 315.4,263.0 324.4,264.9 329.4,267.6 340.4,269.9 345.4,272.7 358.4,275.6 362.4,277.9 363.4,278.2 378.4,281.5 383.4,284.0 404.4,288.3 409.4,290.7 430.4,295.2 435.4,297.5 453.4,300.7 458.4,302.7 479.4,305.6 484.4,307.5 505.4,310.2 510.4,312.2 530.4,315.3 534.4,317.1 535.4,317.4 561.4,320.9 566.4,323.0 582.4,324.6 599.4,326.0 604.4,328.0 638.4,330.6 638.4,393.6 605.4,382.8 587.4,376.7 573.4,371.6 555.4,364.4 528.4,352.9 519.4,349.2 489.4,338.3 448.4,322.8 423.4,312.3 403.4,304.4 395.4,300.7 394.4,300.9 391.4,299.9 387.4,297.9 380.4,295.6 377.4,294.0 369.4,291.5 366.4,289.9 358.4,287.3 353.4,285.1 345.4,282.6 341.4,280.7 332.4,278.1 328.4,276.0 318.4,273.4 314.4,271.1 305.4,269.1 301.4,267.2 299.4,266.5 281.4,264.2 272.4,261.3 253.4,258.8 241.4,255.5 208.4,251.1 197.4,249.2 182.4,247.3 170.4,246.3 137.4,244.7 117.4,244.2 96.4,244.2Z" fill="#00aaff"/>
<path d="M96.4,217.6 105.4,217.9 110.4,218.9 122.4,219.7 127.4,221.0 135.4,221.8 140.4,223.2 147.4,224.0 152.4,225.4 162.4,226.7 167.4,228.2 177.4,229.3 182.4,230.7 193.4,231.5 197.4,232.8 198.4,233.0 212.4,234.1 217.4,236.1 224.4,237.4 229.4,239.8 241.4,242.0 246.4,244.7 254.4,246.4 259.4,249.0 275.4,251.4 280.4,253.8 292.4,255.8 293.4,256.1 297.4,258.2 310.4,260.6 315.4,263.2 324.4,265.1 329.4,267.8 340.4,270.1 345.4,272.9 358.4,275.8 362.4,278.1 363.4,278.4 378.4,281.8 383.4,284.3 404.4,288.7 409.4,291.1 430.4,295.8 435.4,298.0 453.4,301.4 458.4,303.3 479.4,306.2 484.4,308.0 505.4,310.9 510.4,312.8 530.4,316.1 534.4,317.8 535.4,318.1 561.4,321.8 566.4,323.8 581.4,325.5 599.4,327.0 604.4,329.0 638.4,331.8 638.4,389.5 624.4,385.4 609.4,380.8 588.4,373.9 572.4,368.3 554.4,361.4 520.4,347.6 490.4,337.2 449.4,322.2 423.4,311.7 404.4,304.3 395.4,300.4 394.4,300.5 391.4,299.5 387.4,297.6 380.4,295.3 377.4,293.8 369.4,291.2 365.4,289.3 358.4,287.1 354.4,285.2 345.4,282.4 341.4,280.5 332.4,277.9 328.4,275.8 318.4,273.2 314.4,270.9 305.4,269.0 301.4,267.0 299.4,266.4 281.4,264.0 272.4,261.2 253.4,258.5 241.4,255.3 208.4,250.7 197.4,248.8 182.4,246.9 170.4,245.9 138.4,244.3 117.4,243.7 96.4,243.6Z" fill="#00b3ff"/>
<path d="M96.4,218.8 105.4,219.0 110.4,220.0 122.4,220.8 127.4,221.9 135.4,222.7 140.4,224.0 147.4,224.8 152.4,226.1 162.4,227.3 167.4,228.7 177.4,229.8 182.4,231.1 193.4,231.9 198.4,233.3 212.4,234.4 217.4,236.4 224.4,237.7 229.4,240.1 241.4,242.3 246.4,244.9 254.4,246.6 259.4,249.1 275.4,251.6 280.4,254.0 292.4,256.0 293.4,256.3 297.4,258.4 310.4,260.8 315.4,263.3 324.4,265.2 329.4,267.9 340.4,270.3 345.4,273.0 358.4,276.1 362.4,278.3 363.4,278.7 378.4,282.1 383.4,284.5 404.4,289.2 409.4,291.5 430.4,296.4 435.4,298.6 453.4,302.0 458.4,303.9 479.4,306.9 484.4,308.7 505.4,311.6 510.4,313.5 530.4,316.9 535.4,318.9 561.4,322.9 566.4,324.8 583.4,326.7 599.4,328.2 604.4,330.1 638.4,333.1 638.4,385.0 621.4,380.3 601.4,374.4 583.4,368.8 569.4,364.1 551.4,357.5 519.4,345.1 486.4,334.1 449.4,321.3 422.4,310.7 404.4,303.9 395.4,300.0 394.4,300.1 391.4,299.1 387.4,297.3 380.4,295.0 377.4,293.5 369.4,291.0 365.4,289.1 358.4,286.9 353.4,284.7 345.4,282.2 341.4,280.3 332.4,277.7 328.4,275.7 318.4,273.0 314.4,270.8 305.4,268.8 301.4,266.9 299.4,266.2 281.4,263.8 272.4,261.0 253.4,258.3 241.4,255.1 208.4,250.4 198.4,248.6 181.4,246.4 176.4,245.8 167.4,245.2 137.4,243.7 117.4,243.1 96.4,243.0Z" fill="#00bdff"/>
<path d="M96.4,220.0 105.4,220.2 110.4,221.1 122.4,221.8 127.4,222.8 135.4,223.6 140.4,224.7 147.4,225.5 152.4,226.7 162.4,227.9 167.4,229.2 177.4,230.3 182.4,231.5 193.4,232.3 198.4,233.6 212.4,234.7 217.4,236.6 224.4,237.9 229.4,240.3 241.4,242.5 246.4,245.1 254.4,246.9 259.4,249.3 275.4,251.9 280.4,254.2 292.4,256.3 293.4,256.6 297.4,258.6 310.4,261.0 315.4,263.5 324.4,265.4 329.4,268.1 340.4,270.5 345.4,273.2 358.4,276.3 362.4,278.5 363.4,278.9 378.4,282.4 383.4,284.9 404.4,289.6 409.4,292.0 430.4,297.0 435.4,299.2 453.4,302.7 458.4,304.5 479.4,307.7 484.4,309.4 505.4,312.4 510.4,314.3 530.4,317.8 535.4,319.8 561.4,324.0 566.4,325.9 582.4,328.0 599.4,329.7 604.4,331.4 638.4,335.0 638.4,379.6 620.4,375.2 599.4,369.6 580.4,364.2 565.4,359.5 552.4,354.8 529.4,346.2 519.4,342.7 481.4,330.8 450.4,320.5 405.4,303.8 395.4,299.6 394.4,299.7 391.4,298.7 387.4,296.9 380.4,294.7 377.4,293.2 369.4,290.7 366.4,289.2 358.4,286.6 354.4,284.8 345.4,282.0 341.4,280.1 332.4,277.4 328.4,275.5 318.4,272.8 314.4,270.6 305.4,268.6 301.4,266.8 299.4,266.1 281.4,263.6 272.4,260.8 253.4,258.0 241.4,254.8 208.4,250.0 197.4,248.0 182.4,246.1 176.4,245.4 168.4,244.8 137.4,243.1 116.4,242.4 96.4,242.3Z" fill="#00c6ff"/>
<path d="M96.4,221.2 105.4,221.4 110.4,222.1 122.4,222.8 127.4,223.7 135.4,224.5 140.4,225.5 147.4,226.3 152.4,227.4 162.4,228.5 167.4,229.7 177.4,230.9 182.4,231.9 193.4,232.8 198.4,234.0 212.4,235.1 217.4,236.9 224.4,238.2 229.4,240.5 241.4,242.8 246.4,245.3 254.4,247.1 259.4,249.6 275.4,252.2 280.4,254.4 292.4,256.5 293.4,256.8 297.4,258.8 310.4,261.2 315.4,263.7 324.4,265.7 329.4,268.2 340.4,270.8 345.4,273.4 358.4,276.6 362.4,278.8 363.4,279.1 378.4,282.8 383.4,285.2 404.4,290.1 409.4,292.4 430.4,297.7 435.4,299.8 453.4,303.5 458.4,305.2 479.4,308.5 484.4,310.1 505.4,313.4 510.4,315.1 530.4,318.9 535.4,320.8 561.4,325.4 566.4,327.3 581.4,329.5 599.4,331.5 604.4,333.3 622.4,335.4 638.4,337.6 638.4,373.0 624.4,370.3 607.4,366.5 589.4,362.2 573.4,358.0 556.4,352.6 519.4,340.0 490.4,331.7 458.4,321.9 438.4,315.2 404.4,302.8 395.4,299.1 394.4,299.2 391.4,298.3 387.4,296.5 380.4,294.3 377.4,292.9 369.4,290.3 365.4,288.5 358.4,286.4 353.4,284.2 345.4,281.7 341.4,279.9 332.4,277.2 328.4,275.3 318.4,272.5 314.4,270.4 305.4,268.4 301.4,266.6 299.4,266.0 281.4,263.4 272.4,260.7 253.4,257.8 241.4,254.5 208.4,249.5 198.4,247.8 181.4,245.4 176.4,244.9 165.4,244.1 137.4,242.4 116.4,241.7 96.4,241.6Z" fill="#00d0ff"/>
<path d="M96.4,222.4 105.4,222.6 110.4,223.2 122.4,223.9 127.4,224.7 135.4,225.4 140.4,226.3 147.4,227.0 152.4,228.0 162.4,229.2 167.4,230.3 177.4,231.4 182.4,232.4 193.4,233.2 198.4,234.3 212.4,235.5 217.4,237.2 224.4,238.6 229.4,240.8 241.4,243.2 246.4,245.6 254.4,247.4 259.4,249.8 275.4,252.5 280.4,254.7 292.4,256.8 293.4,257.1 297.4,259.0 310.4,261.4 315.4,263.8 324.4,265.9 329.4,268.4 340.4,271.0 345.4,273.6 358.4,276.9 363.4,279.4 378.4,283.2 383.4,285.5 404.4,290.7 409.4,292.9 430.4,298.4 435.4,300.4 453.4,304.3 458.4,305.9 479.4,309.4 484.4,311.0 505.4,314.5 510.4,316.1 530.4,320.3 535.4,322.1 561.4,327.3 566.4,329.1 580.4,331.6 599.4,334.6 604.4,336.3 615.4,338.1 624.4,339.9 635.4,342.6 638.4,343.7 638.4,362.0 627.4,361.5 614.4,360.6 593.4,356.9 572.4,352.5 567.4,351.3 557.4,348.4 520.4,337.1 487.4,328.5 462.4,321.6 451.4,318.4 439.4,314.5 405.4,302.6 395.4,298.7 394.4,298.7 391.4,297.8 387.4,296.1 380.4,293.9 377.4,292.5 369.4,290.0 366.4,288.6 358.4,286.0 353.4,283.9 345.4,281.4 341.4,279.6 332.4,276.9 328.4,275.1 318.4,272.3 314.4,270.2 305.4,268.2 301.4,266.5 299.4,265.8 281.4,263.1 272.4,260.5 253.4,257.5 241.4,254.2 219.4,250.7 208.4,249.1 197.4,247.1 180.4,244.8 174.4,244.2 162.4,243.3 136.4,241.7 116.4,241.0 96.4,240.8Z" fill="#00d9ff"/>
<path d="M96.4,223.6 105.4,223.8 110.4,224.3 122.4,224.9 127.4,225.6 135.4,226.3 140.4,227.1 148.4,228.0 152.4,228.7 162.4,229.8 167.4,230.8 177.4,231.9 182.4,232.9 193.4,233.7 198.4,234.7 212.4,235.9 217.4,237.6 224.4,238.9 229.4,241.1 241.4,243.5 246.4,245.9 254.4,247.8 259.4,250.1 275.4,252.8 280.4,255.0 292.4,257.1 293.4,257.4 297.4,259.2 310.4,261.7 315.4,264.1 324.4,266.2 329.4,268.6 340.4,271.3 345.4,273.8 358.4,277.3 363.4,279.7 378.4,283.6 383.4,285.9 404.4,291.3 409.4,293.5 430.4,299.2 435.4,301.2 453.4,305.3 458.4,306.8 479.4,310.6 484.4,312.0 505.4,315.9 510.4,317.4 529.4,321.8 535.4,323.9 560.4,330.5 566.4,332.7 575.4,335.6 580.4,337.5 583.4,339.9 583.4,342.3 573.4,344.0 563.4,342.6 552.4,340.6 545.4,339.3 522.4,333.4 485.4,325.3 458.4,318.7 440.4,313.5 412.4,304.3 402.4,300.9 395.4,298.1 394.4,298.2 391.4,297.3 387.4,295.6 380.4,293.5 377.4,292.1 369.4,289.6 366.4,288.2 358.4,285.7 353.4,283.6 345.4,281.1 341.4,279.3 332.4,276.6 328.4,274.8 318.4,272.0 314.4,270.0 305.4,268.0 301.4,266.3 299.4,265.6 281.4,262.9 272.4,260.2 253.4,257.1 241.4,253.8 219.4,250.2 208.4,248.6 197.4,246.6 181.4,244.4 175.4,243.7 163.4,242.7 136.4,241.0 116.4,240.2 96.4,240.0Z" fill="#00e3ff"/>
<path d="M96.4,224.9 105.4,225.0 110.4,225.4 122.4,226.0 127.4,226.6 135.4,227.2 140.4,227.9 148.4,228.7 152.4,229.4 162.4,230.5 167.4,231.4 177.4,232.5 182.4,233.3 193.4,234.2 198.4,235.1 212.4,236.4 217.4,238.0 224.4,239.3 229.4,241.4 241.4,243.9 246.4,246.2 254.4,248.1 259.4,250.4 275.4,253.2 280.4,255.3 292.4,257.4 297.4,259.5 310.4,262.1 315.4,264.3 324.4,266.5 329.4,268.9 340.4,271.6 345.4,274.1 358.4,277.7 363.4,280.0 378.4,284.1 383.4,286.3 404.4,292.0 409.4,294.1 430.4,300.1 435.4,302.0 453.4,306.4 458.4,307.8 479.4,312.0 484.4,313.3 502.4,317.4 514.4,320.9 519.4,323.2 519.4,323.7 511.4,324.8 491.4,322.7 465.4,318.0 460.4,317.0 450.4,314.6 440.4,312.0 428.4,308.5 405.4,301.2 395.4,297.6 394.4,297.5 391.4,296.6 387.4,295.0 380.4,292.9 377.4,291.6 369.4,289.2 365.4,287.5 358.4,285.3 353.4,283.3 345.4,280.8 341.4,279.0 332.4,276.3 328.4,274.5 318.4,271.7 314.4,269.8 305.4,267.7 301.4,266.0 299.4,265.4 281.4,262.6 272.4,260.0 252.4,256.5 241.4,253.4 197.4,246.1 183.4,244.0 174.4,242.9 153.4,241.2 132.4,239.9 114.4,239.2 96.4,239.0Z" fill="#00edff"/>
<path d="M96.4,226.1 105.4,226.2 120.4,227.0 135.4,228.1 162.4,231.2 167.4,232.0 177.4,233.1 182.4,233.9 193.4,234.8 198.4,235.6 208.4,236.5 213.4,237.2 217.4,238.4 224.4,239.8 229.4,241.8 241.4,244.4 246.4,246.7 254.4,248.6 259.4,250.7 275.4,253.7 280.4,255.6 292.4,257.9 297.4,259.8 310.4,262.5 315.4,264.6 324.4,266.8 329.4,269.1 340.4,272.0 345.4,274.4 358.4,278.1 363.4,280.4 378.4,284.7 383.4,286.9 404.4,292.8 409.4,294.9 430.4,301.2 435.4,303.1 454.4,308.1 470.4,312.6 470.4,312.8 464.4,313.7 453.4,312.4 448.4,311.6 443.4,310.6 427.4,306.8 408.4,301.2 395.4,296.8 394.4,296.8 391.4,295.9 387.4,294.4 380.4,292.3 377.4,291.1 369.4,288.7 365.4,287.0 358.4,284.8 353.4,282.9 345.4,280.3 341.4,278.7 332.4,275.9 328.4,274.2 318.4,271.3 314.4,269.5 305.4,267.4 299.4,265.2 281.4,262.2 272.4,259.7 252.4,256.0 241.4,253.0 221.4,249.3 208.4,247.3 197.4,245.4 182.4,243.2 173.4,242.0 152.4,240.2 132.4,238.8 114.4,238.1 96.4,237.9Z" fill="#00f6ff"/>
<path d="M96.4,227.4 105.4,227.5 117.4,228.0 135.4,229.1 162.4,231.9 182.4,234.4 193.4,235.4 197.4,236.1 207.4,237.0 213.4,237.9 217.4,239.0 224.4,240.4 229.4,242.3 241.4,245.1 246.4,247.2 254.4,249.1 259.4,251.2 275.4,254.3 280.4,256.1 292.4,258.4 297.4,260.2 310.4,263.0 315.4,265.0 324.4,267.3 329.4,269.5 340.4,272.5 345.4,274.8 357.4,278.4 363.4,280.9 378.4,285.5 383.4,287.5 404.4,293.9 409.4,295.8 425.4,301.1 433.4,304.3 433.4,304.4 429.4,304.7 418.4,302.5 408.4,299.9 395.4,295.9 394.4,295.8 391.4,295.0 387.4,293.6 380.4,291.5 377.4,290.4 369.4,288.0 365.4,286.5 357.4,283.9 353.4,282.3 345.4,279.8 341.4,278.2 332.4,275.4 328.4,273.7 318.4,270.8 314.4,269.1 305.4,266.9 300.4,265.1 281.4,261.7 272.4,259.3 252.4,255.4 241.4,252.4 221.4,248.5 208.4,246.5 197.4,244.5 180.4,241.9 171.4,240.8 151.4,238.9 131.4,237.4 113.4,236.6 96.4,236.3Z" fill="#00fffe"/>
<path d="M150.4,231.4 163.4,232.8 211.4,238.5 224.4,241.3 229.4,243.0 241.4,246.0 246.4,247.9 254.4,250.0 259.4,251.8 275.4,255.1 280.4,256.8 292.4,259.2 297.4,260.8 310.4,263.7 315.4,265.6 324.4,267.9 329.4,270.0 340.4,273.2 345.4,275.4 357.4,279.2 363.4,281.7 378.4,286.7 383.4,288.7 393.4,292.1 399.4,294.5 399.4,294.7 393.4,293.7 380.4,290.3 358.4,283.4 353.4,281.6 345.4,279.0 341.4,277.5 332.4,274.7 328.4,273.1 318.4,270.2 314.4,268.6 305.4,266.3 299.4,264.4 281.4,261.1 272.4,258.7 253.4,254.8 241.4,251.5 223.4,247.7 186.4,241.3 161.4,237.6 150.4,236.1Z" fill="#00fff5"/>
</g>

<path d="M97.38,200.18 L99.18,200.66 L100.98,201.14 L102.79,201.62 L104.59,202.11 L106.39,202.59 L108.19,203.08 L109.99,203.57 L111.80,204.07 L113.60,204.56 L115.40,205.06 L117.20,205.56 L119.00,206.07 L120.81,206.57 L122.61,207.08 L124.41,207.59 L126.21,208.10 L128.02,208.61 L129.82,209.13 L131.62,209.65 L133.42,210.17 L135.22,210.70 L137.03,211.22 L138.83,211.75 L140.63,212.28 L142.43,212.82 L144.23,213.35 L146.04,213.89 L147.84,214.44 L149.64,214.98 L151.44,215.53 L153.24,216.07 L155.05,216.63 L156.85,217.18 L158.65,217.74 L160.45,218.30 L162.25,218.86 L164.06,219.42 L165.86,219.99 L167.66,220.56 L169.46,221.13 L171.26,221.71 L173.07,222.28 L174.87,222.86 L176.67,223.45 L178.47,224.03 L180.28,224.62 L182.08,225.21 L183.88,225.81 L185.68,226.40 L187.48,227.00 L189.29,227.60 L191.09,228.21 L192.89,228.82 L194.69,229.43 L196.49,230.04 L198.30,230.66 L200.10,231.28 L201.90,231.90 L203.70,232.52 L205.50,233.15 L207.31,233.78 L209.11,234.42 L210.91,235.05 L212.71,235.69 L214.51,236.33 L216.32,236.98 L218.12,237.63 L219.92,238.28 L221.72,238.93 L223.52,239.59 L225.33,240.25 L227.13,240.92 L228.93,241.58 L230.73,242.25 L232.53,242.92 L234.34,243.60 L236.14,244.28 L237.94,244.96 L239.74,245.65 L241.55,246.34 L243.35,247.03 L245.15,247.72 L246.95,248.42 L248.75,249.12 L250.56,249.83 L252.36,250.53 L254.16,251.25 L255.96,251.96 L257.76,252.68 L259.57,253.40 L261.37,254.12 L263.17,254.85 L264.97,255.58 L266.77,256.32 L268.58,257.05 L270.38,257.80 L272.18,258.54 L273.98,259.29 L275.78,260.04 L277.59,260.80 L279.39,261.55 L281.19,262.32 L282.99,263.08 L284.79,263.85 L286.60,264.62 L288.40,265.40 L290.20,266.18 L292.00,266.96 L293.81,267.75 L295.61,268.54 L297.41,269.34 L299.21,270.14 L301.01,270.94 L302.82,271.74 L304.62,272.55 L306.42,273.37 L308.22,274.18 L310.02,275.00 L311.83,275.83 L313.63,276.66 L315.43,277.49 L317.23,278.32 L319.03,279.16 L320.84,280.01 L322.64,280.86 L324.44,281.71 L326.24,282.56 L328.04,283.42 L329.85,284.29 L331.65,285.15 L333.45,286.03 L335.25,286.90 L337.05,287.78 L338.86,288.66 L340.66,289.55 L342.46,290.44 L344.26,291.34 L346.07,292.24 L347.87,293.14 L349.67,294.05 L351.47,294.97 L353.27,295.88 L355.08,296.80 L356.88,297.73 L358.68,298.66 L360.48,299.59 L362.28,300.53 L364.09,301.47 L365.89,302.42 L367.69,303.37 L369.49,304.33 L371.29,305.29 L373.10,306.25 L374.90,307.22 L376.70,308.20 L378.50,309.18 L380.30,310.16 L382.11,311.15 L383.91,312.14 L385.71,313.13 L387.51,314.13 L389.31,315.14 L391.12,316.15 L392.92,317.17 L394.72,318.19 L396.52,319.21 L398.33,320.24 L400.13,321.27 L401.93,322.31 L403.73,323.36 L405.53,324.40 L407.34,325.46 L409.14,326.52 L410.94,327.58 L412.74,328.65 L414.54,329.72 L416.35,330.80 L418.15,331.88 L419.95,332.97 L421.75,334.06 L423.55,335.16 L425.36,336.26 L427.16,337.37 L428.96,338.49 L430.76,339.60 L432.56,340.73 L434.37,341.86 L436.17,342.99 L437.97,344.13 L439.77,345.27 L441.57,346.42 L443.38,347.58 L445.18,348.74 L446.98,349.91 L448.78,351.08 L450.59,352.26 L452.39,353.44 L454.19,354.63 L455.99,355.82 L457.79,357.02 L459.60,358.22 L461.40,359.43 L463.20,360.65 L465.00,361.87 L466.80,363.10 L468.61,364.33 L470.41,365.57 L472.21,366.81 L474.01,368.06 L475.81,369.32 L477.62,370.58 L479.42,371.84 L481.22,373.12 L483.02,374.40 L484.82,375.68 L486.63,376.97 L488.43,378.27 L490.23,379.57 L492.03,380.88 L493.83,382.20 L495.64,383.52 L497.44,384.84 L499.24,386.18 L501.04,387.52 L502.85,388.86 L504.65,390.21 L506.45,391.57 L508.25,392.94 L510.05,394.31 L511.86,395.68 L513.66,397.07 L515.46,398.46 L517.26,399.85 L519.06,401.26 L520.87,402.67 L522.67,404.08 L524.47,405.50 L526.27,406.93 L528.07,408.37 L529.88,409.81 L531.68,411.26 L533.48,412.72 L535.28,414.18 L537.08,415.65 L538.89,417.12 L540.69,418.61 L542.49,420.10 L544.29,421.59 L546.09,423.10 L547.90,424.61 L549.70,426.12 L551.50,427.65 L553.30,429.18 L555.10,430.72 L556.91,432.26 L558.71,433.82 L560.51,435.38 L562.31,436.95 L564.12,438.52 L565.92,440.10 L567.72,441.69 L569.52,443.29 L571.32,444.89 L573.13,446.50 L574.93,448.12 L576.73,449.75 L578.53,451.38 L580.33,453.02 L582.14,454.67 L583.94,456.33 L585.74,457.99 L587.54,459.67 L589.34,461.35 L591.15,463.03 L592.95,464.73 L594.75,466.43 L596.55,468.14 L598.35,469.86 L600.16,471.59 L601.96,473.32 L603.76,475.07 L605.56,476.82 L607.36,478.58 L609.17,480.35 L610.97,482.12 L612.77,483.91 L614.57,485.70 L616.38,487.50 L618.18,489.31 L619.98,491.12 L621.78,492.95 L623.58,494.78 L625.39,496.63 L627.19,498.48 L628.99,500.34 L630.79,502.20 L632.59,504.08 L634.40,505.97 L636.20,507.86 L638.00,509.76" fill="none" stroke="#ff0000" stroke-width="4.94" stroke-linecap="round" stroke-linejoin="round" stroke-dasharray="14.82 24.70"/>
<path d="M97.38,223.48 L99.18,223.57 L100.98,223.67 L102.79,223.77 L104.59,223.86 L106.39,223.97 L108.19,224.07 L109.99,224.18 L111.80,224.29 L113.60,224.40 L115.40,224.51 L117.20,224.63 L119.00,224.75 L120.81,224.87 L122.61,224.99 L124.41,225.12 L126.21,225.25 L128.02,225.38 L129.82,225.52 L131.62,225.66 L133.42,225.80 L135.22,225.95 L137.03,226.10 L138.83,226.25 L140.63,226.40 L142.43,226.56 L144.23,226.72 L146.04,226.89 L147.84,227.06 L149.64,227.23 L151.44,227.41 L153.24,227.59 L155.05,227.77 L156.85,227.96 L158.65,228.15 L160.45,228.35 L162.25,228.55 L164.06,228.75 L165.86,228.96 L167.66,229.17 L169.46,229.39 L171.26,229.62 L173.07,229.84 L174.87,230.08 L176.67,230.31 L178.47,230.56 L180.28,230.80 L182.08,231.06 L183.88,231.32 L185.68,231.58 L187.48,231.85 L189.29,232.12 L191.09,232.40 L192.89,232.69 L194.69,232.98 L196.49,233.28 L198.30,233.59 L200.10,233.90 L201.90,234.21 L203.70,234.54 L205.50,234.87 L207.31,235.21 L209.11,235.55 L210.91,235.90 L212.71,236.26 L214.51,236.62 L216.32,237.00 L218.12,237.38 L219.92,237.76 L221.72,238.16 L223.52,238.56 L225.33,238.97 L227.13,239.39 L228.93,239.82 L230.73,240.25 L232.53,240.70 L234.34,241.15 L236.14,241.61 L237.94,242.08 L239.74,242.56 L241.55,243.04 L243.35,243.54 L245.15,244.04 L246.95,244.56 L248.75,245.08 L250.56,245.62 L252.36,246.16 L254.16,246.72 L255.96,247.28 L257.76,247.85 L259.57,248.44 L261.37,249.03 L263.17,249.64 L264.97,250.25 L266.77,250.88 L268.58,251.52 L270.38,252.16 L272.18,252.82 L273.98,253.49 L275.78,254.18 L277.59,254.87 L279.39,255.57 L281.19,256.29 L282.99,257.01 L284.79,257.75 L286.60,258.50 L288.40,259.27 L290.20,260.04 L292.00,260.83 L293.81,261.63 L295.61,262.44 L297.41,263.26 L299.21,264.09 L301.01,264.94 L302.82,265.80 L304.62,266.67 L306.42,267.56 L308.22,268.46 L310.02,269.37 L311.83,270.29 L313.63,271.22 L315.43,272.17 L317.23,273.13 L319.03,274.10 L320.84,275.08 L322.64,276.08 L324.44,277.09 L326.24,278.11 L328.04,279.14 L329.85,280.19 L331.65,281.25 L333.45,282.32 L335.25,283.40 L337.05,284.50 L338.86,285.60 L340.66,286.72 L342.46,287.85 L344.26,288.99 L346.07,290.14 L347.87,291.31 L349.67,292.48 L351.47,293.67 L353.27,294.87 L355.08,296.07 L356.88,297.29 L358.68,298.52 L360.48,299.76 L362.28,301.00 L364.09,302.26 L365.89,303.53 L367.69,304.80 L369.49,306.09 L371.29,307.38 L373.10,308.68 L374.90,309.99 L376.70,311.31 L378.50,312.64 L380.30,313.97 L382.11,315.31 L383.91,316.66 L385.71,318.01 L387.51,319.37 L389.31,320.73 L391.12,322.10 L392.92,323.48 L394.72,324.86 L396.52,326.24 L398.33,327.63 L400.13,329.02 L401.93,330.42 L403.73,331.82 L405.53,333.22 L407.34,334.62 L409.14,336.03 L410.94,337.43 L412.74,338.84 L414.54,340.25 L416.35,341.66 L418.15,343.07 L419.95,344.48 L421.75,345.89 L423.55,347.29 L425.36,348.70 L427.16,350.10 L428.96,351.50 L430.76,352.90 L432.56,354.30 L434.37,355.69 L436.17,357.08 L437.97,358.47 L439.77,359.85 L441.57,361.22 L443.38,362.59 L445.18,363.96 L446.98,365.32 L448.78,366.67 L450.59,368.02 L452.39,369.36 L454.19,370.70 L455.99,372.02 L457.79,373.34 L459.60,374.65 L461.40,375.96 L463.20,377.25 L465.00,378.54 L466.80,379.82 L468.61,381.09 L470.41,382.35 L472.21,383.60 L474.01,384.84 L475.81,386.07 L477.62,387.28 L479.42,388.49 L481.22,389.69 L483.02,390.88 L484.82,392.06 L486.63,393.22 L488.43,394.38 L490.23,395.52 L492.03,396.65 L493.83,397.77 L495.64,398.88 L497.44,399.98 L499.24,401.06 L501.04,402.14 L502.85,403.20 L504.65,404.25 L506.45,405.28 L508.25,406.31 L510.05,407.32 L511.86,408.32 L513.66,409.30 L515.46,410.28 L517.26,411.24 L519.06,412.19 L520.87,413.13 L522.67,414.05 L524.47,414.96 L526.27,415.86 L528.07,416.75 L529.88,417.62 L531.68,418.49 L533.48,419.34 L535.28,420.17 L537.08,421.00 L538.89,421.81 L540.69,422.61 L542.49,423.40 L544.29,424.18 L546.09,424.94 L547.90,425.70 L549.70,426.44 L551.50,427.17 L553.30,427.89 L555.10,428.59 L556.91,429.29 L558.71,429.97 L560.51,430.64 L562.31,431.30 L564.12,431.95 L565.92,432.59 L567.72,433.22 L569.52,433.84 L571.32,434.45 L573.13,435.04 L574.93,435.63 L576.73,436.21 L578.53,436.77 L580.33,437.33 L582.14,437.87 L583.94,438.41 L585.74,438.94 L587.54,439.45 L589.34,439.96 L591.15,440.46 L592.95,440.95 L594.75,441.43 L596.55,441.90 L598.35,442.36 L600.16,442.81 L601.96,443.26 L603.76,443.70 L605.56,444.13 L607.36,444.55 L609.17,444.96 L610.97,445.36 L612.77,445.76 L614.57,446.15 L616.38,446.53 L618.18,446.90 L619.98,447.27 L621.78,447.63 L623.58,447.98 L625.39,448.33 L627.19,448.66 L628.99,449.00 L630.79,449.32 L632.59,449.64 L634.40,449.95 L636.20,450.26 L638.00,450.56" fill="none" stroke="#ffa500" stroke-width="4.94" stroke-linecap="round" stroke-linejoin="round" stroke-dasharray="14.82 24.70"/>
<path d="M97.38,234.35 L99.18,234.51 L100.98,234.68 L102.79,234.84 L104.59,235.01 L106.39,235.19 L108.19,235.36 L109.99,235.53 L111.80,235.71 L113.60,235.89 L115.40,236.07 L117.20,236.25 L119.00,236.44 L120.81,236.62 L122.61,236.81 L124.41,237.00 L126.21,237.19 L128.02,237.39 L129.82,237.58 L131.62,237.78 L133.42,237.98 L135.22,238.18 L137.03,238.38 L138.83,238.59 L140.63,238.80 L142.43,239.01 L144.23,239.22 L146.04,239.43 L147.84,239.65 L149.64,239.86 L151.44,240.08 L153.24,240.31 L155.05,240.53 L156.85,240.76 L158.65,240.99 L160.45,241.22 L162.25,241.45 L164.06,241.69 L165.86,241.92 L167.66,242.16 L169.46,242.41 L171.26,242.65 L173.07,242.90 L174.87,243.15 L176.67,243.40 L178.47,243.65 L180.28,243.91 L182.08,244.17 L183.88,244.43 L185.68,244.69 L187.48,244.96 L189.29,245.22 L191.09,245.50 L192.89,245.77 L194.69,246.04 L196.49,246.32 L198.30,246.60 L200.10,246.89 L201.90,247.17 L203.70,247.46 L205.50,247.75 L207.31,248.05 L209.11,248.34 L210.91,248.64 L212.71,248.94 L214.51,249.25 L216.32,249.56 L218.12,249.87 L219.92,250.18 L221.72,250.49 L223.52,250.81 L225.33,251.13 L227.13,251.46 L228.93,251.78 L230.73,252.11 L232.53,252.44 L234.34,252.78 L236.14,253.12 L237.94,253.46 L239.74,253.80 L241.55,254.14 L243.35,254.49 L245.15,254.85 L246.95,255.20 L248.75,255.56 L250.56,255.92 L252.36,256.28 L254.16,256.65 L255.96,257.02 L257.76,257.39 L259.57,257.77 L261.37,258.14 L263.17,258.53 L264.97,258.91 L266.77,259.30 L268.58,259.69 L270.38,260.08 L272.18,260.48 L273.98,260.88 L275.78,261.28 L277.59,261.69 L279.39,262.10 L281.19,262.51 L282.99,262.92 L284.79,263.34 L286.60,263.76 L288.40,264.19 L290.20,264.61 L292.00,265.04 L293.81,265.48 L295.61,265.91 L297.41,266.35 L299.21,266.80 L301.01,267.24 L302.82,267.69 L304.62,268.14 L306.42,268.60 L308.22,269.06 L310.02,269.52 L311.83,269.98 L313.63,270.45 L315.43,270.92 L317.23,271.40 L319.03,271.87 L320.84,272.35 L322.64,272.84 L324.44,273.32 L326.24,273.81 L328.04,274.31 L329.85,274.80 L331.65,275.30 L333.45,275.80 L335.25,276.31 L337.05,276.82 L338.86,277.33 L340.66,277.84 L342.46,278.36 L344.26,278.88 L346.07,279.40 L347.87,279.93 L349.67,280.46 L351.47,280.99 L353.27,281.53 L355.08,282.07 L356.88,282.61 L358.68,283.15 L360.48,283.70 L362.28,284.25 L364.09,284.80 L365.89,285.36 L367.69,285.92 L369.49,286.48 L371.29,287.05 L373.10,287.61 L374.90,288.18 L376.70,288.76 L378.50,289.33 L380.30,289.91 L382.11,290.49 L383.91,291.08 L385.71,291.66 L387.51,292.25 L389.31,292.85 L391.12,293.44 L392.92,294.04 L394.72,294.64 L396.52,295.24 L398.33,295.85 L400.13,296.45 L401.93,297.06 L403.73,297.68 L405.53,298.29 L407.34,298.91 L409.14,299.53 L410.94,300.15 L412.74,300.77 L414.54,301.40 L416.35,302.03 L418.15,302.66 L419.95,303.29 L421.75,303.93 L423.55,304.57 L425.36,305.21 L427.16,305.85 L428.96,306.49 L430.76,307.14 L432.56,307.78 L434.37,308.43 L436.17,309.08 L437.97,309.74 L439.77,310.39 L441.57,311.05 L443.38,311.71 L445.18,312.37 L446.98,313.03 L448.78,313.69 L450.59,314.36 L452.39,315.02 L454.19,315.69 L455.99,316.36 L457.79,317.03 L459.60,317.70 L461.40,318.37 L463.20,319.05 L465.00,319.72 L466.80,320.40 L468.61,321.08 L470.41,321.76 L472.21,322.44 L474.01,323.12 L475.81,323.80 L477.62,324.48 L479.42,325.17 L481.22,325.85 L483.02,326.54 L484.82,327.22 L486.63,327.91 L488.43,328.60 L490.23,329.28 L492.03,329.97 L493.83,330.66 L495.64,331.35 L497.44,332.04 L499.24,332.73 L501.04,333.42 L502.85,334.11 L504.65,334.80 L506.45,335.49 L508.25,336.19 L510.05,336.88 L511.86,337.57 L513.66,338.26 L515.46,338.95 L517.26,339.64 L519.06,340.33 L520.87,341.02 L522.67,341.71 L524.47,342.40 L526.27,343.09 L528.07,343.78 L529.88,344.47 L531.68,345.16 L533.48,345.85 L535.28,346.53 L537.08,347.22 L538.89,347.90 L540.69,348.59 L542.49,349.27 L544.29,349.96 L546.09,350.64 L547.90,351.32 L549.70,352.00 L551.50,352.68 L553.30,353.36 L555.10,354.04 L556.91,354.71 L558.71,355.39 L560.51,356.06 L562.31,356.73 L564.12,357.41 L565.92,358.08 L567.72,358.74 L569.52,359.41 L571.32,360.08 L573.13,360.74 L574.93,361.40 L576.73,362.06 L578.53,362.72 L580.33,363.38 L582.14,364.04 L583.94,364.69 L585.74,365.34 L587.54,365.99 L589.34,366.64 L591.15,367.29 L592.95,367.93 L594.75,368.57 L596.55,369.21 L598.35,369.85 L600.16,370.49 L601.96,371.12 L603.76,371.76 L605.56,372.39 L607.36,373.01 L609.17,373.64 L610.97,374.26 L612.77,374.88 L614.57,375.50 L616.38,376.12 L618.18,376.73 L619.98,377.34 L621.78,377.95 L623.58,378.56 L625.39,379.16 L627.19,379.76 L628.99,380.36 L630.79,380.96 L632.59,381.55 L634.40,382.14 L636.20,382.73 L638.00,383.32" fill="none" stroke="#a020f0" stroke-width="4.94" stroke-linecap="round" stroke-linejoin="round" stroke-dasharray="14.82 24.70"/>
<path d="M97.38,97.92 L99.18,97.94 L100.98,97.96 L102.79,97.98 L104.59,98.01 L106.39,98.03 L108.19,98.05 L109.99,98.08 L111.80,98.10 L113.60,98.13 L115.40,98.16 L117.20,98.18 L119.00,98.21 L120.81,98.24 L122.61,98.27 L124.41,98.30 L126.21,98.33 L128.02,98.36 L129.82,98.39 L131.62,98.42 L133.42,98.46 L135.22,98.49 L137.03,98.53 L138.83,98.56 L140.63,98.60 L142.43,98.64 L144.23,98.68 L146.04,98.72 L147.84,98.76 L149.64,98.80 L151.44,98.84 L153.24,98.89 L155.05,98.93 L156.85,98.98 L158.65,99.02 L160.45,99.07 L162.25,99.12 L164.06,99.17 L165.86,99.22 L167.66,99.27 L169.46,99.33 L171.26,99.38 L173.07,99.44 L174.87,99.50 L176.67,99.56 L178.47,99.62 L180.28,99.68 L182.08,99.74 L183.88,99.81 L185.68,99.88 L187.48,99.95 L189.29,100.02 L191.09,100.09 L192.89,100.16 L194.69,100.24 L196.49,100.31 L198.30,100.39 L200.10,100.47 L201.90,100.56 L203.70,100.64 L205.50,100.73 L207.31,100.82 L209.11,100.91 L210.91,101.01 L212.71,101.10 L214.51,101.20 L216.32,101.30 L218.12,101.41 L219.92,101.51 L221.72,101.62 L223.52,101.73 L225.33,101.85 L227.13,101.97 L228.93,102.09 L230.73,102.21 L232.53,102.34 L234.34,102.47 L236.14,102.60 L237.94,102.73 L239.74,102.87 L241.55,103.02 L243.35,103.17 L245.15,103.32 L246.95,103.47 L248.75,103.63 L250.56,103.79 L252.36,103.96 L254.16,104.13 L255.96,104.31 L257.76,104.49 L259.57,104.67 L261.37,104.86 L263.17,105.06 L264.97,105.26 L266.77,105.46 L268.58,105.67 L270.38,105.89 L272.18,106.11 L273.98,106.34 L275.78,106.57 L277.59,106.81 L279.39,107.06 L281.19,107.31 L282.99,107.57 L284.79,107.83 L286.60,108.11 L288.40,108.39 L290.20,108.68 L292.00,108.98 L293.81,109.28 L295.61,109.59 L297.41,109.92 L299.21,110.25 L301.01,110.59 L302.82,110.93 L304.62,111.29 L306.42,111.66 L308.22,112.04 L310.02,112.43 L311.83,112.83 L313.63,113.24 L315.43,113.67 L317.23,114.10 L319.03,114.55 L320.84,115.01 L322.64,115.49 L324.44,115.97 L326.24,116.47 L328.04,116.99 L329.85,117.52 L331.65,118.07 L333.45,118.63 L335.25,119.21 L337.05,119.80 L338.86,120.42 L340.66,121.05 L342.46,121.70 L344.26,122.37 L346.07,123.05 L347.87,123.76 L349.67,124.49 L351.47,125.24 L353.27,126.02 L355.08,126.81 L356.88,127.63 L358.68,128.48 L360.48,129.35 L362.28,130.24 L364.09,131.17 L365.89,132.12 L367.69,133.10 L369.49,134.10 L371.29,135.14 L373.10,136.21 L374.90,137.31 L376.70,138.44 L378.50,139.61 L380.30,140.81 L382.11,142.05 L383.91,143.33 L385.71,144.64 L387.51,145.99 L389.31,147.38 L391.12,148.81 L392.92,150.28 L394.72,151.79 L396.52,153.35 L398.33,154.95 L400.13,156.59 L401.93,158.29 L403.73,160.03 L405.53,161.81 L407.34,163.65 L409.14,165.53 L410.94,167.47 L412.74,169.46 L414.54,171.49 L416.35,173.59 L418.15,175.73 L419.95,177.93 L421.75,180.18 L423.55,182.48 L425.36,184.84 L427.16,187.25 L428.96,189.72 L430.76,192.25 L432.56,194.82 L434.37,197.46 L436.17,200.14 L437.97,202.88 L439.77,205.67 L441.57,208.52 L443.38,211.41 L445.18,214.35 L446.98,217.35 L448.78,220.39 L450.59,223.48 L452.39,226.61 L454.19,229.78 L455.99,233.00 L457.79,236.25 L459.60,239.54 L461.40,242.87 L463.20,246.23 L465.00,249.61 L466.80,253.03 L468.61,256.46 L470.41,259.92 L472.21,263.40 L474.01,266.89 L475.81,270.40 L477.62,273.91 L479.42,277.43 L481.22,280.95 L483.02,284.47 L484.82,287.99 L486.63,291.51 L488.43,295.01 L490.23,298.50 L492.03,301.97 L493.83,305.43 L495.64,308.86 L497.44,312.27 L499.24,315.65 L501.04,319.00 L502.85,322.32 L504.65,325.60 L506.45,328.85 L508.25,332.05 L510.05,335.22 L511.86,338.34 L513.66,341.42 L515.46,344.45 L517.26,347.44 L519.06,350.37 L520.87,353.26 L522.67,356.09 L524.47,358.87 L526.27,361.60 L528.07,364.28 L529.88,366.90 L531.68,369.46 L533.48,371.98 L535.28,374.43 L537.08,376.84 L538.89,379.18 L540.69,381.48 L542.49,383.72 L544.29,385.90 L546.09,388.04 L547.90,390.12 L549.70,392.15 L551.50,394.12 L553.30,396.05 L555.10,397.92 L556.91,399.75 L558.71,401.53 L560.51,403.26 L562.31,404.94 L564.12,406.58 L565.92,408.17 L567.72,409.72 L569.52,411.22 L571.32,412.68 L573.13,414.10 L574.93,415.49 L576.73,416.83 L578.53,418.13 L580.33,419.40 L582.14,420.63 L583.94,421.82 L585.74,422.98 L587.54,424.11 L589.34,425.21 L591.15,426.27 L592.95,427.30 L594.75,428.30 L596.55,429.28 L598.35,430.22 L600.16,431.14 L601.96,432.03 L603.76,432.89 L605.56,433.73 L607.36,434.55 L609.17,435.34 L610.97,436.11 L612.77,436.86 L614.57,437.58 L616.38,438.29 L618.18,438.97 L619.98,439.63 L621.78,440.28 L623.58,440.91 L625.39,441.52 L627.19,442.11 L628.99,442.68 L630.79,443.24 L632.59,443.79 L634.40,444.31 L636.20,444.83 L638.00,445.33" fill="none" stroke="#00ff00" stroke-width="4.94" stroke-linecap="round" stroke-linejoin="round" stroke-dasharray="14.82 24.70"/>
<path d="M498.9,709.0 L498.9,97.0" fill="none" stroke="#000" stroke-width="1.235" stroke-linecap="round" stroke-dasharray="3.705 6.175"/>
</g>
<g fill="none" stroke="#000" stroke-width="1.4" stroke-linecap="round" stroke-linejoin="round">
<rect x="97.38" y="97.0" width="540.62" height="612.0"/>
<path d="M97.38,97.0 V709.0"/><path d="M97.38,709.0 H638.0"/>
<path d="M97.38,97.00 h-12.3"/>
<path d="M97.38,219.40 h-12.3"/>
<path d="M97.38,341.80 h-12.3"/>
<path d="M97.38,464.20 h-12.3"/>
<path d="M97.38,586.60 h-12.3"/>
<path d="M97.38,709.00 h-12.3"/>
<path d="M97.38,709.0 v12.3"/>
<path d="M187.48,709.0 v12.3"/>
<path d="M277.59,709.0 v12.3"/>
<path d="M367.69,709.0 v12.3"/>
<path d="M457.79,709.0 v12.3"/>
<path d="M547.90,709.0 v12.3"/>
<path d="M638.00,709.0 v12.3"/>
</g>
<text x="73.40" y="104.07" text-anchor="end" font-size="19.76" >0</text>
<text x="73.40" y="226.47" text-anchor="end" font-size="19.76" >−1</text>
<text x="73.40" y="348.87" text-anchor="end" font-size="19.76" >−2</text>
<text x="73.40" y="471.27" text-anchor="end" font-size="19.76" >−3</text>
<text x="73.40" y="593.67" text-anchor="end" font-size="19.76" >−4</text>
<text x="73.40" y="716.07" text-anchor="end" font-size="19.76" >−5</text>
<text x="97.38" y="751.80" text-anchor="middle" font-size="19.76" >−1.0</text>
<text x="187.48" y="751.80" text-anchor="middle" font-size="19.76" >−0.5</text>
<text x="277.59" y="751.80" text-anchor="middle" font-size="19.76" >0.0</text>
<text x="367.69" y="751.80" text-anchor="middle" font-size="19.76" >0.5</text>
<text x="457.79" y="751.80" text-anchor="middle" font-size="19.76" >1.0</text>
<text x="547.90" y="751.80" text-anchor="middle" font-size="19.76" >1.5</text>
<text x="638.00" y="751.80" text-anchor="middle" font-size="19.76" >2.0</text>
<text x="367.89" y="799.30" text-anchor="middle" font-size="29.64" >log r</text>
<g transform="translate(38.3,515.2) rotate(-90)" font-size="29.64">
<text x="0" y="0">d log</text>
<text x="72.5" y="0">ρ</text>
<text x="88.2" y="-1.8" font-size="37" style="font-family:'Liberation Serif',serif">(</text>
<text x="102.2" y="0">r</text>
<text x="111.9" y="-1.8" font-size="37" style="font-family:'Liberation Serif',serif">)</text>
<path d="M129.6,3 L137.1,-26.7" stroke="#000" stroke-width="1.9" fill="none"/>
<text x="138.6" y="0">d log r</text>
</g>
<rect x="151.38" y="474.38" width="180.24" height="204" fill="#fff" stroke="#000" stroke-width="1.235" stroke-linejoin="round"/>
<path d="M177.0,515.18 H228.6" stroke="#a020f0" stroke-width="4.94" stroke-linecap="round" fill="none"/>
<path d="M177.0,555.98 H228.6" stroke="#ffa500" stroke-width="4.94" stroke-linecap="round" fill="none"/>
<text x="280.10" y="562.83" text-anchor="middle" font-size="19.76" >NFW</text>
<path d="M177.0,596.78 H228.6" stroke="#ff0000" stroke-width="4.94" stroke-linecap="round" fill="none"/>
<text x="280.10" y="603.63" text-anchor="middle" font-size="19.76" >Einasto</text>
<path d="M177.0,637.58 H228.6" stroke="#00ff00" stroke-width="4.94" stroke-linecap="round" fill="none"/>
<text x="280.10" y="644.43" text-anchor="middle" font-size="19.76" >Burkert</text>
<g font-size="20.6"><text class="sr" x="259.4" y="520.1">α</text><text class="sr" x="277.4" y="520.1">β</text><text class="sr" x="292.1" y="520.1">γ</text></g>
<rect x="685.5" y="97.0" width="47.4" height="612.0" fill="url(#cb)" stroke="#000" stroke-width="1.235"/>
<g fill="none" stroke="#000" stroke-width="1.4" stroke-linecap="round">
<path d="M732.9,97.0 V709.0"/>
<path d="M732.9,97.00 h12.3"/>
<path d="M732.9,250.00 h12.3"/>
<path d="M732.9,403.00 h12.3"/>
<path d="M732.9,556.00 h12.3"/>
<path d="M732.9,709.00 h12.3"/>
</g>
<text x="756.30" y="104.07" text-anchor="start" font-size="19.76" >0</text>
<text x="756.30" y="257.07" text-anchor="start" font-size="19.76" >−2</text>
<text x="756.30" y="410.07" text-anchor="start" font-size="19.76" >−4</text>
<text x="756.30" y="563.07" text-anchor="start" font-size="19.76" >−6</text>
<text x="756.30" y="716.07" text-anchor="start" font-size="19.76" >−8</text>
</svg></body></html>
